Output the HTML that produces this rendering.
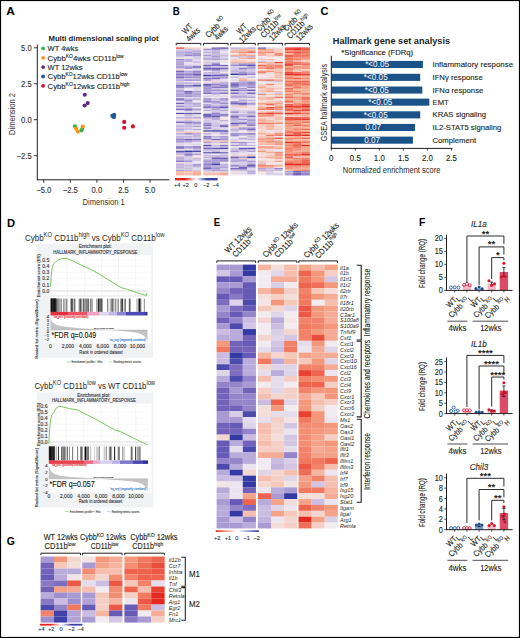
<!DOCTYPE html>
<html><head><meta charset="utf-8"><title>Figure</title>
<style>
html,body{margin:0;padding:0;background:#fff;}
body{width:520px;height:638px;overflow:hidden;}
svg{display:block;font-family:"Liberation Sans", sans-serif;}
</style></head>
<body>
<svg width="520" height="638" viewBox="0 0 520 638">
<rect x="0" y="0" width="520" height="638" fill="#fff"/>
<text transform="translate(6.30 15.00) scale(1.156 1)" x="0" y="0" font-size="10.3" font-weight="bold" fill="#000">A</text>
<text transform="translate(172.80 15.00) scale(0.941 1)" x="0" y="0" font-size="10.3" font-weight="bold" fill="#000">B</text>
<text transform="translate(320.60 15.20) scale(1.075 1)" x="0" y="0" font-size="10.3" font-weight="bold" fill="#000">C</text>
<text transform="translate(6.90 226.80) scale(1.089 1)" x="0" y="0" font-size="10.3" font-weight="bold" fill="#000">D</text>
<text transform="translate(213.75 226.30) scale(0.932 1)" x="0" y="0" font-size="10.3" font-weight="bold" fill="#000">E</text>
<text transform="translate(419.00 226.30) scale(1.001 1)" x="0" y="0" font-size="10.3" font-weight="bold" fill="#000">F</text>
<text transform="translate(6.80 544.60) scale(1.011 1)" x="0" y="0" font-size="10.3" font-weight="bold" fill="#000">G</text>
<text x="48.50" y="40.60" font-size="7.7" font-weight="bold" fill="#231f20" textLength="110.00" lengthAdjust="spacingAndGlyphs" >Multi dimensional scaling plot</text>
<line x1="37.30" y1="44.50" x2="37.30" y2="180.20" stroke="#231f20" stroke-width="1.0" />
<line x1="36.90" y1="179.80" x2="169.40" y2="179.80" stroke="#231f20" stroke-width="1.0" />
<line x1="33.90" y1="47.80" x2="37.30" y2="47.80" stroke="#231f20" stroke-width="0.9" />
<text x="31.70" y="50.90" font-size="8.8" text-anchor="end" fill="#333" stroke="#333" stroke-width="0.12" textLength="10.64" lengthAdjust="spacingAndGlyphs" >5.0</text>
<line x1="33.90" y1="83.75" x2="37.30" y2="83.75" stroke="#231f20" stroke-width="0.9" />
<text x="31.70" y="86.85" font-size="8.8" text-anchor="end" fill="#333" stroke="#333" stroke-width="0.12" textLength="10.64" lengthAdjust="spacingAndGlyphs" >2.5</text>
<line x1="33.90" y1="119.70" x2="37.30" y2="119.70" stroke="#231f20" stroke-width="0.9" />
<text x="31.70" y="122.80" font-size="8.8" text-anchor="end" fill="#333" stroke="#333" stroke-width="0.12" textLength="10.64" lengthAdjust="spacingAndGlyphs" >0.0</text>
<line x1="33.90" y1="155.65" x2="37.30" y2="155.65" stroke="#231f20" stroke-width="0.9" />
<text x="31.70" y="158.75" font-size="8.8" text-anchor="end" fill="#333" stroke="#333" stroke-width="0.12" textLength="15.11" lengthAdjust="spacingAndGlyphs" >−2.5</text>
<line x1="43.75" y1="179.80" x2="43.75" y2="182.80" stroke="#231f20" stroke-width="0.9" />
<text x="43.75" y="192.90" font-size="8.8" text-anchor="middle" fill="#333" stroke="#333" stroke-width="0.12" textLength="15.11" lengthAdjust="spacingAndGlyphs" >−5.0</text>
<line x1="70.33" y1="179.80" x2="70.33" y2="182.80" stroke="#231f20" stroke-width="0.9" />
<text x="70.33" y="192.90" font-size="8.8" text-anchor="middle" fill="#333" stroke="#333" stroke-width="0.12" textLength="15.11" lengthAdjust="spacingAndGlyphs" >−2.5</text>
<line x1="96.90" y1="179.80" x2="96.90" y2="182.80" stroke="#231f20" stroke-width="0.9" />
<text x="96.90" y="192.90" font-size="8.8" text-anchor="middle" fill="#333" stroke="#333" stroke-width="0.12" textLength="10.64" lengthAdjust="spacingAndGlyphs" >0.0</text>
<line x1="123.48" y1="179.80" x2="123.48" y2="182.80" stroke="#231f20" stroke-width="0.9" />
<text x="123.48" y="192.90" font-size="8.8" text-anchor="middle" fill="#333" stroke="#333" stroke-width="0.12" textLength="10.64" lengthAdjust="spacingAndGlyphs" >2.5</text>
<line x1="150.05" y1="179.80" x2="150.05" y2="182.80" stroke="#231f20" stroke-width="0.9" />
<text x="150.05" y="192.90" font-size="8.8" text-anchor="middle" fill="#333" stroke="#333" stroke-width="0.12" textLength="10.64" lengthAdjust="spacingAndGlyphs" >5.0</text>
<text x="103.70" y="204.80" font-size="9.6" text-anchor="middle" fill="#333" textLength="42.30" lengthAdjust="spacingAndGlyphs" >Dimension 1</text>
<text x="14.90" y="114.00" font-size="9.6" text-anchor="middle" fill="#333" textLength="41.90" lengthAdjust="spacingAndGlyphs" transform="rotate(-90 14.90 114.00)" >Dimension 2</text>
<circle cx="43.10" cy="48.30" r="1.9" fill="#35b34a" />
<text x="47.60" y="51.00" font-size="7.5" fill="#231f20" stroke="#231f20" stroke-width="0.12" >WT 4wks</text>
<circle cx="43.10" cy="57.80" r="1.9" fill="#f7941d" />
<text x="47.60" y="60.50" font-size="7.5" fill="#231f20" stroke="#231f20" stroke-width="0.12" textLength="76.10" lengthAdjust="spacingAndGlyphs" >Cybb<tspan baseline-shift="2.8" font-size="4.8">KO</tspan>4wks CD11b<tspan baseline-shift="2.8" font-size="4.8">low</tspan></text>
<circle cx="43.10" cy="67.10" r="1.9" fill="#5b2a86" />
<text x="47.60" y="69.80" font-size="7.5" fill="#231f20" stroke="#231f20" stroke-width="0.12" >WT 12wks</text>
<circle cx="43.10" cy="76.50" r="1.9" fill="#1b5a96" />
<text x="47.60" y="79.20" font-size="7.5" fill="#231f20" stroke="#231f20" stroke-width="0.12" textLength="79.60" lengthAdjust="spacingAndGlyphs" >Cybb<tspan baseline-shift="2.8" font-size="4.8">KO</tspan>12wks CD11b<tspan baseline-shift="2.8" font-size="4.8">low</tspan></text>
<circle cx="43.10" cy="85.80" r="1.9" fill="#d0112b" />
<text x="47.60" y="88.50" font-size="7.5" fill="#231f20" stroke="#231f20" stroke-width="0.12" textLength="81.90" lengthAdjust="spacingAndGlyphs" >Cybb<tspan baseline-shift="2.8" font-size="4.8">KO</tspan>12wks CD11b<tspan baseline-shift="2.8" font-size="4.8">high</tspan></text>
<circle cx="84.80" cy="94.80" r="2.05" fill="#5b2a86" />
<circle cx="84.60" cy="105.50" r="2.05" fill="#5b2a86" />
<circle cx="87.70" cy="103.10" r="2.05" fill="#5b2a86" />
<circle cx="74.90" cy="126.30" r="2.05" fill="#35b34a" />
<circle cx="81.40" cy="130.50" r="2.05" fill="#35b34a" />
<circle cx="82.30" cy="128.80" r="2.05" fill="#35b34a" />
<circle cx="76.10" cy="128.60" r="2.05" fill="#f7941d" />
<circle cx="77.90" cy="131.60" r="2.05" fill="#f7941d" />
<circle cx="82.80" cy="126.50" r="2.05" fill="#f7941d" />
<circle cx="112.30" cy="115.70" r="2.05" fill="#1b5a96" />
<circle cx="114.20" cy="114.70" r="2.05" fill="#1b5a96" />
<circle cx="114.00" cy="117.10" r="2.05" fill="#1b5a96" />
<circle cx="113.30" cy="116.60" r="2.05" fill="#1b5a96" />
<circle cx="124.20" cy="121.90" r="2.05" fill="#d0112b" />
<circle cx="124.20" cy="127.80" r="2.05" fill="#d0112b" />
<circle cx="132.90" cy="126.40" r="2.05" fill="#d0112b" />
<rect x="176.00" y="47.40" width="8.38" height="1.50" fill="#ea4d3c" />
<rect x="184.33" y="47.40" width="8.38" height="1.50" fill="#f6c8ba" />
<rect x="192.67" y="47.40" width="8.38" height="1.50" fill="#f5cfc5" />
<rect x="176.00" y="48.85" width="8.38" height="1.50" fill="#dfd5e9" />
<rect x="184.33" y="48.85" width="8.38" height="1.50" fill="#c6b9df" />
<rect x="192.67" y="48.85" width="8.38" height="1.50" fill="#dcd2e8" />
<rect x="176.00" y="50.31" width="8.38" height="1.50" fill="#bfb1dc" />
<rect x="184.33" y="50.31" width="8.38" height="1.50" fill="#c6b9df" />
<rect x="192.67" y="50.31" width="8.38" height="1.50" fill="#af9fd5" />
<rect x="176.00" y="51.76" width="8.38" height="1.50" fill="#bbacda" />
<rect x="184.33" y="51.76" width="8.38" height="1.50" fill="#aa9ad3" />
<rect x="192.67" y="51.76" width="8.38" height="1.50" fill="#c5b7de" />
<rect x="176.00" y="53.22" width="8.38" height="1.50" fill="#b1a2d6" />
<rect x="184.33" y="53.22" width="8.38" height="1.50" fill="#af9fd5" />
<rect x="192.67" y="53.22" width="8.38" height="1.50" fill="#9584c9" />
<rect x="176.00" y="54.67" width="8.38" height="1.50" fill="#c0b3dc" />
<rect x="184.33" y="54.67" width="8.38" height="1.50" fill="#9585ca" />
<rect x="192.67" y="54.67" width="8.38" height="1.50" fill="#a191cf" />
<rect x="176.00" y="56.13" width="8.38" height="1.50" fill="#cabee1" />
<rect x="184.33" y="56.13" width="8.38" height="1.50" fill="#d8cde6" />
<rect x="192.67" y="56.13" width="8.38" height="1.50" fill="#cabde1" />
<rect x="176.00" y="57.58" width="8.38" height="1.50" fill="#f3e4e3" />
<rect x="184.33" y="57.58" width="8.38" height="1.50" fill="#e9e1ec" />
<rect x="192.67" y="57.58" width="8.38" height="1.50" fill="#d5c9e5" />
<rect x="176.00" y="59.04" width="8.38" height="1.50" fill="#9282c8" />
<rect x="184.33" y="59.04" width="8.38" height="1.50" fill="#b4a5d7" />
<rect x="192.67" y="59.04" width="8.38" height="1.50" fill="#ded4e9" />
<rect x="176.00" y="60.49" width="8.38" height="1.50" fill="#bcaedb" />
<rect x="184.33" y="60.49" width="8.38" height="1.50" fill="#b4a5d7" />
<rect x="192.67" y="60.49" width="8.38" height="1.50" fill="#d6cae5" />
<rect x="176.00" y="61.95" width="8.38" height="1.50" fill="#b0a1d6" />
<rect x="184.33" y="61.95" width="8.38" height="1.50" fill="#eee7ef" />
<rect x="192.67" y="61.95" width="8.38" height="1.50" fill="#cec1e2" />
<rect x="176.00" y="63.40" width="8.38" height="1.50" fill="#a191cf" />
<rect x="184.33" y="63.40" width="8.38" height="1.50" fill="#e1d8ea" />
<rect x="192.67" y="63.40" width="8.38" height="1.50" fill="#e3daea" />
<rect x="176.00" y="64.85" width="8.38" height="1.50" fill="#c5b7de" />
<rect x="184.33" y="64.85" width="8.38" height="1.50" fill="#d4c9e5" />
<rect x="192.67" y="64.85" width="8.38" height="1.50" fill="#d4c9e5" />
<rect x="176.00" y="66.31" width="8.38" height="1.50" fill="#8b7bc5" />
<rect x="184.33" y="66.31" width="8.38" height="1.50" fill="#9686ca" />
<rect x="192.67" y="66.31" width="8.38" height="1.50" fill="#4e4aae" />
<rect x="176.00" y="67.76" width="8.38" height="1.50" fill="#cbbfe1" />
<rect x="184.33" y="67.76" width="8.38" height="1.50" fill="#a595d1" />
<rect x="192.67" y="67.76" width="8.38" height="1.50" fill="#cdc1e2" />
<rect x="176.00" y="69.22" width="8.38" height="1.50" fill="#f5d3cb" />
<rect x="184.33" y="69.22" width="8.38" height="1.50" fill="#efe9ef" />
<rect x="192.67" y="69.22" width="8.38" height="1.50" fill="#dcd2e8" />
<rect x="176.00" y="70.67" width="8.38" height="1.50" fill="#7a69bd" />
<rect x="184.33" y="70.67" width="8.38" height="1.50" fill="#b2a3d7" />
<rect x="192.67" y="70.67" width="8.38" height="1.50" fill="#9888cb" />
<rect x="176.00" y="72.13" width="8.38" height="1.50" fill="#aa9ad3" />
<rect x="184.33" y="72.13" width="8.38" height="1.50" fill="#b6a7d8" />
<rect x="192.67" y="72.13" width="8.38" height="1.50" fill="#9b8bcc" />
<rect x="176.00" y="73.58" width="8.38" height="1.50" fill="#8372c1" />
<rect x="184.33" y="73.58" width="8.38" height="1.50" fill="#8e7dc6" />
<rect x="192.67" y="73.58" width="8.38" height="1.50" fill="#7362ba" />
<rect x="176.00" y="75.04" width="8.38" height="1.50" fill="#a898d2" />
<rect x="184.33" y="75.04" width="8.38" height="1.50" fill="#b0a0d5" />
<rect x="192.67" y="75.04" width="8.38" height="1.50" fill="#9282c8" />
<rect x="176.00" y="76.49" width="8.38" height="1.50" fill="#7968bd" />
<rect x="184.33" y="76.49" width="8.38" height="1.50" fill="#9a8acc" />
<rect x="192.67" y="76.49" width="8.38" height="1.50" fill="#a696d1" />
<rect x="176.00" y="77.95" width="8.38" height="1.50" fill="#bcadda" />
<rect x="184.33" y="77.95" width="8.38" height="1.50" fill="#d6cae5" />
<rect x="192.67" y="77.95" width="8.38" height="1.50" fill="#c9bce0" />
<rect x="176.00" y="79.40" width="8.38" height="1.50" fill="#af9fd5" />
<rect x="184.33" y="79.40" width="8.38" height="1.50" fill="#8a7ac5" />
<rect x="192.67" y="79.40" width="8.38" height="1.50" fill="#9989cb" />
<rect x="176.00" y="80.85" width="8.38" height="1.50" fill="#dcd1e8" />
<rect x="184.33" y="80.85" width="8.38" height="1.50" fill="#efe8ef" />
<rect x="192.67" y="80.85" width="8.38" height="1.50" fill="#efe8ef" />
<rect x="176.00" y="82.31" width="8.38" height="1.50" fill="#b5a6d8" />
<rect x="184.33" y="82.31" width="8.38" height="1.50" fill="#b0a0d5" />
<rect x="192.67" y="82.31" width="8.38" height="1.50" fill="#c0b3dc" />
<rect x="176.00" y="83.76" width="8.38" height="1.50" fill="#c0b2dc" />
<rect x="184.33" y="83.76" width="8.38" height="1.50" fill="#d6cbe5" />
<rect x="192.67" y="83.76" width="8.38" height="1.50" fill="#b9aad9" />
<rect x="176.00" y="85.22" width="8.38" height="1.50" fill="#5e55b3" />
<rect x="184.33" y="85.22" width="8.38" height="1.50" fill="#6f60b9" />
<rect x="192.67" y="85.22" width="8.38" height="1.50" fill="#343aa5" />
<rect x="176.00" y="86.67" width="8.38" height="1.50" fill="#9888cb" />
<rect x="184.33" y="86.67" width="8.38" height="1.50" fill="#cbbfe1" />
<rect x="192.67" y="86.67" width="8.38" height="1.50" fill="#dacfe7" />
<rect x="176.00" y="88.13" width="8.38" height="1.50" fill="#cdc1e2" />
<rect x="184.33" y="88.13" width="8.38" height="1.50" fill="#ede6ee" />
<rect x="192.67" y="88.13" width="8.38" height="1.50" fill="#dcd1e8" />
<rect x="176.00" y="89.58" width="8.38" height="1.50" fill="#b8a9d9" />
<rect x="184.33" y="89.58" width="8.38" height="1.50" fill="#eae2ed" />
<rect x="192.67" y="89.58" width="8.38" height="1.50" fill="#dfd5e9" />
<rect x="176.00" y="91.04" width="8.38" height="1.50" fill="#ac9dd4" />
<rect x="184.33" y="91.04" width="8.38" height="1.50" fill="#665ab6" />
<rect x="192.67" y="91.04" width="8.38" height="1.50" fill="#a393d0" />
<rect x="176.00" y="92.49" width="8.38" height="1.50" fill="#bdafdb" />
<rect x="184.33" y="92.49" width="8.38" height="1.50" fill="#8675c3" />
<rect x="192.67" y="92.49" width="8.38" height="1.50" fill="#bbadda" />
<rect x="176.00" y="93.95" width="8.38" height="1.50" fill="#aa9ad3" />
<rect x="184.33" y="93.95" width="8.38" height="1.50" fill="#bbadda" />
<rect x="192.67" y="93.95" width="8.38" height="1.50" fill="#ad9dd4" />
<rect x="176.00" y="95.40" width="8.38" height="1.50" fill="#9b8bcc" />
<rect x="184.33" y="95.40" width="8.38" height="1.50" fill="#8d7cc6" />
<rect x="192.67" y="95.40" width="8.38" height="1.50" fill="#a696d1" />
<rect x="176.00" y="96.85" width="8.38" height="1.50" fill="#e5dceb" />
<rect x="184.33" y="96.85" width="8.38" height="1.50" fill="#e7deec" />
<rect x="192.67" y="96.85" width="8.38" height="1.50" fill="#e3daea" />
<rect x="176.00" y="98.31" width="8.38" height="1.50" fill="#6c5db8" />
<rect x="184.33" y="98.31" width="8.38" height="1.50" fill="#c1b4dd" />
<rect x="192.67" y="98.31" width="8.38" height="1.50" fill="#af9fd5" />
<rect x="176.00" y="99.76" width="8.38" height="1.50" fill="#ac9cd4" />
<rect x="184.33" y="99.76" width="8.38" height="1.50" fill="#9c8ccd" />
<rect x="192.67" y="99.76" width="8.38" height="1.50" fill="#e6deec" />
<rect x="176.00" y="101.22" width="8.38" height="1.50" fill="#e9e1ed" />
<rect x="184.33" y="101.22" width="8.38" height="1.50" fill="#b3a4d7" />
<rect x="192.67" y="101.22" width="8.38" height="1.50" fill="#ede6ee" />
<rect x="176.00" y="102.67" width="8.38" height="1.50" fill="#7362ba" />
<rect x="184.33" y="102.67" width="8.38" height="1.50" fill="#bbadda" />
<rect x="192.67" y="102.67" width="8.38" height="1.50" fill="#b3a4d7" />
<rect x="176.00" y="104.13" width="8.38" height="1.50" fill="#d8cde6" />
<rect x="184.33" y="104.13" width="8.38" height="1.50" fill="#c6b8df" />
<rect x="192.67" y="104.13" width="8.38" height="1.50" fill="#b7a8d8" />
<rect x="176.00" y="105.58" width="8.38" height="1.50" fill="#9f8fce" />
<rect x="184.33" y="105.58" width="8.38" height="1.50" fill="#c6b9df" />
<rect x="192.67" y="105.58" width="8.38" height="1.50" fill="#bdafdb" />
<rect x="176.00" y="107.04" width="8.38" height="1.50" fill="#dbd0e7" />
<rect x="184.33" y="107.04" width="8.38" height="1.50" fill="#cbbfe1" />
<rect x="192.67" y="107.04" width="8.38" height="1.50" fill="#ebe3ed" />
<rect x="176.00" y="108.49" width="8.38" height="1.50" fill="#7f6fc0" />
<rect x="184.33" y="108.49" width="8.38" height="1.50" fill="#7f6ebf" />
<rect x="192.67" y="108.49" width="8.38" height="1.50" fill="#ab9cd4" />
<rect x="176.00" y="109.95" width="8.38" height="1.50" fill="#dbd1e7" />
<rect x="184.33" y="109.95" width="8.38" height="1.50" fill="#a595d1" />
<rect x="192.67" y="109.95" width="8.38" height="1.50" fill="#cdc0e2" />
<rect x="176.00" y="111.40" width="8.38" height="1.50" fill="#f1ebf0" />
<rect x="184.33" y="111.40" width="8.38" height="1.50" fill="#ece4ee" />
<rect x="192.67" y="111.40" width="8.38" height="1.50" fill="#e8e0ec" />
<rect x="176.00" y="112.85" width="8.38" height="1.50" fill="#5650b0" />
<rect x="184.33" y="112.85" width="8.38" height="1.50" fill="#6b5db7" />
<rect x="192.67" y="112.85" width="8.38" height="1.50" fill="#665ab6" />
<rect x="176.00" y="114.31" width="8.38" height="1.50" fill="#f3e4e4" />
<rect x="184.33" y="114.31" width="8.38" height="1.50" fill="#beb0db" />
<rect x="192.67" y="114.31" width="8.38" height="1.50" fill="#e0d7e9" />
<rect x="176.00" y="115.76" width="8.38" height="1.50" fill="#e9e2ed" />
<rect x="184.33" y="115.76" width="8.38" height="1.50" fill="#d7cce6" />
<rect x="192.67" y="115.76" width="8.38" height="1.50" fill="#ded5e9" />
<rect x="176.00" y="117.22" width="8.38" height="1.50" fill="#b1a2d6" />
<rect x="184.33" y="117.22" width="8.38" height="1.50" fill="#b1a2d6" />
<rect x="192.67" y="117.22" width="8.38" height="1.50" fill="#a999d3" />
<rect x="176.00" y="118.67" width="8.38" height="1.50" fill="#f3e2e1" />
<rect x="184.33" y="118.67" width="8.38" height="1.50" fill="#f5d3cb" />
<rect x="192.67" y="118.67" width="8.38" height="1.50" fill="#f3e1e0" />
<rect x="176.00" y="120.13" width="8.38" height="1.50" fill="#dcd2e8" />
<rect x="184.33" y="120.13" width="8.38" height="1.50" fill="#cabde1" />
<rect x="192.67" y="120.13" width="8.38" height="1.50" fill="#dbd0e7" />
<rect x="176.00" y="121.58" width="8.38" height="1.50" fill="#7c6bbe" />
<rect x="184.33" y="121.58" width="8.38" height="1.50" fill="#8776c3" />
<rect x="192.67" y="121.58" width="8.38" height="1.50" fill="#a090ce" />
<rect x="176.00" y="123.04" width="8.38" height="1.50" fill="#e1d8ea" />
<rect x="184.33" y="123.04" width="8.38" height="1.50" fill="#b3a4d7" />
<rect x="192.67" y="123.04" width="8.38" height="1.50" fill="#a393d0" />
<rect x="176.00" y="124.49" width="8.38" height="1.50" fill="#cfc2e3" />
<rect x="184.33" y="124.49" width="8.38" height="1.50" fill="#c6b9df" />
<rect x="192.67" y="124.49" width="8.38" height="1.50" fill="#d5cae5" />
<rect x="176.00" y="125.95" width="8.38" height="1.50" fill="#c1b3dd" />
<rect x="184.33" y="125.95" width="8.38" height="1.50" fill="#c7badf" />
<rect x="192.67" y="125.95" width="8.38" height="1.50" fill="#ae9ed5" />
<rect x="176.00" y="127.40" width="8.38" height="1.50" fill="#ccc0e2" />
<rect x="184.33" y="127.40" width="8.38" height="1.50" fill="#cdc0e2" />
<rect x="192.67" y="127.40" width="8.38" height="1.50" fill="#eee7ee" />
<rect x="176.00" y="128.85" width="8.38" height="1.50" fill="#b7a8d9" />
<rect x="184.33" y="128.85" width="8.38" height="1.50" fill="#cfc2e3" />
<rect x="192.67" y="128.85" width="8.38" height="1.50" fill="#b4a5d7" />
<rect x="176.00" y="130.31" width="8.38" height="1.50" fill="#c0b2dc" />
<rect x="184.33" y="130.31" width="8.38" height="1.50" fill="#e3daea" />
<rect x="192.67" y="130.31" width="8.38" height="1.50" fill="#e7dfec" />
<rect x="176.00" y="131.76" width="8.38" height="1.50" fill="#f5d2c9" />
<rect x="184.33" y="131.76" width="8.38" height="1.50" fill="#f6bfaf" />
<rect x="192.67" y="131.76" width="8.38" height="1.50" fill="#f6ccc0" />
<rect x="176.00" y="133.22" width="8.38" height="1.50" fill="#ae9ed5" />
<rect x="184.33" y="133.22" width="8.38" height="1.50" fill="#8776c3" />
<rect x="192.67" y="133.22" width="8.38" height="1.50" fill="#aa9ad3" />
<rect x="176.00" y="134.67" width="8.38" height="1.50" fill="#e2d9ea" />
<rect x="184.33" y="134.67" width="8.38" height="1.50" fill="#e1d8ea" />
<rect x="192.67" y="134.67" width="8.38" height="1.50" fill="#c1b3dd" />
<rect x="176.00" y="136.13" width="8.38" height="1.50" fill="#b9abd9" />
<rect x="184.33" y="136.13" width="8.38" height="1.50" fill="#b7a8d8" />
<rect x="192.67" y="136.13" width="8.38" height="1.50" fill="#bdafdb" />
<rect x="176.00" y="137.58" width="8.38" height="1.50" fill="#bcaedb" />
<rect x="184.33" y="137.58" width="8.38" height="1.50" fill="#ccc0e2" />
<rect x="192.67" y="137.58" width="8.38" height="1.50" fill="#cdc0e2" />
<rect x="176.00" y="139.04" width="8.38" height="1.50" fill="#9282c8" />
<rect x="184.33" y="139.04" width="8.38" height="1.50" fill="#6c5eb8" />
<rect x="192.67" y="139.04" width="8.38" height="1.50" fill="#7c6bbe" />
<rect x="176.00" y="140.49" width="8.38" height="1.50" fill="#a796d1" />
<rect x="184.33" y="140.49" width="8.38" height="1.50" fill="#aa9ad3" />
<rect x="192.67" y="140.49" width="8.38" height="1.50" fill="#c0b2dc" />
<rect x="176.00" y="141.95" width="8.38" height="1.50" fill="#c2b4dd" />
<rect x="184.33" y="141.95" width="8.38" height="1.50" fill="#d3c8e4" />
<rect x="192.67" y="141.95" width="8.38" height="1.50" fill="#ece5ee" />
<rect x="176.00" y="143.40" width="8.38" height="1.50" fill="#dbd1e7" />
<rect x="184.33" y="143.40" width="8.38" height="1.50" fill="#e1d8ea" />
<rect x="192.67" y="143.40" width="8.38" height="1.50" fill="#ded4e8" />
<rect x="176.00" y="144.85" width="8.38" height="1.50" fill="#e3dbeb" />
<rect x="184.33" y="144.85" width="8.38" height="1.50" fill="#ebe3ed" />
<rect x="192.67" y="144.85" width="8.38" height="1.50" fill="#e5ddeb" />
<rect x="176.00" y="146.31" width="8.38" height="1.50" fill="#685bb6" />
<rect x="184.33" y="146.31" width="8.38" height="1.50" fill="#8d7dc6" />
<rect x="192.67" y="146.31" width="8.38" height="1.50" fill="#7463bb" />
<rect x="176.00" y="147.76" width="8.38" height="1.50" fill="#9484c9" />
<rect x="184.33" y="147.76" width="8.38" height="1.50" fill="#c9bde0" />
<rect x="192.67" y="147.76" width="8.38" height="1.50" fill="#b5a6d8" />
<rect x="176.00" y="149.22" width="8.38" height="1.50" fill="#f3e1e0" />
<rect x="184.33" y="149.22" width="8.38" height="1.50" fill="#dbd1e7" />
<rect x="192.67" y="149.22" width="8.38" height="1.50" fill="#c0b2dc" />
<rect x="176.00" y="150.67" width="8.38" height="1.50" fill="#5f55b3" />
<rect x="184.33" y="150.67" width="8.38" height="1.50" fill="#343aa5" />
<rect x="192.67" y="150.67" width="8.38" height="1.50" fill="#4f4bae" />
<rect x="176.00" y="152.13" width="8.38" height="1.50" fill="#9c8bcc" />
<rect x="184.33" y="152.13" width="8.38" height="1.50" fill="#a898d2" />
<rect x="192.67" y="152.13" width="8.38" height="1.50" fill="#d6cbe6" />
<rect x="176.00" y="153.58" width="8.38" height="1.50" fill="#cdc1e2" />
<rect x="184.33" y="153.58" width="8.38" height="1.50" fill="#8e7ec6" />
<rect x="192.67" y="153.58" width="8.38" height="1.50" fill="#afa0d5" />
<rect x="176.00" y="155.04" width="8.38" height="1.50" fill="#f5d4cc" />
<rect x="184.33" y="155.04" width="8.38" height="1.50" fill="#a392d0" />
<rect x="192.67" y="155.04" width="8.38" height="1.50" fill="#f4dbd7" />
<rect x="176.00" y="156.49" width="8.38" height="1.50" fill="#bdafdb" />
<rect x="184.33" y="156.49" width="8.38" height="1.50" fill="#d3c7e4" />
<rect x="192.67" y="156.49" width="8.38" height="1.50" fill="#f3e3e2" />
<rect x="176.00" y="157.95" width="8.38" height="1.50" fill="#b8aad9" />
<rect x="184.33" y="157.95" width="8.38" height="1.50" fill="#dbd1e7" />
<rect x="192.67" y="157.95" width="8.38" height="1.50" fill="#c4b6de" />
<rect x="176.00" y="159.40" width="8.38" height="1.50" fill="#ad9dd4" />
<rect x="184.33" y="159.40" width="8.38" height="1.50" fill="#bdafdb" />
<rect x="192.67" y="159.40" width="8.38" height="1.50" fill="#c9bce0" />
<rect x="176.00" y="160.85" width="8.38" height="1.50" fill="#8e7ec6" />
<rect x="184.33" y="160.85" width="8.38" height="1.50" fill="#a291cf" />
<rect x="192.67" y="160.85" width="8.38" height="1.50" fill="#e9e1ed" />
<rect x="176.00" y="162.31" width="8.38" height="1.50" fill="#f4dbd6" />
<rect x="184.33" y="162.31" width="8.38" height="1.50" fill="#e1d8ea" />
<rect x="192.67" y="162.31" width="8.38" height="1.50" fill="#efe9ef" />
<rect x="176.00" y="163.76" width="8.38" height="1.50" fill="#b9abda" />
<rect x="184.33" y="163.76" width="8.38" height="1.50" fill="#d5c9e5" />
<rect x="192.67" y="163.76" width="8.38" height="1.50" fill="#ac9cd4" />
<rect x="176.00" y="165.22" width="8.38" height="1.50" fill="#c0b2dc" />
<rect x="184.33" y="165.22" width="8.38" height="1.50" fill="#c2b4dd" />
<rect x="192.67" y="165.22" width="8.38" height="1.50" fill="#9989cb" />
<rect x="176.00" y="166.67" width="8.38" height="1.50" fill="#c2b5dd" />
<rect x="184.33" y="166.67" width="8.38" height="1.50" fill="#d5c9e5" />
<rect x="192.67" y="166.67" width="8.38" height="1.50" fill="#d5c9e5" />
<rect x="176.00" y="168.13" width="8.38" height="1.50" fill="#cfc3e3" />
<rect x="184.33" y="168.13" width="8.38" height="1.50" fill="#c3b6de" />
<rect x="192.67" y="168.13" width="8.38" height="1.50" fill="#e3dbeb" />
<rect x="176.00" y="169.58" width="8.38" height="1.50" fill="#b5a6d8" />
<rect x="184.33" y="169.58" width="8.38" height="1.50" fill="#c3b5dd" />
<rect x="192.67" y="169.58" width="8.38" height="1.50" fill="#d7cce6" />
<rect x="176.00" y="171.04" width="8.38" height="1.50" fill="#f5b5a1" />
<rect x="184.33" y="171.04" width="8.38" height="1.50" fill="#f6beae" />
<rect x="192.67" y="171.04" width="8.38" height="1.50" fill="#f5ab95" />
<rect x="176.00" y="172.49" width="8.38" height="1.50" fill="#f5b5a1" />
<rect x="184.33" y="172.49" width="8.38" height="1.50" fill="#f6beae" />
<rect x="192.67" y="172.49" width="8.38" height="1.50" fill="#f5ab95" />
<rect x="176.00" y="173.95" width="8.38" height="1.50" fill="#f5b5a1" />
<rect x="184.33" y="173.95" width="8.38" height="1.50" fill="#f6beae" />
<rect x="192.67" y="173.95" width="8.38" height="1.50" fill="#f5ab95" />
<rect x="203.30" y="47.40" width="8.38" height="1.50" fill="#f4deda" />
<rect x="211.63" y="47.40" width="8.38" height="1.50" fill="#7e6dbf" />
<rect x="219.97" y="47.40" width="8.38" height="1.50" fill="#665ab6" />
<rect x="203.30" y="48.85" width="8.38" height="1.50" fill="#9a89cc" />
<rect x="211.63" y="48.85" width="8.38" height="1.50" fill="#9b8bcc" />
<rect x="219.97" y="48.85" width="8.38" height="1.50" fill="#c9bce0" />
<rect x="203.30" y="50.31" width="8.38" height="1.50" fill="#ddd3e8" />
<rect x="211.63" y="50.31" width="8.38" height="1.50" fill="#c1b3dd" />
<rect x="219.97" y="50.31" width="8.38" height="1.50" fill="#d9cee7" />
<rect x="203.30" y="51.76" width="8.38" height="1.50" fill="#bcaedb" />
<rect x="211.63" y="51.76" width="8.38" height="1.50" fill="#bbadda" />
<rect x="219.97" y="51.76" width="8.38" height="1.50" fill="#f2ecf0" />
<rect x="203.30" y="53.22" width="8.38" height="1.50" fill="#ddd4e8" />
<rect x="211.63" y="53.22" width="8.38" height="1.50" fill="#bdafdb" />
<rect x="219.97" y="53.22" width="8.38" height="1.50" fill="#d5cae5" />
<rect x="203.30" y="54.67" width="8.38" height="1.50" fill="#a999d3" />
<rect x="211.63" y="54.67" width="8.38" height="1.50" fill="#bfb1dc" />
<rect x="219.97" y="54.67" width="8.38" height="1.50" fill="#c8bbe0" />
<rect x="203.30" y="56.13" width="8.38" height="1.50" fill="#d2c6e4" />
<rect x="211.63" y="56.13" width="8.38" height="1.50" fill="#9e8ecd" />
<rect x="219.97" y="56.13" width="8.38" height="1.50" fill="#d0c4e3" />
<rect x="203.30" y="57.58" width="8.38" height="1.50" fill="#b7a9d9" />
<rect x="211.63" y="57.58" width="8.38" height="1.50" fill="#bfb2dc" />
<rect x="219.97" y="57.58" width="8.38" height="1.50" fill="#d3c8e4" />
<rect x="203.30" y="59.04" width="8.38" height="1.50" fill="#bcaedb" />
<rect x="211.63" y="59.04" width="8.38" height="1.50" fill="#ac9cd4" />
<rect x="219.97" y="59.04" width="8.38" height="1.50" fill="#c2b5dd" />
<rect x="203.30" y="60.49" width="8.38" height="1.50" fill="#f4d8d3" />
<rect x="211.63" y="60.49" width="8.38" height="1.50" fill="#e8e1ec" />
<rect x="219.97" y="60.49" width="8.38" height="1.50" fill="#f2e8ea" />
<rect x="203.30" y="61.95" width="8.38" height="1.50" fill="#d0c4e3" />
<rect x="211.63" y="61.95" width="8.38" height="1.50" fill="#ccbfe1" />
<rect x="219.97" y="61.95" width="8.38" height="1.50" fill="#e8e0ec" />
<rect x="203.30" y="63.40" width="8.38" height="1.50" fill="#d3c7e4" />
<rect x="211.63" y="63.40" width="8.38" height="1.50" fill="#7b6bbe" />
<rect x="219.97" y="63.40" width="8.38" height="1.50" fill="#f1ebf0" />
<rect x="203.30" y="64.85" width="8.38" height="1.50" fill="#7968bd" />
<rect x="211.63" y="64.85" width="8.38" height="1.50" fill="#7e6ebf" />
<rect x="219.97" y="64.85" width="8.38" height="1.50" fill="#7564bb" />
<rect x="203.30" y="66.31" width="8.38" height="1.50" fill="#afa0d5" />
<rect x="211.63" y="66.31" width="8.38" height="1.50" fill="#d2c6e4" />
<rect x="219.97" y="66.31" width="8.38" height="1.50" fill="#ccbfe1" />
<rect x="203.30" y="67.76" width="8.38" height="1.50" fill="#6a5cb7" />
<rect x="211.63" y="67.76" width="8.38" height="1.50" fill="#675bb6" />
<rect x="219.97" y="67.76" width="8.38" height="1.50" fill="#7766bc" />
<rect x="203.30" y="69.22" width="8.38" height="1.50" fill="#8a79c4" />
<rect x="211.63" y="69.22" width="8.38" height="1.50" fill="#7766bc" />
<rect x="219.97" y="69.22" width="8.38" height="1.50" fill="#b7a8d8" />
<rect x="203.30" y="70.67" width="8.38" height="1.50" fill="#f0eaef" />
<rect x="211.63" y="70.67" width="8.38" height="1.50" fill="#d3c7e4" />
<rect x="219.97" y="70.67" width="8.38" height="1.50" fill="#dad0e7" />
<rect x="203.30" y="72.13" width="8.38" height="1.50" fill="#bfb1dc" />
<rect x="211.63" y="72.13" width="8.38" height="1.50" fill="#bdafdb" />
<rect x="219.97" y="72.13" width="8.38" height="1.50" fill="#f3e5e6" />
<rect x="203.30" y="73.58" width="8.38" height="1.50" fill="#baacda" />
<rect x="211.63" y="73.58" width="8.38" height="1.50" fill="#b4a5d7" />
<rect x="219.97" y="73.58" width="8.38" height="1.50" fill="#9d8ccd" />
<rect x="203.30" y="75.04" width="8.38" height="1.50" fill="#343aa5" />
<rect x="211.63" y="75.04" width="8.38" height="1.50" fill="#6257b4" />
<rect x="219.97" y="75.04" width="8.38" height="1.50" fill="#7362ba" />
<rect x="203.30" y="76.49" width="8.38" height="1.50" fill="#c6b9df" />
<rect x="211.63" y="76.49" width="8.38" height="1.50" fill="#b6a8d8" />
<rect x="219.97" y="76.49" width="8.38" height="1.50" fill="#ae9fd5" />
<rect x="203.30" y="77.95" width="8.38" height="1.50" fill="#806fc0" />
<rect x="211.63" y="77.95" width="8.38" height="1.50" fill="#7b6abe" />
<rect x="219.97" y="77.95" width="8.38" height="1.50" fill="#c0b2dc" />
<rect x="203.30" y="79.40" width="8.38" height="1.50" fill="#a191cf" />
<rect x="211.63" y="79.40" width="8.38" height="1.50" fill="#dad0e7" />
<rect x="219.97" y="79.40" width="8.38" height="1.50" fill="#ece5ee" />
<rect x="203.30" y="80.85" width="8.38" height="1.50" fill="#f4ddda" />
<rect x="211.63" y="80.85" width="8.38" height="1.50" fill="#f4d8d2" />
<rect x="219.97" y="80.85" width="8.38" height="1.50" fill="#dfd5e9" />
<rect x="203.30" y="82.31" width="8.38" height="1.50" fill="#e3daea" />
<rect x="211.63" y="82.31" width="8.38" height="1.50" fill="#c4b6de" />
<rect x="219.97" y="82.31" width="8.38" height="1.50" fill="#ae9ed5" />
<rect x="203.30" y="83.76" width="8.38" height="1.50" fill="#695cb7" />
<rect x="211.63" y="83.76" width="8.38" height="1.50" fill="#9483c9" />
<rect x="219.97" y="83.76" width="8.38" height="1.50" fill="#b0a0d5" />
<rect x="203.30" y="85.22" width="8.38" height="1.50" fill="#675bb6" />
<rect x="211.63" y="85.22" width="8.38" height="1.50" fill="#a898d2" />
<rect x="219.97" y="85.22" width="8.38" height="1.50" fill="#7968bd" />
<rect x="203.30" y="86.67" width="8.38" height="1.50" fill="#aa9ad3" />
<rect x="211.63" y="86.67" width="8.38" height="1.50" fill="#8675c3" />
<rect x="219.97" y="86.67" width="8.38" height="1.50" fill="#8c7bc5" />
<rect x="203.30" y="88.13" width="8.38" height="1.50" fill="#9585ca" />
<rect x="211.63" y="88.13" width="8.38" height="1.50" fill="#c7badf" />
<rect x="219.97" y="88.13" width="8.38" height="1.50" fill="#d6cbe6" />
<rect x="203.30" y="89.58" width="8.38" height="1.50" fill="#a292cf" />
<rect x="211.63" y="89.58" width="8.38" height="1.50" fill="#9d8dcd" />
<rect x="219.97" y="89.58" width="8.38" height="1.50" fill="#a797d1" />
<rect x="203.30" y="91.04" width="8.38" height="1.50" fill="#ae9ed5" />
<rect x="211.63" y="91.04" width="8.38" height="1.50" fill="#ccc0e2" />
<rect x="219.97" y="91.04" width="8.38" height="1.50" fill="#d2c6e4" />
<rect x="203.30" y="92.49" width="8.38" height="1.50" fill="#7867bc" />
<rect x="211.63" y="92.49" width="8.38" height="1.50" fill="#a292d0" />
<rect x="219.97" y="92.49" width="8.38" height="1.50" fill="#8171c1" />
<rect x="203.30" y="93.95" width="8.38" height="1.50" fill="#efe8ef" />
<rect x="211.63" y="93.95" width="8.38" height="1.50" fill="#d3c7e4" />
<rect x="219.97" y="93.95" width="8.38" height="1.50" fill="#f3e4e4" />
<rect x="203.30" y="95.40" width="8.38" height="1.50" fill="#cfc3e3" />
<rect x="211.63" y="95.40" width="8.38" height="1.50" fill="#dbd0e7" />
<rect x="219.97" y="95.40" width="8.38" height="1.50" fill="#dbd1e7" />
<rect x="203.30" y="96.85" width="8.38" height="1.50" fill="#ebe3ed" />
<rect x="211.63" y="96.85" width="8.38" height="1.50" fill="#efe9ef" />
<rect x="219.97" y="96.85" width="8.38" height="1.50" fill="#f3e3e3" />
<rect x="203.30" y="98.31" width="8.38" height="1.50" fill="#8e7dc6" />
<rect x="211.63" y="98.31" width="8.38" height="1.50" fill="#bdaedb" />
<rect x="219.97" y="98.31" width="8.38" height="1.50" fill="#907fc7" />
<rect x="203.30" y="99.76" width="8.38" height="1.50" fill="#b0a0d5" />
<rect x="211.63" y="99.76" width="8.38" height="1.50" fill="#d6cbe6" />
<rect x="219.97" y="99.76" width="8.38" height="1.50" fill="#baabda" />
<rect x="203.30" y="101.22" width="8.38" height="1.50" fill="#7c6bbe" />
<rect x="211.63" y="101.22" width="8.38" height="1.50" fill="#8878c4" />
<rect x="219.97" y="101.22" width="8.38" height="1.50" fill="#c2b4dd" />
<rect x="203.30" y="102.67" width="8.38" height="1.50" fill="#e3daea" />
<rect x="211.63" y="102.67" width="8.38" height="1.50" fill="#c2b5dd" />
<rect x="219.97" y="102.67" width="8.38" height="1.50" fill="#9c8ccd" />
<rect x="203.30" y="104.13" width="8.38" height="1.50" fill="#ac9cd4" />
<rect x="211.63" y="104.13" width="8.38" height="1.50" fill="#d5cae5" />
<rect x="219.97" y="104.13" width="8.38" height="1.50" fill="#c8bbe0" />
<rect x="203.30" y="105.58" width="8.38" height="1.50" fill="#9686ca" />
<rect x="211.63" y="105.58" width="8.38" height="1.50" fill="#b1a2d6" />
<rect x="219.97" y="105.58" width="8.38" height="1.50" fill="#9786ca" />
<rect x="203.30" y="107.04" width="8.38" height="1.50" fill="#8574c2" />
<rect x="211.63" y="107.04" width="8.38" height="1.50" fill="#8f7fc7" />
<rect x="219.97" y="107.04" width="8.38" height="1.50" fill="#6056b4" />
<rect x="203.30" y="108.49" width="8.38" height="1.50" fill="#ddd3e8" />
<rect x="211.63" y="108.49" width="8.38" height="1.50" fill="#afa0d5" />
<rect x="219.97" y="108.49" width="8.38" height="1.50" fill="#dbd1e7" />
<rect x="203.30" y="109.95" width="8.38" height="1.50" fill="#bbadda" />
<rect x="211.63" y="109.95" width="8.38" height="1.50" fill="#d4c8e5" />
<rect x="219.97" y="109.95" width="8.38" height="1.50" fill="#b0a1d6" />
<rect x="203.30" y="111.40" width="8.38" height="1.50" fill="#f2e9ec" />
<rect x="211.63" y="111.40" width="8.38" height="1.50" fill="#c4b6de" />
<rect x="219.97" y="111.40" width="8.38" height="1.50" fill="#ded5e9" />
<rect x="203.30" y="112.85" width="8.38" height="1.50" fill="#c5b8de" />
<rect x="211.63" y="112.85" width="8.38" height="1.50" fill="#9685ca" />
<rect x="219.97" y="112.85" width="8.38" height="1.50" fill="#d0c4e3" />
<rect x="203.30" y="114.31" width="8.38" height="1.50" fill="#353ba5" />
<rect x="211.63" y="114.31" width="8.38" height="1.50" fill="#8777c3" />
<rect x="219.97" y="114.31" width="8.38" height="1.50" fill="#665ab6" />
<rect x="203.30" y="115.76" width="8.38" height="1.50" fill="#7e6dbf" />
<rect x="211.63" y="115.76" width="8.38" height="1.50" fill="#6a5cb7" />
<rect x="219.97" y="115.76" width="8.38" height="1.50" fill="#c8bbe0" />
<rect x="203.30" y="117.22" width="8.38" height="1.50" fill="#9e8dcd" />
<rect x="211.63" y="117.22" width="8.38" height="1.50" fill="#9f8fce" />
<rect x="219.97" y="117.22" width="8.38" height="1.50" fill="#f3e2e1" />
<rect x="203.30" y="118.67" width="8.38" height="1.50" fill="#dfd6e9" />
<rect x="211.63" y="118.67" width="8.38" height="1.50" fill="#bcaedb" />
<rect x="219.97" y="118.67" width="8.38" height="1.50" fill="#f3e2e0" />
<rect x="203.30" y="120.13" width="8.38" height="1.50" fill="#cbbee1" />
<rect x="211.63" y="120.13" width="8.38" height="1.50" fill="#d6cbe6" />
<rect x="219.97" y="120.13" width="8.38" height="1.50" fill="#b6a7d8" />
<rect x="203.30" y="121.58" width="8.38" height="1.50" fill="#c8bbe0" />
<rect x="211.63" y="121.58" width="8.38" height="1.50" fill="#d7cce6" />
<rect x="219.97" y="121.58" width="8.38" height="1.50" fill="#e4dceb" />
<rect x="203.30" y="123.04" width="8.38" height="1.50" fill="#9d8dcd" />
<rect x="211.63" y="123.04" width="8.38" height="1.50" fill="#cfc3e3" />
<rect x="219.97" y="123.04" width="8.38" height="1.50" fill="#ece5ee" />
<rect x="203.30" y="124.49" width="8.38" height="1.50" fill="#8372c1" />
<rect x="211.63" y="124.49" width="8.38" height="1.50" fill="#c9bce0" />
<rect x="219.97" y="124.49" width="8.38" height="1.50" fill="#8c7bc5" />
<rect x="203.30" y="125.95" width="8.38" height="1.50" fill="#c8bbe0" />
<rect x="211.63" y="125.95" width="8.38" height="1.50" fill="#cec1e2" />
<rect x="219.97" y="125.95" width="8.38" height="1.50" fill="#7867bc" />
<rect x="203.30" y="127.40" width="8.38" height="1.50" fill="#8171c1" />
<rect x="211.63" y="127.40" width="8.38" height="1.50" fill="#d7cce6" />
<rect x="219.97" y="127.40" width="8.38" height="1.50" fill="#dcd2e8" />
<rect x="203.30" y="128.85" width="8.38" height="1.50" fill="#dcd2e8" />
<rect x="211.63" y="128.85" width="8.38" height="1.50" fill="#c9bce0" />
<rect x="219.97" y="128.85" width="8.38" height="1.50" fill="#dbd0e7" />
<rect x="203.30" y="130.31" width="8.38" height="1.50" fill="#4142a9" />
<rect x="211.63" y="130.31" width="8.38" height="1.50" fill="#393da7" />
<rect x="219.97" y="130.31" width="8.38" height="1.50" fill="#4c49ad" />
<rect x="203.30" y="131.76" width="8.38" height="1.50" fill="#f4ddd9" />
<rect x="211.63" y="131.76" width="8.38" height="1.50" fill="#d9cee6" />
<rect x="219.97" y="131.76" width="8.38" height="1.50" fill="#c0b2dc" />
<rect x="203.30" y="133.22" width="8.38" height="1.50" fill="#b6a8d8" />
<rect x="211.63" y="133.22" width="8.38" height="1.50" fill="#ded4e8" />
<rect x="219.97" y="133.22" width="8.38" height="1.50" fill="#ac9cd4" />
<rect x="203.30" y="134.67" width="8.38" height="1.50" fill="#e2d9ea" />
<rect x="211.63" y="134.67" width="8.38" height="1.50" fill="#f1ebf0" />
<rect x="219.97" y="134.67" width="8.38" height="1.50" fill="#f3e6e8" />
<rect x="203.30" y="136.13" width="8.38" height="1.50" fill="#7d6cbf" />
<rect x="211.63" y="136.13" width="8.38" height="1.50" fill="#b7a8d8" />
<rect x="219.97" y="136.13" width="8.38" height="1.50" fill="#9a8acc" />
<rect x="203.30" y="137.58" width="8.38" height="1.50" fill="#9685ca" />
<rect x="211.63" y="137.58" width="8.38" height="1.50" fill="#d2c6e4" />
<rect x="219.97" y="137.58" width="8.38" height="1.50" fill="#b3a3d7" />
<rect x="203.30" y="139.04" width="8.38" height="1.50" fill="#c1b4dd" />
<rect x="211.63" y="139.04" width="8.38" height="1.50" fill="#7766bc" />
<rect x="219.97" y="139.04" width="8.38" height="1.50" fill="#9d8dcd" />
<rect x="203.30" y="140.49" width="8.38" height="1.50" fill="#f5bbaa" />
<rect x="211.63" y="140.49" width="8.38" height="1.50" fill="#f5d5cd" />
<rect x="219.97" y="140.49" width="8.38" height="1.50" fill="#f6c2b2" />
<rect x="203.30" y="141.95" width="8.38" height="1.50" fill="#afa0d5" />
<rect x="211.63" y="141.95" width="8.38" height="1.50" fill="#cfc3e3" />
<rect x="219.97" y="141.95" width="8.38" height="1.50" fill="#b1a2d6" />
<rect x="203.30" y="143.40" width="8.38" height="1.50" fill="#dbd1e7" />
<rect x="211.63" y="143.40" width="8.38" height="1.50" fill="#f3e1e0" />
<rect x="219.97" y="143.40" width="8.38" height="1.50" fill="#f3e3e3" />
<rect x="203.30" y="144.85" width="8.38" height="1.50" fill="#6056b4" />
<rect x="211.63" y="144.85" width="8.38" height="1.50" fill="#c9bce0" />
<rect x="219.97" y="144.85" width="8.38" height="1.50" fill="#8978c4" />
<rect x="203.30" y="146.31" width="8.38" height="1.50" fill="#bbadda" />
<rect x="211.63" y="146.31" width="8.38" height="1.50" fill="#d1c5e4" />
<rect x="219.97" y="146.31" width="8.38" height="1.50" fill="#bcaedb" />
<rect x="203.30" y="147.76" width="8.38" height="1.50" fill="#7a6abd" />
<rect x="211.63" y="147.76" width="8.38" height="1.50" fill="#6f60b9" />
<rect x="219.97" y="147.76" width="8.38" height="1.50" fill="#504cae" />
<rect x="203.30" y="149.22" width="8.38" height="1.50" fill="#b1a2d6" />
<rect x="211.63" y="149.22" width="8.38" height="1.50" fill="#beb0db" />
<rect x="219.97" y="149.22" width="8.38" height="1.50" fill="#d3c7e4" />
<rect x="203.30" y="150.67" width="8.38" height="1.50" fill="#dcd2e8" />
<rect x="211.63" y="150.67" width="8.38" height="1.50" fill="#c5b8df" />
<rect x="219.97" y="150.67" width="8.38" height="1.50" fill="#ded4e8" />
<rect x="203.30" y="152.13" width="8.38" height="1.50" fill="#6257b4" />
<rect x="211.63" y="152.13" width="8.38" height="1.50" fill="#4b48ad" />
<rect x="219.97" y="152.13" width="8.38" height="1.50" fill="#7262ba" />
<rect x="203.30" y="153.58" width="8.38" height="1.50" fill="#dfd6e9" />
<rect x="211.63" y="153.58" width="8.38" height="1.50" fill="#eee7ee" />
<rect x="219.97" y="153.58" width="8.38" height="1.50" fill="#d9cee7" />
<rect x="203.30" y="155.04" width="8.38" height="1.50" fill="#cbbee1" />
<rect x="211.63" y="155.04" width="8.38" height="1.50" fill="#cabde1" />
<rect x="219.97" y="155.04" width="8.38" height="1.50" fill="#c6b8df" />
<rect x="203.30" y="156.49" width="8.38" height="1.50" fill="#c1b4dd" />
<rect x="211.63" y="156.49" width="8.38" height="1.50" fill="#a494d0" />
<rect x="219.97" y="156.49" width="8.38" height="1.50" fill="#b1a2d6" />
<rect x="203.30" y="157.95" width="8.38" height="1.50" fill="#e0d7e9" />
<rect x="211.63" y="157.95" width="8.38" height="1.50" fill="#7060b9" />
<rect x="219.97" y="157.95" width="8.38" height="1.50" fill="#7463bb" />
<rect x="203.30" y="159.40" width="8.38" height="1.50" fill="#ad9dd4" />
<rect x="211.63" y="159.40" width="8.38" height="1.50" fill="#a695d1" />
<rect x="219.97" y="159.40" width="8.38" height="1.50" fill="#8c7bc5" />
<rect x="203.30" y="160.85" width="8.38" height="1.50" fill="#a999d3" />
<rect x="211.63" y="160.85" width="8.38" height="1.50" fill="#ae9ed5" />
<rect x="219.97" y="160.85" width="8.38" height="1.50" fill="#b4a5d7" />
<rect x="203.30" y="162.31" width="8.38" height="1.50" fill="#ad9dd4" />
<rect x="211.63" y="162.31" width="8.38" height="1.50" fill="#8f7ec7" />
<rect x="219.97" y="162.31" width="8.38" height="1.50" fill="#eee8ef" />
<rect x="203.30" y="163.76" width="8.38" height="1.50" fill="#8b7bc5" />
<rect x="211.63" y="163.76" width="8.38" height="1.50" fill="#4645ab" />
<rect x="219.97" y="163.76" width="8.38" height="1.50" fill="#bfb1dc" />
<rect x="203.30" y="165.22" width="8.38" height="1.50" fill="#9e8ece" />
<rect x="211.63" y="165.22" width="8.38" height="1.50" fill="#ad9dd4" />
<rect x="219.97" y="165.22" width="8.38" height="1.50" fill="#b3a4d7" />
<rect x="203.30" y="166.67" width="8.38" height="1.50" fill="#9787ca" />
<rect x="211.63" y="166.67" width="8.38" height="1.50" fill="#b7a8d9" />
<rect x="219.97" y="166.67" width="8.38" height="1.50" fill="#b2a3d6" />
<rect x="203.30" y="168.13" width="8.38" height="1.50" fill="#6358b5" />
<rect x="211.63" y="168.13" width="8.38" height="1.50" fill="#9c8ccd" />
<rect x="219.97" y="168.13" width="8.38" height="1.50" fill="#cfc2e3" />
<rect x="203.30" y="169.58" width="8.38" height="1.50" fill="#d0c4e3" />
<rect x="211.63" y="169.58" width="8.38" height="1.50" fill="#ae9ed5" />
<rect x="219.97" y="169.58" width="8.38" height="1.50" fill="#b8aad9" />
<rect x="203.30" y="171.04" width="8.38" height="1.50" fill="#d9cfe7" />
<rect x="211.63" y="171.04" width="8.38" height="1.50" fill="#dbd1e7" />
<rect x="219.97" y="171.04" width="8.38" height="1.50" fill="#d3c8e5" />
<rect x="203.30" y="172.49" width="8.38" height="1.50" fill="#f6beae" />
<rect x="211.63" y="172.49" width="8.38" height="1.50" fill="#f6beae" />
<rect x="219.97" y="172.49" width="8.38" height="1.50" fill="#f5ab95" />
<rect x="203.30" y="173.95" width="8.38" height="1.50" fill="#f6beae" />
<rect x="211.63" y="173.95" width="8.38" height="1.50" fill="#f6beae" />
<rect x="219.97" y="173.95" width="8.38" height="1.50" fill="#f5ab95" />
<rect x="230.50" y="47.40" width="8.38" height="1.50" fill="#baacda" />
<rect x="238.83" y="47.40" width="8.38" height="1.50" fill="#cabde1" />
<rect x="247.17" y="47.40" width="8.38" height="1.50" fill="#b2a3d6" />
<rect x="230.50" y="48.85" width="8.38" height="1.50" fill="#d9cee7" />
<rect x="238.83" y="48.85" width="8.38" height="1.50" fill="#f5ae98" />
<rect x="247.17" y="48.85" width="8.38" height="1.50" fill="#f5d1c7" />
<rect x="230.50" y="50.31" width="8.38" height="1.50" fill="#f5a68e" />
<rect x="238.83" y="50.31" width="8.38" height="1.50" fill="#f5ac95" />
<rect x="247.17" y="50.31" width="8.38" height="1.50" fill="#f38e73" />
<rect x="230.50" y="51.76" width="8.38" height="1.50" fill="#f5b4a0" />
<rect x="238.83" y="51.76" width="8.38" height="1.50" fill="#f4987d" />
<rect x="247.17" y="51.76" width="8.38" height="1.50" fill="#ef6f58" />
<rect x="230.50" y="53.22" width="8.38" height="1.50" fill="#f3e1e0" />
<rect x="238.83" y="53.22" width="8.38" height="1.50" fill="#f5b19d" />
<rect x="247.17" y="53.22" width="8.38" height="1.50" fill="#e4dceb" />
<rect x="230.50" y="54.67" width="8.38" height="1.50" fill="#f5ad98" />
<rect x="238.83" y="54.67" width="8.38" height="1.50" fill="#f4a38a" />
<rect x="247.17" y="54.67" width="8.38" height="1.50" fill="#f5a78f" />
<rect x="230.50" y="56.13" width="8.38" height="1.50" fill="#c3b6de" />
<rect x="238.83" y="56.13" width="8.38" height="1.50" fill="#c9bce0" />
<rect x="247.17" y="56.13" width="8.38" height="1.50" fill="#b8aad9" />
<rect x="230.50" y="57.58" width="8.38" height="1.50" fill="#ece5ee" />
<rect x="238.83" y="57.58" width="8.38" height="1.50" fill="#f5b4a0" />
<rect x="247.17" y="57.58" width="8.38" height="1.50" fill="#f49e83" />
<rect x="230.50" y="59.04" width="8.38" height="1.50" fill="#f6c6b8" />
<rect x="238.83" y="59.04" width="8.38" height="1.50" fill="#f3dfdd" />
<rect x="247.17" y="59.04" width="8.38" height="1.50" fill="#f4dedb" />
<rect x="230.50" y="60.49" width="8.38" height="1.50" fill="#f6c9bc" />
<rect x="238.83" y="60.49" width="8.38" height="1.50" fill="#f6c2b2" />
<rect x="247.17" y="60.49" width="8.38" height="1.50" fill="#f4ddd9" />
<rect x="230.50" y="61.95" width="8.38" height="1.50" fill="#f5b09b" />
<rect x="238.83" y="61.95" width="8.38" height="1.50" fill="#f6c1b0" />
<rect x="247.17" y="61.95" width="8.38" height="1.50" fill="#f5b09b" />
<rect x="230.50" y="63.40" width="8.38" height="1.50" fill="#beb0dc" />
<rect x="238.83" y="63.40" width="8.38" height="1.50" fill="#9685ca" />
<rect x="247.17" y="63.40" width="8.38" height="1.50" fill="#9e8ece" />
<rect x="230.50" y="64.85" width="8.38" height="1.50" fill="#9e8ece" />
<rect x="238.83" y="64.85" width="8.38" height="1.50" fill="#8575c2" />
<rect x="247.17" y="64.85" width="8.38" height="1.50" fill="#6156b4" />
<rect x="230.50" y="66.31" width="8.38" height="1.50" fill="#d3c7e4" />
<rect x="238.83" y="66.31" width="8.38" height="1.50" fill="#e5ddeb" />
<rect x="247.17" y="66.31" width="8.38" height="1.50" fill="#a494d0" />
<rect x="230.50" y="67.76" width="8.38" height="1.50" fill="#d1c5e4" />
<rect x="238.83" y="67.76" width="8.38" height="1.50" fill="#8b7ac5" />
<rect x="247.17" y="67.76" width="8.38" height="1.50" fill="#ae9ed4" />
<rect x="230.50" y="69.22" width="8.38" height="1.50" fill="#c7badf" />
<rect x="238.83" y="69.22" width="8.38" height="1.50" fill="#b5a6d8" />
<rect x="247.17" y="69.22" width="8.38" height="1.50" fill="#c9bce0" />
<rect x="230.50" y="70.67" width="8.38" height="1.50" fill="#beb0db" />
<rect x="238.83" y="70.67" width="8.38" height="1.50" fill="#c5b8df" />
<rect x="247.17" y="70.67" width="8.38" height="1.50" fill="#cfc3e3" />
<rect x="230.50" y="72.13" width="8.38" height="1.50" fill="#c7b9df" />
<rect x="238.83" y="72.13" width="8.38" height="1.50" fill="#9888cb" />
<rect x="247.17" y="72.13" width="8.38" height="1.50" fill="#b7a8d9" />
<rect x="230.50" y="73.58" width="8.38" height="1.50" fill="#343aa5" />
<rect x="238.83" y="73.58" width="8.38" height="1.50" fill="#7261ba" />
<rect x="247.17" y="73.58" width="8.38" height="1.50" fill="#9383c9" />
<rect x="230.50" y="75.04" width="8.38" height="1.50" fill="#e4dbeb" />
<rect x="238.83" y="75.04" width="8.38" height="1.50" fill="#cfc3e3" />
<rect x="247.17" y="75.04" width="8.38" height="1.50" fill="#e8e0ec" />
<rect x="230.50" y="76.49" width="8.38" height="1.50" fill="#c7badf" />
<rect x="238.83" y="76.49" width="8.38" height="1.50" fill="#e8e0ec" />
<rect x="247.17" y="76.49" width="8.38" height="1.50" fill="#cbbfe1" />
<rect x="230.50" y="77.95" width="8.38" height="1.50" fill="#eae2ed" />
<rect x="238.83" y="77.95" width="8.38" height="1.50" fill="#f6bead" />
<rect x="247.17" y="77.95" width="8.38" height="1.50" fill="#f2ecf0" />
<rect x="230.50" y="79.40" width="8.38" height="1.50" fill="#ddd3e8" />
<rect x="238.83" y="79.40" width="8.38" height="1.50" fill="#f5a68f" />
<rect x="247.17" y="79.40" width="8.38" height="1.50" fill="#f6c7b8" />
<rect x="230.50" y="80.85" width="8.38" height="1.50" fill="#eee7ee" />
<rect x="238.83" y="80.85" width="8.38" height="1.50" fill="#c1b3dd" />
<rect x="247.17" y="80.85" width="8.38" height="1.50" fill="#bdafdb" />
<rect x="230.50" y="82.31" width="8.38" height="1.50" fill="#8575c2" />
<rect x="238.83" y="82.31" width="8.38" height="1.50" fill="#9e8dcd" />
<rect x="247.17" y="82.31" width="8.38" height="1.50" fill="#7867bc" />
<rect x="230.50" y="83.76" width="8.38" height="1.50" fill="#7b6abd" />
<rect x="238.83" y="83.76" width="8.38" height="1.50" fill="#ad9dd4" />
<rect x="247.17" y="83.76" width="8.38" height="1.50" fill="#a393d0" />
<rect x="230.50" y="85.22" width="8.38" height="1.50" fill="#5650b0" />
<rect x="238.83" y="85.22" width="8.38" height="1.50" fill="#9f8fce" />
<rect x="247.17" y="85.22" width="8.38" height="1.50" fill="#9f8ece" />
<rect x="230.50" y="86.67" width="8.38" height="1.50" fill="#ae9ed5" />
<rect x="238.83" y="86.67" width="8.38" height="1.50" fill="#ded5e9" />
<rect x="247.17" y="86.67" width="8.38" height="1.50" fill="#9887cb" />
<rect x="230.50" y="88.13" width="8.38" height="1.50" fill="#c6b9df" />
<rect x="238.83" y="88.13" width="8.38" height="1.50" fill="#a191cf" />
<rect x="247.17" y="88.13" width="8.38" height="1.50" fill="#e1d8ea" />
<rect x="230.50" y="89.58" width="8.38" height="1.50" fill="#5a52b2" />
<rect x="238.83" y="89.58" width="8.38" height="1.50" fill="#a191cf" />
<rect x="247.17" y="89.58" width="8.38" height="1.50" fill="#685bb6" />
<rect x="230.50" y="91.04" width="8.38" height="1.50" fill="#d3c7e4" />
<rect x="238.83" y="91.04" width="8.38" height="1.50" fill="#d0c3e3" />
<rect x="247.17" y="91.04" width="8.38" height="1.50" fill="#dcd1e8" />
<rect x="230.50" y="92.49" width="8.38" height="1.50" fill="#7564bb" />
<rect x="238.83" y="92.49" width="8.38" height="1.50" fill="#bdafdb" />
<rect x="247.17" y="92.49" width="8.38" height="1.50" fill="#6e5fb8" />
<rect x="230.50" y="93.95" width="8.38" height="1.50" fill="#dcd2e8" />
<rect x="238.83" y="93.95" width="8.38" height="1.50" fill="#d4c9e5" />
<rect x="247.17" y="93.95" width="8.38" height="1.50" fill="#d8cde6" />
<rect x="230.50" y="95.40" width="8.38" height="1.50" fill="#ae9fd5" />
<rect x="238.83" y="95.40" width="8.38" height="1.50" fill="#b0a0d5" />
<rect x="247.17" y="95.40" width="8.38" height="1.50" fill="#cdc1e2" />
<rect x="230.50" y="96.85" width="8.38" height="1.50" fill="#bbadda" />
<rect x="238.83" y="96.85" width="8.38" height="1.50" fill="#c4b6de" />
<rect x="247.17" y="96.85" width="8.38" height="1.50" fill="#b0a1d6" />
<rect x="230.50" y="98.31" width="8.38" height="1.50" fill="#dcd2e8" />
<rect x="238.83" y="98.31" width="8.38" height="1.50" fill="#d7cce6" />
<rect x="247.17" y="98.31" width="8.38" height="1.50" fill="#f2eaed" />
<rect x="230.50" y="99.76" width="8.38" height="1.50" fill="#f2eaec" />
<rect x="238.83" y="99.76" width="8.38" height="1.50" fill="#b6a7d8" />
<rect x="247.17" y="99.76" width="8.38" height="1.50" fill="#bfb1dc" />
<rect x="230.50" y="101.22" width="8.38" height="1.50" fill="#8f7ec7" />
<rect x="238.83" y="101.22" width="8.38" height="1.50" fill="#c0b2dc" />
<rect x="247.17" y="101.22" width="8.38" height="1.50" fill="#e1d7e9" />
<rect x="230.50" y="102.67" width="8.38" height="1.50" fill="#7564bb" />
<rect x="238.83" y="102.67" width="8.38" height="1.50" fill="#7262ba" />
<rect x="247.17" y="102.67" width="8.38" height="1.50" fill="#ab9bd3" />
<rect x="230.50" y="104.13" width="8.38" height="1.50" fill="#ae9ed5" />
<rect x="238.83" y="104.13" width="8.38" height="1.50" fill="#7d6cbf" />
<rect x="247.17" y="104.13" width="8.38" height="1.50" fill="#b3a3d7" />
<rect x="230.50" y="105.58" width="8.38" height="1.50" fill="#f5d2c9" />
<rect x="238.83" y="105.58" width="8.38" height="1.50" fill="#f5cfc4" />
<rect x="247.17" y="105.58" width="8.38" height="1.50" fill="#efe9ef" />
<rect x="230.50" y="107.04" width="8.38" height="1.50" fill="#e1d8ea" />
<rect x="238.83" y="107.04" width="8.38" height="1.50" fill="#f5d0c6" />
<rect x="247.17" y="107.04" width="8.38" height="1.50" fill="#f4d7d0" />
<rect x="230.50" y="108.49" width="8.38" height="1.50" fill="#dfd6e9" />
<rect x="238.83" y="108.49" width="8.38" height="1.50" fill="#eee7ee" />
<rect x="247.17" y="108.49" width="8.38" height="1.50" fill="#ece4ee" />
<rect x="230.50" y="109.95" width="8.38" height="1.50" fill="#dacfe7" />
<rect x="238.83" y="109.95" width="8.38" height="1.50" fill="#dcd2e8" />
<rect x="247.17" y="109.95" width="8.38" height="1.50" fill="#dcd1e8" />
<rect x="230.50" y="111.40" width="8.38" height="1.50" fill="#8d7dc6" />
<rect x="238.83" y="111.40" width="8.38" height="1.50" fill="#cdc1e2" />
<rect x="247.17" y="111.40" width="8.38" height="1.50" fill="#a898d2" />
<rect x="230.50" y="112.85" width="8.38" height="1.50" fill="#d8cde6" />
<rect x="238.83" y="112.85" width="8.38" height="1.50" fill="#e3daea" />
<rect x="247.17" y="112.85" width="8.38" height="1.50" fill="#c2b4dd" />
<rect x="230.50" y="114.31" width="8.38" height="1.50" fill="#b7a8d8" />
<rect x="238.83" y="114.31" width="8.38" height="1.50" fill="#b0a1d6" />
<rect x="247.17" y="114.31" width="8.38" height="1.50" fill="#beb0db" />
<rect x="230.50" y="115.76" width="8.38" height="1.50" fill="#7d6cbe" />
<rect x="238.83" y="115.76" width="8.38" height="1.50" fill="#bfb1dc" />
<rect x="247.17" y="115.76" width="8.38" height="1.50" fill="#7867bc" />
<rect x="230.50" y="117.22" width="8.38" height="1.50" fill="#8c7bc5" />
<rect x="238.83" y="117.22" width="8.38" height="1.50" fill="#dcd1e8" />
<rect x="247.17" y="117.22" width="8.38" height="1.50" fill="#c7badf" />
<rect x="230.50" y="118.67" width="8.38" height="1.50" fill="#bdafdb" />
<rect x="238.83" y="118.67" width="8.38" height="1.50" fill="#9f8fce" />
<rect x="247.17" y="118.67" width="8.38" height="1.50" fill="#b5a6d8" />
<rect x="230.50" y="120.13" width="8.38" height="1.50" fill="#bcaedb" />
<rect x="238.83" y="120.13" width="8.38" height="1.50" fill="#d8cde6" />
<rect x="247.17" y="120.13" width="8.38" height="1.50" fill="#a292cf" />
<rect x="230.50" y="121.58" width="8.38" height="1.50" fill="#beb0dc" />
<rect x="238.83" y="121.58" width="8.38" height="1.50" fill="#b1a2d6" />
<rect x="247.17" y="121.58" width="8.38" height="1.50" fill="#bdafdb" />
<rect x="230.50" y="123.04" width="8.38" height="1.50" fill="#5952b1" />
<rect x="238.83" y="123.04" width="8.38" height="1.50" fill="#7665bc" />
<rect x="247.17" y="123.04" width="8.38" height="1.50" fill="#ab9bd3" />
<rect x="230.50" y="124.49" width="8.38" height="1.50" fill="#ad9dd4" />
<rect x="238.83" y="124.49" width="8.38" height="1.50" fill="#dbd1e7" />
<rect x="247.17" y="124.49" width="8.38" height="1.50" fill="#8978c4" />
<rect x="230.50" y="125.95" width="8.38" height="1.50" fill="#f6c4b5" />
<rect x="238.83" y="125.95" width="8.38" height="1.50" fill="#f4dcd7" />
<rect x="247.17" y="125.95" width="8.38" height="1.50" fill="#dcd1e8" />
<rect x="230.50" y="127.40" width="8.38" height="1.50" fill="#d3c7e4" />
<rect x="238.83" y="127.40" width="8.38" height="1.50" fill="#9b8bcc" />
<rect x="247.17" y="127.40" width="8.38" height="1.50" fill="#a494d0" />
<rect x="230.50" y="128.85" width="8.38" height="1.50" fill="#bcaedb" />
<rect x="238.83" y="128.85" width="8.38" height="1.50" fill="#b4a5d7" />
<rect x="247.17" y="128.85" width="8.38" height="1.50" fill="#7766bc" />
<rect x="230.50" y="130.31" width="8.38" height="1.50" fill="#beb0dc" />
<rect x="238.83" y="130.31" width="8.38" height="1.50" fill="#ebe4ed" />
<rect x="247.17" y="130.31" width="8.38" height="1.50" fill="#bcaedb" />
<rect x="230.50" y="131.76" width="8.38" height="1.50" fill="#e9e1ed" />
<rect x="238.83" y="131.76" width="8.38" height="1.50" fill="#f2e8eb" />
<rect x="247.17" y="131.76" width="8.38" height="1.50" fill="#f4dedb" />
<rect x="230.50" y="133.22" width="8.38" height="1.50" fill="#8979c4" />
<rect x="238.83" y="133.22" width="8.38" height="1.50" fill="#8f7fc7" />
<rect x="247.17" y="133.22" width="8.38" height="1.50" fill="#7766bc" />
<rect x="230.50" y="134.67" width="8.38" height="1.50" fill="#9a8acc" />
<rect x="238.83" y="134.67" width="8.38" height="1.50" fill="#cbbee1" />
<rect x="247.17" y="134.67" width="8.38" height="1.50" fill="#d2c6e4" />
<rect x="230.50" y="136.13" width="8.38" height="1.50" fill="#cdc0e2" />
<rect x="238.83" y="136.13" width="8.38" height="1.50" fill="#f0eaef" />
<rect x="247.17" y="136.13" width="8.38" height="1.50" fill="#bdafdb" />
<rect x="230.50" y="137.58" width="8.38" height="1.50" fill="#f0e9ef" />
<rect x="238.83" y="137.58" width="8.38" height="1.50" fill="#bdaedb" />
<rect x="247.17" y="137.58" width="8.38" height="1.50" fill="#d6cbe6" />
<rect x="230.50" y="139.04" width="8.38" height="1.50" fill="#d0c4e3" />
<rect x="238.83" y="139.04" width="8.38" height="1.50" fill="#d3c8e5" />
<rect x="247.17" y="139.04" width="8.38" height="1.50" fill="#c1b3dd" />
<rect x="230.50" y="140.49" width="8.38" height="1.50" fill="#f5d1c7" />
<rect x="238.83" y="140.49" width="8.38" height="1.50" fill="#efe9ef" />
<rect x="247.17" y="140.49" width="8.38" height="1.50" fill="#efe8ef" />
<rect x="230.50" y="141.95" width="8.38" height="1.50" fill="#a090cf" />
<rect x="238.83" y="141.95" width="8.38" height="1.50" fill="#9e8ece" />
<rect x="247.17" y="141.95" width="8.38" height="1.50" fill="#c0b2dc" />
<rect x="230.50" y="143.40" width="8.38" height="1.50" fill="#e0d6e9" />
<rect x="238.83" y="143.40" width="8.38" height="1.50" fill="#bbadda" />
<rect x="247.17" y="143.40" width="8.38" height="1.50" fill="#f2ecf0" />
<rect x="230.50" y="144.85" width="8.38" height="1.50" fill="#a292d0" />
<rect x="238.83" y="144.85" width="8.38" height="1.50" fill="#b7a9d9" />
<rect x="247.17" y="144.85" width="8.38" height="1.50" fill="#bbacda" />
<rect x="230.50" y="146.31" width="8.38" height="1.50" fill="#ebe4ed" />
<rect x="238.83" y="146.31" width="8.38" height="1.50" fill="#efe9ef" />
<rect x="247.17" y="146.31" width="8.38" height="1.50" fill="#f1ebf0" />
<rect x="230.50" y="147.76" width="8.38" height="1.50" fill="#cdc1e2" />
<rect x="238.83" y="147.76" width="8.38" height="1.50" fill="#6358b5" />
<rect x="247.17" y="147.76" width="8.38" height="1.50" fill="#514caf" />
<rect x="230.50" y="149.22" width="8.38" height="1.50" fill="#c6b9df" />
<rect x="238.83" y="149.22" width="8.38" height="1.50" fill="#a392d0" />
<rect x="247.17" y="149.22" width="8.38" height="1.50" fill="#c1b3dd" />
<rect x="230.50" y="150.67" width="8.38" height="1.50" fill="#a696d1" />
<rect x="238.83" y="150.67" width="8.38" height="1.50" fill="#d4c8e5" />
<rect x="247.17" y="150.67" width="8.38" height="1.50" fill="#ae9fd5" />
<rect x="230.50" y="152.13" width="8.38" height="1.50" fill="#d7cde6" />
<rect x="238.83" y="152.13" width="8.38" height="1.50" fill="#ded4e9" />
<rect x="247.17" y="152.13" width="8.38" height="1.50" fill="#ece5ee" />
<rect x="230.50" y="153.58" width="8.38" height="1.50" fill="#dfd6e9" />
<rect x="238.83" y="153.58" width="8.38" height="1.50" fill="#ece5ee" />
<rect x="247.17" y="153.58" width="8.38" height="1.50" fill="#d7cce6" />
<rect x="230.50" y="155.04" width="8.38" height="1.50" fill="#f5d4cc" />
<rect x="238.83" y="155.04" width="8.38" height="1.50" fill="#f5d4cc" />
<rect x="247.17" y="155.04" width="8.38" height="1.50" fill="#f6c6b8" />
<rect x="230.50" y="156.49" width="8.38" height="1.50" fill="#7868bc" />
<rect x="238.83" y="156.49" width="8.38" height="1.50" fill="#a292cf" />
<rect x="247.17" y="156.49" width="8.38" height="1.50" fill="#373ca6" />
<rect x="230.50" y="157.95" width="8.38" height="1.50" fill="#ad9ed4" />
<rect x="238.83" y="157.95" width="8.38" height="1.50" fill="#f6ccc0" />
<rect x="247.17" y="157.95" width="8.38" height="1.50" fill="#d5cae5" />
<rect x="230.50" y="159.40" width="8.38" height="1.50" fill="#b5a6d8" />
<rect x="238.83" y="159.40" width="8.38" height="1.50" fill="#a494d0" />
<rect x="247.17" y="159.40" width="8.38" height="1.50" fill="#d5c9e5" />
<rect x="230.50" y="160.85" width="8.38" height="1.50" fill="#b1a2d6" />
<rect x="238.83" y="160.85" width="8.38" height="1.50" fill="#c7badf" />
<rect x="247.17" y="160.85" width="8.38" height="1.50" fill="#a696d1" />
<rect x="230.50" y="162.31" width="8.38" height="1.50" fill="#d9cee6" />
<rect x="238.83" y="162.31" width="8.38" height="1.50" fill="#cec2e2" />
<rect x="247.17" y="162.31" width="8.38" height="1.50" fill="#c1b3dd" />
<rect x="230.50" y="163.76" width="8.38" height="1.50" fill="#cdc1e2" />
<rect x="238.83" y="163.76" width="8.38" height="1.50" fill="#dad0e7" />
<rect x="247.17" y="163.76" width="8.38" height="1.50" fill="#9e8ecd" />
<rect x="230.50" y="165.22" width="8.38" height="1.50" fill="#8171c1" />
<rect x="238.83" y="165.22" width="8.38" height="1.50" fill="#b3a4d7" />
<rect x="247.17" y="165.22" width="8.38" height="1.50" fill="#393da7" />
<rect x="230.50" y="166.67" width="8.38" height="1.50" fill="#d1c5e4" />
<rect x="238.83" y="166.67" width="8.38" height="1.50" fill="#7564bb" />
<rect x="247.17" y="166.67" width="8.38" height="1.50" fill="#bdafdb" />
<rect x="230.50" y="168.13" width="8.38" height="1.50" fill="#6257b4" />
<rect x="238.83" y="168.13" width="8.38" height="1.50" fill="#685bb6" />
<rect x="247.17" y="168.13" width="8.38" height="1.50" fill="#d9cee7" />
<rect x="230.50" y="169.58" width="8.38" height="1.50" fill="#cabde0" />
<rect x="238.83" y="169.58" width="8.38" height="1.50" fill="#c4b6de" />
<rect x="247.17" y="169.58" width="8.38" height="1.50" fill="#d1c5e4" />
<rect x="230.50" y="171.04" width="8.38" height="1.50" fill="#f4dbd7" />
<rect x="238.83" y="171.04" width="8.38" height="1.50" fill="#e4dbeb" />
<rect x="247.17" y="171.04" width="8.38" height="1.50" fill="#b3a4d7" />
<rect x="230.50" y="172.49" width="8.38" height="1.50" fill="#e2d9ea" />
<rect x="238.83" y="172.49" width="8.38" height="1.50" fill="#e1d8ea" />
<rect x="247.17" y="172.49" width="8.38" height="1.50" fill="#b8a9d9" />
<rect x="230.50" y="173.95" width="8.38" height="1.50" fill="#f3e7e8" />
<rect x="238.83" y="173.95" width="8.38" height="1.50" fill="#efe9ef" />
<rect x="247.17" y="173.95" width="8.38" height="1.50" fill="#e8e0ec" />
<rect x="257.80" y="47.40" width="8.38" height="1.50" fill="#7e6dbf" />
<rect x="266.13" y="47.40" width="8.38" height="1.50" fill="#dfd5e9" />
<rect x="274.47" y="47.40" width="8.38" height="1.50" fill="#f4deda" />
<rect x="257.80" y="48.85" width="8.38" height="1.50" fill="#f38e73" />
<rect x="266.13" y="48.85" width="8.38" height="1.50" fill="#f5b39f" />
<rect x="274.47" y="48.85" width="8.38" height="1.50" fill="#f6ccc0" />
<rect x="257.80" y="50.31" width="8.38" height="1.50" fill="#f5ab95" />
<rect x="266.13" y="50.31" width="8.38" height="1.50" fill="#f5aa93" />
<rect x="274.47" y="50.31" width="8.38" height="1.50" fill="#f6c9bc" />
<rect x="257.80" y="51.76" width="8.38" height="1.50" fill="#f4987c" />
<rect x="266.13" y="51.76" width="8.38" height="1.50" fill="#f2886d" />
<rect x="274.47" y="51.76" width="8.38" height="1.50" fill="#f6c5b6" />
<rect x="257.80" y="53.22" width="8.38" height="1.50" fill="#f39277" />
<rect x="266.13" y="53.22" width="8.38" height="1.50" fill="#f6c8bb" />
<rect x="274.47" y="53.22" width="8.38" height="1.50" fill="#ef7059" />
<rect x="257.80" y="54.67" width="8.38" height="1.50" fill="#f5b4a1" />
<rect x="266.13" y="54.67" width="8.38" height="1.50" fill="#f6c9bc" />
<rect x="274.47" y="54.67" width="8.38" height="1.50" fill="#f39276" />
<rect x="257.80" y="56.13" width="8.38" height="1.50" fill="#f3e7e8" />
<rect x="266.13" y="56.13" width="8.38" height="1.50" fill="#f5d3ca" />
<rect x="274.47" y="56.13" width="8.38" height="1.50" fill="#f4d9d3" />
<rect x="257.80" y="57.58" width="8.38" height="1.50" fill="#e5dceb" />
<rect x="266.13" y="57.58" width="8.38" height="1.50" fill="#f2ebf0" />
<rect x="274.47" y="57.58" width="8.38" height="1.50" fill="#f2e9ec" />
<rect x="257.80" y="59.04" width="8.38" height="1.50" fill="#f5cec3" />
<rect x="266.13" y="59.04" width="8.38" height="1.50" fill="#f5b7a4" />
<rect x="274.47" y="59.04" width="8.38" height="1.50" fill="#ede6ee" />
<rect x="257.80" y="60.49" width="8.38" height="1.50" fill="#d7cce6" />
<rect x="266.13" y="60.49" width="8.38" height="1.50" fill="#e3daea" />
<rect x="274.47" y="60.49" width="8.38" height="1.50" fill="#f3e2e1" />
<rect x="257.80" y="61.95" width="8.38" height="1.50" fill="#f4a289" />
<rect x="266.13" y="61.95" width="8.38" height="1.50" fill="#f5bba9" />
<rect x="274.47" y="61.95" width="8.38" height="1.50" fill="#ea4a39" />
<rect x="257.80" y="63.40" width="8.38" height="1.50" fill="#f6cbbf" />
<rect x="266.13" y="63.40" width="8.38" height="1.50" fill="#f5a58d" />
<rect x="274.47" y="63.40" width="8.38" height="1.50" fill="#f5baa8" />
<rect x="257.80" y="64.85" width="8.38" height="1.50" fill="#ee624c" />
<rect x="266.13" y="64.85" width="8.38" height="1.50" fill="#f4967a" />
<rect x="274.47" y="64.85" width="8.38" height="1.50" fill="#f2836a" />
<rect x="257.80" y="66.31" width="8.38" height="1.50" fill="#f39378" />
<rect x="266.13" y="66.31" width="8.38" height="1.50" fill="#f0725a" />
<rect x="274.47" y="66.31" width="8.38" height="1.50" fill="#ee6751" />
<rect x="257.80" y="67.76" width="8.38" height="1.50" fill="#f4967a" />
<rect x="266.13" y="67.76" width="8.38" height="1.50" fill="#f0755d" />
<rect x="274.47" y="67.76" width="8.38" height="1.50" fill="#f5af99" />
<rect x="257.80" y="69.22" width="8.38" height="1.50" fill="#f4dedb" />
<rect x="266.13" y="69.22" width="8.38" height="1.50" fill="#f6c2b2" />
<rect x="274.47" y="69.22" width="8.38" height="1.50" fill="#f5baa8" />
<rect x="257.80" y="70.67" width="8.38" height="1.50" fill="#f38f74" />
<rect x="266.13" y="70.67" width="8.38" height="1.50" fill="#f39277" />
<rect x="274.47" y="70.67" width="8.38" height="1.50" fill="#f6c0b0" />
<rect x="257.80" y="72.13" width="8.38" height="1.50" fill="#f0725a" />
<rect x="266.13" y="72.13" width="8.38" height="1.50" fill="#f5d5ce" />
<rect x="274.47" y="72.13" width="8.38" height="1.50" fill="#f4997d" />
<rect x="257.80" y="73.58" width="8.38" height="1.50" fill="#f4dbd6" />
<rect x="266.13" y="73.58" width="8.38" height="1.50" fill="#f3dfdc" />
<rect x="274.47" y="73.58" width="8.38" height="1.50" fill="#f6cabd" />
<rect x="257.80" y="75.04" width="8.38" height="1.50" fill="#f3e7e8" />
<rect x="266.13" y="75.04" width="8.38" height="1.50" fill="#f3dfdd" />
<rect x="274.47" y="75.04" width="8.38" height="1.50" fill="#f6c0b0" />
<rect x="257.80" y="76.49" width="8.38" height="1.50" fill="#f3e3e3" />
<rect x="266.13" y="76.49" width="8.38" height="1.50" fill="#f5d5ce" />
<rect x="274.47" y="76.49" width="8.38" height="1.50" fill="#f5b19d" />
<rect x="257.80" y="77.95" width="8.38" height="1.50" fill="#e6deeb" />
<rect x="266.13" y="77.95" width="8.38" height="1.50" fill="#f3e1e0" />
<rect x="274.47" y="77.95" width="8.38" height="1.50" fill="#f4ddda" />
<rect x="257.80" y="79.40" width="8.38" height="1.50" fill="#f0765e" />
<rect x="266.13" y="79.40" width="8.38" height="1.50" fill="#ee614c" />
<rect x="274.47" y="79.40" width="8.38" height="1.50" fill="#f49e84" />
<rect x="257.80" y="80.85" width="8.38" height="1.50" fill="#e7deec" />
<rect x="266.13" y="80.85" width="8.38" height="1.50" fill="#dcd2e8" />
<rect x="274.47" y="80.85" width="8.38" height="1.50" fill="#ccbfe1" />
<rect x="257.80" y="82.31" width="8.38" height="1.50" fill="#efe9ef" />
<rect x="266.13" y="82.31" width="8.38" height="1.50" fill="#ede6ee" />
<rect x="274.47" y="82.31" width="8.38" height="1.50" fill="#f4d8d2" />
<rect x="257.80" y="83.76" width="8.38" height="1.50" fill="#f6ccc0" />
<rect x="266.13" y="83.76" width="8.38" height="1.50" fill="#f2876d" />
<rect x="274.47" y="83.76" width="8.38" height="1.50" fill="#f5d3cb" />
<rect x="257.80" y="85.22" width="8.38" height="1.50" fill="#f6c0b0" />
<rect x="266.13" y="85.22" width="8.38" height="1.50" fill="#f5cdc1" />
<rect x="274.47" y="85.22" width="8.38" height="1.50" fill="#f3dfdd" />
<rect x="257.80" y="86.67" width="8.38" height="1.50" fill="#f5a68d" />
<rect x="266.13" y="86.67" width="8.38" height="1.50" fill="#f5d4cb" />
<rect x="274.47" y="86.67" width="8.38" height="1.50" fill="#f5d4cd" />
<rect x="257.80" y="88.13" width="8.38" height="1.50" fill="#f6c2b2" />
<rect x="266.13" y="88.13" width="8.38" height="1.50" fill="#f5aa93" />
<rect x="274.47" y="88.13" width="8.38" height="1.50" fill="#f6bfae" />
<rect x="257.80" y="89.58" width="8.38" height="1.50" fill="#f6c8ba" />
<rect x="266.13" y="89.58" width="8.38" height="1.50" fill="#f5b5a1" />
<rect x="274.47" y="89.58" width="8.38" height="1.50" fill="#f2ebee" />
<rect x="257.80" y="91.04" width="8.38" height="1.50" fill="#f6c8ba" />
<rect x="266.13" y="91.04" width="8.38" height="1.50" fill="#f5a890" />
<rect x="274.47" y="91.04" width="8.38" height="1.50" fill="#f5baa8" />
<rect x="257.80" y="92.49" width="8.38" height="1.50" fill="#d6cae5" />
<rect x="266.13" y="92.49" width="8.38" height="1.50" fill="#f3e2e1" />
<rect x="274.47" y="92.49" width="8.38" height="1.50" fill="#cbbee1" />
<rect x="257.80" y="93.95" width="8.38" height="1.50" fill="#f28a70" />
<rect x="266.13" y="93.95" width="8.38" height="1.50" fill="#f6c8ba" />
<rect x="274.47" y="93.95" width="8.38" height="1.50" fill="#f5b4a1" />
<rect x="257.80" y="95.40" width="8.38" height="1.50" fill="#e2d9ea" />
<rect x="266.13" y="95.40" width="8.38" height="1.50" fill="#f3e3e3" />
<rect x="274.47" y="95.40" width="8.38" height="1.50" fill="#f6c6b7" />
<rect x="257.80" y="96.85" width="8.38" height="1.50" fill="#f6bfae" />
<rect x="266.13" y="96.85" width="8.38" height="1.50" fill="#f5b09b" />
<rect x="274.47" y="96.85" width="8.38" height="1.50" fill="#f07961" />
<rect x="257.80" y="98.31" width="8.38" height="1.50" fill="#f5ac96" />
<rect x="266.13" y="98.31" width="8.38" height="1.50" fill="#f49c81" />
<rect x="274.47" y="98.31" width="8.38" height="1.50" fill="#f4d8d2" />
<rect x="257.80" y="99.76" width="8.38" height="1.50" fill="#f4dcd8" />
<rect x="266.13" y="99.76" width="8.38" height="1.50" fill="#f3e2e1" />
<rect x="274.47" y="99.76" width="8.38" height="1.50" fill="#f3e3e2" />
<rect x="257.80" y="101.22" width="8.38" height="1.50" fill="#f3dfdc" />
<rect x="266.13" y="101.22" width="8.38" height="1.50" fill="#f6c6b7" />
<rect x="274.47" y="101.22" width="8.38" height="1.50" fill="#f5b5a1" />
<rect x="257.80" y="102.67" width="8.38" height="1.50" fill="#f4a187" />
<rect x="266.13" y="102.67" width="8.38" height="1.50" fill="#f4a288" />
<rect x="274.47" y="102.67" width="8.38" height="1.50" fill="#f5a58d" />
<rect x="257.80" y="104.13" width="8.38" height="1.50" fill="#f5ae98" />
<rect x="266.13" y="104.13" width="8.38" height="1.50" fill="#ec5643" />
<rect x="274.47" y="104.13" width="8.38" height="1.50" fill="#f5b7a4" />
<rect x="257.80" y="105.58" width="8.38" height="1.50" fill="#f5d0c6" />
<rect x="266.13" y="105.58" width="8.38" height="1.50" fill="#f4deda" />
<rect x="274.47" y="105.58" width="8.38" height="1.50" fill="#f49f85" />
<rect x="257.80" y="107.04" width="8.38" height="1.50" fill="#f5ab95" />
<rect x="266.13" y="107.04" width="8.38" height="1.50" fill="#e84434" />
<rect x="274.47" y="107.04" width="8.38" height="1.50" fill="#f17d64" />
<rect x="257.80" y="108.49" width="8.38" height="1.50" fill="#ef6d56" />
<rect x="266.13" y="108.49" width="8.38" height="1.50" fill="#ef6a53" />
<rect x="274.47" y="108.49" width="8.38" height="1.50" fill="#f38c72" />
<rect x="257.80" y="109.95" width="8.38" height="1.50" fill="#eae3ed" />
<rect x="266.13" y="109.95" width="8.38" height="1.50" fill="#f3e5e5" />
<rect x="274.47" y="109.95" width="8.38" height="1.50" fill="#e2d8ea" />
<rect x="257.80" y="111.40" width="8.38" height="1.50" fill="#f6bfaf" />
<rect x="266.13" y="111.40" width="8.38" height="1.50" fill="#f49b7f" />
<rect x="274.47" y="111.40" width="8.38" height="1.50" fill="#f5a68e" />
<rect x="257.80" y="112.85" width="8.38" height="1.50" fill="#ec5945" />
<rect x="266.13" y="112.85" width="8.38" height="1.50" fill="#e84233" />
<rect x="274.47" y="112.85" width="8.38" height="1.50" fill="#ec5643" />
<rect x="257.80" y="114.31" width="8.38" height="1.50" fill="#f38c71" />
<rect x="266.13" y="114.31" width="8.38" height="1.50" fill="#f07860" />
<rect x="274.47" y="114.31" width="8.38" height="1.50" fill="#f6c7b8" />
<rect x="257.80" y="115.76" width="8.38" height="1.50" fill="#f4987c" />
<rect x="266.13" y="115.76" width="8.38" height="1.50" fill="#f5a992" />
<rect x="274.47" y="115.76" width="8.38" height="1.50" fill="#f5cdc1" />
<rect x="257.80" y="117.22" width="8.38" height="1.50" fill="#f5cdc2" />
<rect x="266.13" y="117.22" width="8.38" height="1.50" fill="#f5cfc5" />
<rect x="274.47" y="117.22" width="8.38" height="1.50" fill="#f5b19d" />
<rect x="257.80" y="118.67" width="8.38" height="1.50" fill="#f5b19d" />
<rect x="266.13" y="118.67" width="8.38" height="1.50" fill="#f4d6d0" />
<rect x="274.47" y="118.67" width="8.38" height="1.50" fill="#f5bba9" />
<rect x="257.80" y="120.13" width="8.38" height="1.50" fill="#f49f85" />
<rect x="266.13" y="120.13" width="8.38" height="1.50" fill="#f5b29e" />
<rect x="274.47" y="120.13" width="8.38" height="1.50" fill="#f5d0c7" />
<rect x="257.80" y="121.58" width="8.38" height="1.50" fill="#f5ab95" />
<rect x="266.13" y="121.58" width="8.38" height="1.50" fill="#f5bbaa" />
<rect x="274.47" y="121.58" width="8.38" height="1.50" fill="#f5baa8" />
<rect x="257.80" y="123.04" width="8.38" height="1.50" fill="#f0765e" />
<rect x="266.13" y="123.04" width="8.38" height="1.50" fill="#f0765e" />
<rect x="274.47" y="123.04" width="8.38" height="1.50" fill="#f38f74" />
<rect x="257.80" y="124.49" width="8.38" height="1.50" fill="#f6cabe" />
<rect x="266.13" y="124.49" width="8.38" height="1.50" fill="#f5bba9" />
<rect x="274.47" y="124.49" width="8.38" height="1.50" fill="#f0eaef" />
<rect x="257.80" y="125.95" width="8.38" height="1.50" fill="#f6ccc0" />
<rect x="266.13" y="125.95" width="8.38" height="1.50" fill="#f5aa93" />
<rect x="274.47" y="125.95" width="8.38" height="1.50" fill="#f5cfc5" />
<rect x="257.80" y="127.40" width="8.38" height="1.50" fill="#f6cabd" />
<rect x="266.13" y="127.40" width="8.38" height="1.50" fill="#f5b6a3" />
<rect x="274.47" y="127.40" width="8.38" height="1.50" fill="#f5d3ca" />
<rect x="257.80" y="128.85" width="8.38" height="1.50" fill="#f4dcd8" />
<rect x="266.13" y="128.85" width="8.38" height="1.50" fill="#f5b7a3" />
<rect x="274.47" y="128.85" width="8.38" height="1.50" fill="#f6cbbe" />
<rect x="257.80" y="130.31" width="8.38" height="1.50" fill="#f5cfc5" />
<rect x="266.13" y="130.31" width="8.38" height="1.50" fill="#ebe4ed" />
<rect x="274.47" y="130.31" width="8.38" height="1.50" fill="#dfd5e9" />
<rect x="257.80" y="131.76" width="8.38" height="1.50" fill="#f5cdc2" />
<rect x="266.13" y="131.76" width="8.38" height="1.50" fill="#f4dbd7" />
<rect x="274.47" y="131.76" width="8.38" height="1.50" fill="#f6c8ba" />
<rect x="257.80" y="133.22" width="8.38" height="1.50" fill="#f4a188" />
<rect x="266.13" y="133.22" width="8.38" height="1.50" fill="#f6c0b0" />
<rect x="274.47" y="133.22" width="8.38" height="1.50" fill="#f17f66" />
<rect x="257.80" y="134.67" width="8.38" height="1.50" fill="#f4dad4" />
<rect x="266.13" y="134.67" width="8.38" height="1.50" fill="#f17d64" />
<rect x="274.47" y="134.67" width="8.38" height="1.50" fill="#f17e65" />
<rect x="257.80" y="136.13" width="8.38" height="1.50" fill="#f6c2b3" />
<rect x="266.13" y="136.13" width="8.38" height="1.50" fill="#f6c1b1" />
<rect x="274.47" y="136.13" width="8.38" height="1.50" fill="#f3e0de" />
<rect x="257.80" y="137.58" width="8.38" height="1.50" fill="#f5ae99" />
<rect x="266.13" y="137.58" width="8.38" height="1.50" fill="#f2896f" />
<rect x="274.47" y="137.58" width="8.38" height="1.50" fill="#ed5d49" />
<rect x="257.80" y="139.04" width="8.38" height="1.50" fill="#f49e84" />
<rect x="266.13" y="139.04" width="8.38" height="1.50" fill="#f5a78f" />
<rect x="274.47" y="139.04" width="8.38" height="1.50" fill="#f5d4cc" />
<rect x="257.80" y="140.49" width="8.38" height="1.50" fill="#f4a188" />
<rect x="266.13" y="140.49" width="8.38" height="1.50" fill="#f38c71" />
<rect x="274.47" y="140.49" width="8.38" height="1.50" fill="#f4a289" />
<rect x="257.80" y="141.95" width="8.38" height="1.50" fill="#f6c6b8" />
<rect x="266.13" y="141.95" width="8.38" height="1.50" fill="#f5a78f" />
<rect x="274.47" y="141.95" width="8.38" height="1.50" fill="#f4a087" />
<rect x="257.80" y="143.40" width="8.38" height="1.50" fill="#f5a68d" />
<rect x="266.13" y="143.40" width="8.38" height="1.50" fill="#f4a38a" />
<rect x="274.47" y="143.40" width="8.38" height="1.50" fill="#f18269" />
<rect x="257.80" y="144.85" width="8.38" height="1.50" fill="#f2eaee" />
<rect x="266.13" y="144.85" width="8.38" height="1.50" fill="#f4ddd9" />
<rect x="274.47" y="144.85" width="8.38" height="1.50" fill="#f5d5ce" />
<rect x="257.80" y="146.31" width="8.38" height="1.50" fill="#f17f66" />
<rect x="266.13" y="146.31" width="8.38" height="1.50" fill="#f2896f" />
<rect x="274.47" y="146.31" width="8.38" height="1.50" fill="#f5ae98" />
<rect x="257.80" y="147.76" width="8.38" height="1.50" fill="#f6c0af" />
<rect x="266.13" y="147.76" width="8.38" height="1.50" fill="#f5b39f" />
<rect x="274.47" y="147.76" width="8.38" height="1.50" fill="#f5a68f" />
<rect x="257.80" y="149.22" width="8.38" height="1.50" fill="#f6c1b1" />
<rect x="266.13" y="149.22" width="8.38" height="1.50" fill="#f4dcd7" />
<rect x="274.47" y="149.22" width="8.38" height="1.50" fill="#f3e0dd" />
<rect x="257.80" y="150.67" width="8.38" height="1.50" fill="#f4987c" />
<rect x="266.13" y="150.67" width="8.38" height="1.50" fill="#f6cabd" />
<rect x="274.47" y="150.67" width="8.38" height="1.50" fill="#e0d7e9" />
<rect x="257.80" y="152.13" width="8.38" height="1.50" fill="#f5cfc4" />
<rect x="266.13" y="152.13" width="8.38" height="1.50" fill="#f4a289" />
<rect x="274.47" y="152.13" width="8.38" height="1.50" fill="#f17d64" />
<rect x="257.80" y="153.58" width="8.38" height="1.50" fill="#f4dad4" />
<rect x="266.13" y="153.58" width="8.38" height="1.50" fill="#f4dedb" />
<rect x="274.47" y="153.58" width="8.38" height="1.50" fill="#f4a086" />
<rect x="257.80" y="155.04" width="8.38" height="1.50" fill="#f3e2e1" />
<rect x="266.13" y="155.04" width="8.38" height="1.50" fill="#f6cabd" />
<rect x="274.47" y="155.04" width="8.38" height="1.50" fill="#f49d83" />
<rect x="257.80" y="156.49" width="8.38" height="1.50" fill="#f6bdac" />
<rect x="266.13" y="156.49" width="8.38" height="1.50" fill="#f5ad98" />
<rect x="274.47" y="156.49" width="8.38" height="1.50" fill="#f5ad98" />
<rect x="257.80" y="157.95" width="8.38" height="1.50" fill="#f2ebee" />
<rect x="266.13" y="157.95" width="8.38" height="1.50" fill="#f5cdc1" />
<rect x="274.47" y="157.95" width="8.38" height="1.50" fill="#f5aa93" />
<rect x="257.80" y="159.40" width="8.38" height="1.50" fill="#f4dad5" />
<rect x="266.13" y="159.40" width="8.38" height="1.50" fill="#f3e4e4" />
<rect x="274.47" y="159.40" width="8.38" height="1.50" fill="#f5d4cc" />
<rect x="257.80" y="160.85" width="8.38" height="1.50" fill="#f6cbbe" />
<rect x="266.13" y="160.85" width="8.38" height="1.50" fill="#f5d1c7" />
<rect x="274.47" y="160.85" width="8.38" height="1.50" fill="#f5a58d" />
<rect x="257.80" y="162.31" width="8.38" height="1.50" fill="#d1c5e4" />
<rect x="266.13" y="162.31" width="8.38" height="1.50" fill="#f3dfdd" />
<rect x="274.47" y="162.31" width="8.38" height="1.50" fill="#eee7ef" />
<rect x="257.80" y="163.76" width="8.38" height="1.50" fill="#f5a891" />
<rect x="266.13" y="163.76" width="8.38" height="1.50" fill="#f3e1df" />
<rect x="274.47" y="163.76" width="8.38" height="1.50" fill="#f4d8d2" />
<rect x="257.80" y="165.22" width="8.38" height="1.50" fill="#ef6f57" />
<rect x="266.13" y="165.22" width="8.38" height="1.50" fill="#f0735c" />
<rect x="274.47" y="165.22" width="8.38" height="1.50" fill="#f49b80" />
<rect x="257.80" y="166.67" width="8.38" height="1.50" fill="#f5ae99" />
<rect x="266.13" y="166.67" width="8.38" height="1.50" fill="#f5b5a2" />
<rect x="274.47" y="166.67" width="8.38" height="1.50" fill="#f4dcd9" />
<rect x="257.80" y="168.13" width="8.38" height="1.50" fill="#a898d2" />
<rect x="266.13" y="168.13" width="8.38" height="1.50" fill="#c7bae0" />
<rect x="274.47" y="168.13" width="8.38" height="1.50" fill="#8675c3" />
<rect x="257.80" y="169.58" width="8.38" height="1.50" fill="#c1b3dd" />
<rect x="266.13" y="169.58" width="8.38" height="1.50" fill="#cdc1e2" />
<rect x="274.47" y="169.58" width="8.38" height="1.50" fill="#cbbee1" />
<rect x="257.80" y="171.04" width="8.38" height="1.50" fill="#f5d2c9" />
<rect x="266.13" y="171.04" width="8.38" height="1.50" fill="#d2c6e4" />
<rect x="274.47" y="171.04" width="8.38" height="1.50" fill="#f0eaef" />
<rect x="257.80" y="172.49" width="8.38" height="1.50" fill="#efe8ef" />
<rect x="266.13" y="172.49" width="8.38" height="1.50" fill="#d4c9e5" />
<rect x="274.47" y="172.49" width="8.38" height="1.50" fill="#e0d6e9" />
<rect x="257.80" y="173.95" width="8.38" height="1.50" fill="#f2ecef" />
<rect x="266.13" y="173.95" width="8.38" height="1.50" fill="#e0d7e9" />
<rect x="274.47" y="173.95" width="8.38" height="1.50" fill="#dacfe7" />
<rect x="284.80" y="47.40" width="8.38" height="1.50" fill="#ea4a3a" />
<rect x="293.13" y="47.40" width="8.38" height="1.50" fill="#e53327" />
<rect x="301.47" y="47.40" width="8.38" height="1.50" fill="#ec5643" />
<rect x="284.80" y="48.85" width="8.38" height="1.50" fill="#e73e30" />
<rect x="293.13" y="48.85" width="8.38" height="1.50" fill="#e53024" />
<rect x="301.47" y="48.85" width="8.38" height="1.50" fill="#ec5643" />
<rect x="284.80" y="50.31" width="8.38" height="1.50" fill="#f28a6f" />
<rect x="293.13" y="50.31" width="8.38" height="1.50" fill="#ef6e57" />
<rect x="301.47" y="50.31" width="8.38" height="1.50" fill="#ed604b" />
<rect x="284.80" y="51.76" width="8.38" height="1.50" fill="#ed5d48" />
<rect x="293.13" y="51.76" width="8.38" height="1.50" fill="#ec5643" />
<rect x="301.47" y="51.76" width="8.38" height="1.50" fill="#f0745c" />
<rect x="284.80" y="53.22" width="8.38" height="1.50" fill="#f5b4a0" />
<rect x="293.13" y="53.22" width="8.38" height="1.50" fill="#ed5d48" />
<rect x="301.47" y="53.22" width="8.38" height="1.50" fill="#ef6f57" />
<rect x="284.80" y="54.67" width="8.38" height="1.50" fill="#ed5d48" />
<rect x="293.13" y="54.67" width="8.38" height="1.50" fill="#f0775f" />
<rect x="301.47" y="54.67" width="8.38" height="1.50" fill="#f0735b" />
<rect x="284.80" y="56.13" width="8.38" height="1.50" fill="#eb5340" />
<rect x="293.13" y="56.13" width="8.38" height="1.50" fill="#ef6b54" />
<rect x="301.47" y="56.13" width="8.38" height="1.50" fill="#ef6d56" />
<rect x="284.80" y="57.58" width="8.38" height="1.50" fill="#f0765e" />
<rect x="293.13" y="57.58" width="8.38" height="1.50" fill="#f39176" />
<rect x="301.47" y="57.58" width="8.38" height="1.50" fill="#f39075" />
<rect x="284.80" y="59.04" width="8.38" height="1.50" fill="#f0725a" />
<rect x="293.13" y="59.04" width="8.38" height="1.50" fill="#f17c63" />
<rect x="301.47" y="59.04" width="8.38" height="1.50" fill="#f5ab95" />
<rect x="284.80" y="60.49" width="8.38" height="1.50" fill="#f18067" />
<rect x="293.13" y="60.49" width="8.38" height="1.50" fill="#f5bba9" />
<rect x="301.47" y="60.49" width="8.38" height="1.50" fill="#f5cec3" />
<rect x="284.80" y="61.95" width="8.38" height="1.50" fill="#f18167" />
<rect x="293.13" y="61.95" width="8.38" height="1.50" fill="#f07860" />
<rect x="301.47" y="61.95" width="8.38" height="1.50" fill="#f49c81" />
<rect x="284.80" y="63.40" width="8.38" height="1.50" fill="#e63327" />
<rect x="293.13" y="63.40" width="8.38" height="1.50" fill="#ea4d3c" />
<rect x="301.47" y="63.40" width="8.38" height="1.50" fill="#eb5441" />
<rect x="284.80" y="64.85" width="8.38" height="1.50" fill="#ea4d3c" />
<rect x="293.13" y="64.85" width="8.38" height="1.50" fill="#f6c6b8" />
<rect x="301.47" y="64.85" width="8.38" height="1.50" fill="#f49d83" />
<rect x="284.80" y="66.31" width="8.38" height="1.50" fill="#f4977b" />
<rect x="293.13" y="66.31" width="8.38" height="1.50" fill="#f17c63" />
<rect x="301.47" y="66.31" width="8.38" height="1.50" fill="#f2846b" />
<rect x="284.80" y="67.76" width="8.38" height="1.50" fill="#f17b63" />
<rect x="293.13" y="67.76" width="8.38" height="1.50" fill="#f4a187" />
<rect x="301.47" y="67.76" width="8.38" height="1.50" fill="#f4977b" />
<rect x="284.80" y="69.22" width="8.38" height="1.50" fill="#f0765e" />
<rect x="293.13" y="69.22" width="8.38" height="1.50" fill="#f5ac96" />
<rect x="301.47" y="69.22" width="8.38" height="1.50" fill="#f5d1c8" />
<rect x="284.80" y="70.67" width="8.38" height="1.50" fill="#f4997e" />
<rect x="293.13" y="70.67" width="8.38" height="1.50" fill="#f6cbbf" />
<rect x="301.47" y="70.67" width="8.38" height="1.50" fill="#f4987c" />
<rect x="284.80" y="72.13" width="8.38" height="1.50" fill="#e6382b" />
<rect x="293.13" y="72.13" width="8.38" height="1.50" fill="#ec5945" />
<rect x="301.47" y="72.13" width="8.38" height="1.50" fill="#f0765d" />
<rect x="284.80" y="73.58" width="8.38" height="1.50" fill="#e42a20" />
<rect x="293.13" y="73.58" width="8.38" height="1.50" fill="#e53025" />
<rect x="301.47" y="73.58" width="8.38" height="1.50" fill="#e84233" />
<rect x="284.80" y="75.04" width="8.38" height="1.50" fill="#f18067" />
<rect x="293.13" y="75.04" width="8.38" height="1.50" fill="#ef6c55" />
<rect x="301.47" y="75.04" width="8.38" height="1.50" fill="#f07a61" />
<rect x="284.80" y="76.49" width="8.38" height="1.50" fill="#f2896f" />
<rect x="293.13" y="76.49" width="8.38" height="1.50" fill="#f5b19c" />
<rect x="301.47" y="76.49" width="8.38" height="1.50" fill="#f5b09b" />
<rect x="284.80" y="77.95" width="8.38" height="1.50" fill="#f17f66" />
<rect x="293.13" y="77.95" width="8.38" height="1.50" fill="#ec5643" />
<rect x="301.47" y="77.95" width="8.38" height="1.50" fill="#f38c71" />
<rect x="284.80" y="79.40" width="8.38" height="1.50" fill="#f49a7f" />
<rect x="293.13" y="79.40" width="8.38" height="1.50" fill="#f5a890" />
<rect x="301.47" y="79.40" width="8.38" height="1.50" fill="#f4a289" />
<rect x="284.80" y="80.85" width="8.38" height="1.50" fill="#f0755d" />
<rect x="293.13" y="80.85" width="8.38" height="1.50" fill="#ef6b54" />
<rect x="301.47" y="80.85" width="8.38" height="1.50" fill="#ee654f" />
<rect x="284.80" y="82.31" width="8.38" height="1.50" fill="#f07960" />
<rect x="293.13" y="82.31" width="8.38" height="1.50" fill="#eb503e" />
<rect x="301.47" y="82.31" width="8.38" height="1.50" fill="#ee664f" />
<rect x="284.80" y="83.76" width="8.38" height="1.50" fill="#f0715a" />
<rect x="293.13" y="83.76" width="8.38" height="1.50" fill="#f2886e" />
<rect x="301.47" y="83.76" width="8.38" height="1.50" fill="#ee6750" />
<rect x="284.80" y="85.22" width="8.38" height="1.50" fill="#ed5e4a" />
<rect x="293.13" y="85.22" width="8.38" height="1.50" fill="#f07960" />
<rect x="301.47" y="85.22" width="8.38" height="1.50" fill="#f2856b" />
<rect x="284.80" y="86.67" width="8.38" height="1.50" fill="#f5b4a0" />
<rect x="293.13" y="86.67" width="8.38" height="1.50" fill="#f0735c" />
<rect x="301.47" y="86.67" width="8.38" height="1.50" fill="#f4a48b" />
<rect x="284.80" y="88.13" width="8.38" height="1.50" fill="#eb5442" />
<rect x="293.13" y="88.13" width="8.38" height="1.50" fill="#f49579" />
<rect x="301.47" y="88.13" width="8.38" height="1.50" fill="#f4a289" />
<rect x="284.80" y="89.58" width="8.38" height="1.50" fill="#f49579" />
<rect x="293.13" y="89.58" width="8.38" height="1.50" fill="#f5b9a6" />
<rect x="301.47" y="89.58" width="8.38" height="1.50" fill="#f5a78f" />
<rect x="284.80" y="91.04" width="8.38" height="1.50" fill="#f07860" />
<rect x="293.13" y="91.04" width="8.38" height="1.50" fill="#f2866c" />
<rect x="301.47" y="91.04" width="8.38" height="1.50" fill="#f6bead" />
<rect x="284.80" y="92.49" width="8.38" height="1.50" fill="#f5b29d" />
<rect x="293.13" y="92.49" width="8.38" height="1.50" fill="#f38e73" />
<rect x="301.47" y="92.49" width="8.38" height="1.50" fill="#f28a70" />
<rect x="284.80" y="93.95" width="8.38" height="1.50" fill="#f2856b" />
<rect x="293.13" y="93.95" width="8.38" height="1.50" fill="#f5bba9" />
<rect x="301.47" y="93.95" width="8.38" height="1.50" fill="#f38f74" />
<rect x="284.80" y="95.40" width="8.38" height="1.50" fill="#f38d73" />
<rect x="293.13" y="95.40" width="8.38" height="1.50" fill="#f5b09b" />
<rect x="301.47" y="95.40" width="8.38" height="1.50" fill="#f5ae99" />
<rect x="284.80" y="96.85" width="8.38" height="1.50" fill="#ef7059" />
<rect x="293.13" y="96.85" width="8.38" height="1.50" fill="#f4967a" />
<rect x="301.47" y="96.85" width="8.38" height="1.50" fill="#f0725a" />
<rect x="284.80" y="98.31" width="8.38" height="1.50" fill="#f49c81" />
<rect x="293.13" y="98.31" width="8.38" height="1.50" fill="#f38d72" />
<rect x="301.47" y="98.31" width="8.38" height="1.50" fill="#eb5341" />
<rect x="284.80" y="99.76" width="8.38" height="1.50" fill="#f4977b" />
<rect x="293.13" y="99.76" width="8.38" height="1.50" fill="#f6bead" />
<rect x="301.47" y="99.76" width="8.38" height="1.50" fill="#f4a187" />
<rect x="284.80" y="101.22" width="8.38" height="1.50" fill="#e94737" />
<rect x="293.13" y="101.22" width="8.38" height="1.50" fill="#f5ac96" />
<rect x="301.47" y="101.22" width="8.38" height="1.50" fill="#f17c63" />
<rect x="284.80" y="102.67" width="8.38" height="1.50" fill="#f6c8bb" />
<rect x="293.13" y="102.67" width="8.38" height="1.50" fill="#f39378" />
<rect x="301.47" y="102.67" width="8.38" height="1.50" fill="#f4987c" />
<rect x="284.80" y="104.13" width="8.38" height="1.50" fill="#e94939" />
<rect x="293.13" y="104.13" width="8.38" height="1.50" fill="#f17e65" />
<rect x="301.47" y="104.13" width="8.38" height="1.50" fill="#e84334" />
<rect x="284.80" y="105.58" width="8.38" height="1.50" fill="#e73b2d" />
<rect x="293.13" y="105.58" width="8.38" height="1.50" fill="#e84233" />
<rect x="301.47" y="105.58" width="8.38" height="1.50" fill="#e42a20" />
<rect x="284.80" y="107.04" width="8.38" height="1.50" fill="#ee6650" />
<rect x="293.13" y="107.04" width="8.38" height="1.50" fill="#ec5744" />
<rect x="301.47" y="107.04" width="8.38" height="1.50" fill="#ee6650" />
<rect x="284.80" y="108.49" width="8.38" height="1.50" fill="#ee644e" />
<rect x="293.13" y="108.49" width="8.38" height="1.50" fill="#f49c81" />
<rect x="301.47" y="108.49" width="8.38" height="1.50" fill="#ee634e" />
<rect x="284.80" y="109.95" width="8.38" height="1.50" fill="#ef7058" />
<rect x="293.13" y="109.95" width="8.38" height="1.50" fill="#ea4a39" />
<rect x="301.47" y="109.95" width="8.38" height="1.50" fill="#e94939" />
<rect x="284.80" y="111.40" width="8.38" height="1.50" fill="#f5a890" />
<rect x="293.13" y="111.40" width="8.38" height="1.50" fill="#f18268" />
<rect x="301.47" y="111.40" width="8.38" height="1.50" fill="#f5aa93" />
<rect x="284.80" y="112.85" width="8.38" height="1.50" fill="#e42a20" />
<rect x="293.13" y="112.85" width="8.38" height="1.50" fill="#e84334" />
<rect x="301.47" y="112.85" width="8.38" height="1.50" fill="#ee6751" />
<rect x="284.80" y="114.31" width="8.38" height="1.50" fill="#f4987c" />
<rect x="293.13" y="114.31" width="8.38" height="1.50" fill="#f4a38a" />
<rect x="301.47" y="114.31" width="8.38" height="1.50" fill="#f49a7e" />
<rect x="284.80" y="115.76" width="8.38" height="1.50" fill="#f4d6cf" />
<rect x="293.13" y="115.76" width="8.38" height="1.50" fill="#f5cfc5" />
<rect x="301.47" y="115.76" width="8.38" height="1.50" fill="#f6bdac" />
<rect x="284.80" y="117.22" width="8.38" height="1.50" fill="#e42a20" />
<rect x="293.13" y="117.22" width="8.38" height="1.50" fill="#e84031" />
<rect x="301.47" y="117.22" width="8.38" height="1.50" fill="#ea4b3a" />
<rect x="284.80" y="118.67" width="8.38" height="1.50" fill="#ec5744" />
<rect x="293.13" y="118.67" width="8.38" height="1.50" fill="#e84233" />
<rect x="301.47" y="118.67" width="8.38" height="1.50" fill="#e6372b" />
<rect x="284.80" y="120.13" width="8.38" height="1.50" fill="#f0755d" />
<rect x="293.13" y="120.13" width="8.38" height="1.50" fill="#f2876d" />
<rect x="301.47" y="120.13" width="8.38" height="1.50" fill="#f49579" />
<rect x="284.80" y="121.58" width="8.38" height="1.50" fill="#f39176" />
<rect x="293.13" y="121.58" width="8.38" height="1.50" fill="#f38f74" />
<rect x="301.47" y="121.58" width="8.38" height="1.50" fill="#f0725a" />
<rect x="284.80" y="123.04" width="8.38" height="1.50" fill="#ef6d56" />
<rect x="293.13" y="123.04" width="8.38" height="1.50" fill="#f28a70" />
<rect x="301.47" y="123.04" width="8.38" height="1.50" fill="#f5bba9" />
<rect x="284.80" y="124.49" width="8.38" height="1.50" fill="#f49c81" />
<rect x="293.13" y="124.49" width="8.38" height="1.50" fill="#ed5c48" />
<rect x="301.47" y="124.49" width="8.38" height="1.50" fill="#f17d65" />
<rect x="284.80" y="125.95" width="8.38" height="1.50" fill="#f49a7f" />
<rect x="293.13" y="125.95" width="8.38" height="1.50" fill="#f5b7a4" />
<rect x="301.47" y="125.95" width="8.38" height="1.50" fill="#f49b80" />
<rect x="284.80" y="127.40" width="8.38" height="1.50" fill="#f4967a" />
<rect x="293.13" y="127.40" width="8.38" height="1.50" fill="#f38e73" />
<rect x="301.47" y="127.40" width="8.38" height="1.50" fill="#f5a68e" />
<rect x="284.80" y="128.85" width="8.38" height="1.50" fill="#f5b29e" />
<rect x="293.13" y="128.85" width="8.38" height="1.50" fill="#f28b70" />
<rect x="301.47" y="128.85" width="8.38" height="1.50" fill="#ef6d56" />
<rect x="284.80" y="130.31" width="8.38" height="1.50" fill="#f0775f" />
<rect x="293.13" y="130.31" width="8.38" height="1.50" fill="#f38d72" />
<rect x="301.47" y="130.31" width="8.38" height="1.50" fill="#f5b39e" />
<rect x="284.80" y="131.76" width="8.38" height="1.50" fill="#f0755d" />
<rect x="293.13" y="131.76" width="8.38" height="1.50" fill="#ee6650" />
<rect x="301.47" y="131.76" width="8.38" height="1.50" fill="#e84434" />
<rect x="284.80" y="133.22" width="8.38" height="1.50" fill="#f2876d" />
<rect x="293.13" y="133.22" width="8.38" height="1.50" fill="#e83f31" />
<rect x="301.47" y="133.22" width="8.38" height="1.50" fill="#f38d72" />
<rect x="284.80" y="134.67" width="8.38" height="1.50" fill="#e42a20" />
<rect x="293.13" y="134.67" width="8.38" height="1.50" fill="#e73b2e" />
<rect x="301.47" y="134.67" width="8.38" height="1.50" fill="#e42a20" />
<rect x="284.80" y="136.13" width="8.38" height="1.50" fill="#f5b09b" />
<rect x="293.13" y="136.13" width="8.38" height="1.50" fill="#f4a188" />
<rect x="301.47" y="136.13" width="8.38" height="1.50" fill="#f6c1b1" />
<rect x="284.80" y="137.58" width="8.38" height="1.50" fill="#f39277" />
<rect x="293.13" y="137.58" width="8.38" height="1.50" fill="#f2856b" />
<rect x="301.47" y="137.58" width="8.38" height="1.50" fill="#ee644e" />
<rect x="284.80" y="139.04" width="8.38" height="1.50" fill="#f39378" />
<rect x="293.13" y="139.04" width="8.38" height="1.50" fill="#f5bba9" />
<rect x="301.47" y="139.04" width="8.38" height="1.50" fill="#f6bdac" />
<rect x="284.80" y="140.49" width="8.38" height="1.50" fill="#f4a188" />
<rect x="293.13" y="140.49" width="8.38" height="1.50" fill="#f49479" />
<rect x="301.47" y="140.49" width="8.38" height="1.50" fill="#f39075" />
<rect x="284.80" y="141.95" width="8.38" height="1.50" fill="#e42a20" />
<rect x="293.13" y="141.95" width="8.38" height="1.50" fill="#ea4d3c" />
<rect x="301.47" y="141.95" width="8.38" height="1.50" fill="#ef6d56" />
<rect x="284.80" y="143.40" width="8.38" height="1.50" fill="#f39377" />
<rect x="293.13" y="143.40" width="8.38" height="1.50" fill="#ee6650" />
<rect x="301.47" y="143.40" width="8.38" height="1.50" fill="#f5aa93" />
<rect x="284.80" y="144.85" width="8.38" height="1.50" fill="#f2856b" />
<rect x="293.13" y="144.85" width="8.38" height="1.50" fill="#ee6851" />
<rect x="301.47" y="144.85" width="8.38" height="1.50" fill="#e52e23" />
<rect x="284.80" y="146.31" width="8.38" height="1.50" fill="#f18268" />
<rect x="293.13" y="146.31" width="8.38" height="1.50" fill="#ec5945" />
<rect x="301.47" y="146.31" width="8.38" height="1.50" fill="#f4967a" />
<rect x="284.80" y="147.76" width="8.38" height="1.50" fill="#f17e65" />
<rect x="293.13" y="147.76" width="8.38" height="1.50" fill="#f4977b" />
<rect x="301.47" y="147.76" width="8.38" height="1.50" fill="#f5af9a" />
<rect x="284.80" y="149.22" width="8.38" height="1.50" fill="#ef7058" />
<rect x="293.13" y="149.22" width="8.38" height="1.50" fill="#f07961" />
<rect x="301.47" y="149.22" width="8.38" height="1.50" fill="#f39075" />
<rect x="284.80" y="150.67" width="8.38" height="1.50" fill="#f38e73" />
<rect x="293.13" y="150.67" width="8.38" height="1.50" fill="#f5b19d" />
<rect x="301.47" y="150.67" width="8.38" height="1.50" fill="#f5a790" />
<rect x="284.80" y="152.13" width="8.38" height="1.50" fill="#f38c71" />
<rect x="293.13" y="152.13" width="8.38" height="1.50" fill="#f39175" />
<rect x="301.47" y="152.13" width="8.38" height="1.50" fill="#ef6e57" />
<rect x="284.80" y="153.58" width="8.38" height="1.50" fill="#ef6953" />
<rect x="293.13" y="153.58" width="8.38" height="1.50" fill="#ee6852" />
<rect x="301.47" y="153.58" width="8.38" height="1.50" fill="#e63529" />
<rect x="284.80" y="155.04" width="8.38" height="1.50" fill="#f07961" />
<rect x="293.13" y="155.04" width="8.38" height="1.50" fill="#ef7059" />
<rect x="301.47" y="155.04" width="8.38" height="1.50" fill="#f17c63" />
<rect x="284.80" y="156.49" width="8.38" height="1.50" fill="#ed5c47" />
<rect x="293.13" y="156.49" width="8.38" height="1.50" fill="#f6c4b5" />
<rect x="301.47" y="156.49" width="8.38" height="1.50" fill="#f5baa8" />
<rect x="284.80" y="157.95" width="8.38" height="1.50" fill="#f49a7f" />
<rect x="293.13" y="157.95" width="8.38" height="1.50" fill="#f2836a" />
<rect x="301.47" y="157.95" width="8.38" height="1.50" fill="#f17c63" />
<rect x="284.80" y="159.40" width="8.38" height="1.50" fill="#f39378" />
<rect x="293.13" y="159.40" width="8.38" height="1.50" fill="#f17f66" />
<rect x="301.47" y="159.40" width="8.38" height="1.50" fill="#ec5744" />
<rect x="284.80" y="160.85" width="8.38" height="1.50" fill="#f38e73" />
<rect x="293.13" y="160.85" width="8.38" height="1.50" fill="#f38d72" />
<rect x="301.47" y="160.85" width="8.38" height="1.50" fill="#ef6c55" />
<rect x="284.80" y="162.31" width="8.38" height="1.50" fill="#e94837" />
<rect x="293.13" y="162.31" width="8.38" height="1.50" fill="#ee654e" />
<rect x="301.47" y="162.31" width="8.38" height="1.50" fill="#e73c2e" />
<rect x="284.80" y="163.76" width="8.38" height="1.50" fill="#e42a20" />
<rect x="293.13" y="163.76" width="8.38" height="1.50" fill="#e42b21" />
<rect x="301.47" y="163.76" width="8.38" height="1.50" fill="#e73e30" />
<rect x="284.80" y="165.22" width="8.38" height="1.50" fill="#ee6751" />
<rect x="293.13" y="165.22" width="8.38" height="1.50" fill="#ec5844" />
<rect x="301.47" y="165.22" width="8.38" height="1.50" fill="#ee6852" />
<rect x="284.80" y="166.67" width="8.38" height="1.50" fill="#f39176" />
<rect x="293.13" y="166.67" width="8.38" height="1.50" fill="#f4a086" />
<rect x="301.47" y="166.67" width="8.38" height="1.50" fill="#f4a289" />
<rect x="284.80" y="168.13" width="8.38" height="1.50" fill="#f28369" />
<rect x="293.13" y="168.13" width="8.38" height="1.50" fill="#f49b80" />
<rect x="301.47" y="168.13" width="8.38" height="1.50" fill="#f5a78f" />
<rect x="284.80" y="169.58" width="8.38" height="1.50" fill="#f6c2b2" />
<rect x="293.13" y="169.58" width="8.38" height="1.50" fill="#f39176" />
<rect x="301.47" y="169.58" width="8.38" height="1.50" fill="#f17f66" />
<rect x="284.80" y="171.04" width="8.38" height="1.50" fill="#b2a3d6" />
<rect x="293.13" y="171.04" width="8.38" height="1.50" fill="#7362ba" />
<rect x="301.47" y="171.04" width="8.38" height="1.50" fill="#9484c9" />
<rect x="284.80" y="172.49" width="8.38" height="1.50" fill="#b2a3d6" />
<rect x="293.13" y="172.49" width="8.38" height="1.50" fill="#7362ba" />
<rect x="301.47" y="172.49" width="8.38" height="1.50" fill="#9484c9" />
<rect x="284.80" y="173.95" width="8.38" height="1.50" fill="#b2a3d6" />
<rect x="293.13" y="173.95" width="8.38" height="1.50" fill="#7362ba" />
<rect x="301.47" y="173.95" width="8.38" height="1.50" fill="#9484c9" />
<path d="M176.20 45.40V43.40H200.80V45.40" fill="none" stroke="#231f20" stroke-width="1.0"/>
<path d="M203.50 45.40V43.40H228.10V45.40" fill="none" stroke="#231f20" stroke-width="1.0"/>
<path d="M230.70 45.40V43.40H255.30V45.40" fill="none" stroke="#231f20" stroke-width="1.0"/>
<path d="M258.00 45.40V43.40H282.60V45.40" fill="none" stroke="#231f20" stroke-width="1.0"/>
<path d="M285.00 45.40V43.40H309.60V45.40" fill="none" stroke="#231f20" stroke-width="1.0"/>
<g transform="translate(190.10 31.60) rotate(-45)">
<text x="0.00" y="-4.00" font-size="8.7" text-anchor="middle" dominant-baseline="central" fill="#231f20" stroke="#231f20" stroke-width="0.12" textLength="10.82" lengthAdjust="spacingAndGlyphs">WT</text>
<text x="0.00" y="4.00" font-size="8.7" text-anchor="middle" dominant-baseline="central" fill="#231f20" stroke="#231f20" stroke-width="0.12" textLength="15.86" lengthAdjust="spacingAndGlyphs">4wks</text>
</g>
<g transform="translate(218.20 30.20) rotate(-45)">
<text x="0.00" y="-4.00" font-size="8.7" text-anchor="middle" dominant-baseline="central" fill="#231f20" stroke="#231f20" stroke-width="0.12" textLength="24.89" lengthAdjust="spacingAndGlyphs">Cybb <tspan baseline-shift="3.3" font-size="5.8">KO</tspan></text>
<text x="0.00" y="4.00" font-size="8.7" text-anchor="middle" dominant-baseline="central" fill="#231f20" stroke="#231f20" stroke-width="0.12" textLength="15.86" lengthAdjust="spacingAndGlyphs">4wks</text>
</g>
<g transform="translate(244.60 31.60) rotate(-45)">
<text x="0.00" y="-4.00" font-size="8.7" text-anchor="middle" dominant-baseline="central" fill="#231f20" stroke="#231f20" stroke-width="0.12" textLength="10.82" lengthAdjust="spacingAndGlyphs">WT</text>
<text x="0.00" y="4.00" font-size="8.7" text-anchor="middle" dominant-baseline="central" fill="#231f20" stroke="#231f20" stroke-width="0.12" textLength="19.73" lengthAdjust="spacingAndGlyphs">12wks</text>
</g>
<g transform="translate(271.80 26.50) rotate(-45)">
<text x="0.00" y="-8.00" font-size="8.7" text-anchor="middle" dominant-baseline="central" fill="#231f20" stroke="#231f20" stroke-width="0.12" textLength="24.89" lengthAdjust="spacingAndGlyphs">Cybb <tspan baseline-shift="3.3" font-size="5.8">KO</tspan></text>
<text x="0.00" y="0.00" font-size="8.7" text-anchor="middle" dominant-baseline="central" fill="#231f20" stroke="#231f20" stroke-width="0.12" textLength="28.11" lengthAdjust="spacingAndGlyphs">CD11b<tspan baseline-shift="3.3" font-size="5.8">low</tspan></text>
<text x="0.00" y="8.00" font-size="8.7" text-anchor="middle" dominant-baseline="central" fill="#231f20" stroke="#231f20" stroke-width="0.12" textLength="19.73" lengthAdjust="spacingAndGlyphs">12wks</text>
</g>
<g transform="translate(298.80 26.50) rotate(-45)">
<text x="0.00" y="-8.00" font-size="8.7" text-anchor="middle" dominant-baseline="central" fill="#231f20" stroke="#231f20" stroke-width="0.12" textLength="24.89" lengthAdjust="spacingAndGlyphs">Cybb <tspan baseline-shift="3.3" font-size="5.8">KO</tspan></text>
<text x="0.00" y="0.00" font-size="8.7" text-anchor="middle" dominant-baseline="central" fill="#231f20" stroke="#231f20" stroke-width="0.12" textLength="29.92" lengthAdjust="spacingAndGlyphs">CD11b<tspan baseline-shift="3.3" font-size="5.8">high</tspan></text>
<text x="0.00" y="8.00" font-size="8.7" text-anchor="middle" dominant-baseline="central" fill="#231f20" stroke="#231f20" stroke-width="0.12" textLength="19.73" lengthAdjust="spacingAndGlyphs">12wks</text>
</g>
<defs><linearGradient id="cbB" x1="0" x2="1" y1="0" y2="0"><stop offset="0" stop-color="#e4231e"/><stop offset="0.25" stop-color="#e4231e"/><stop offset="0.5" stop-color="#ffffff"/><stop offset="0.75" stop-color="#3a3fa8"/><stop offset="1" stop-color="#3a3fa8"/></linearGradient><linearGradient id="cbE" x1="0" x2="1" y1="0" y2="0"><stop offset="0" stop-color="#e4321e"/><stop offset="0.5" stop-color="#ffffff"/><stop offset="1" stop-color="#3a3fa8"/></linearGradient></defs>
<rect x="175.00" y="178.00" width="42.60" height="2.40" fill="url(#cbB)" />
<text x="177.30" y="187.00" font-size="5.6" text-anchor="middle" fill="#333" stroke="#333" stroke-width="0.12" >+4</text>
<text x="185.80" y="187.00" font-size="5.6" text-anchor="middle" fill="#333" stroke="#333" stroke-width="0.12" >+2</text>
<text x="195.80" y="187.00" font-size="5.6" text-anchor="middle" fill="#333" stroke="#333" stroke-width="0.12" >0</text>
<text x="206.20" y="187.00" font-size="5.6" text-anchor="middle" fill="#333" stroke="#333" stroke-width="0.12" >−2</text>
<text x="215.80" y="187.00" font-size="5.6" text-anchor="middle" fill="#333" stroke="#333" stroke-width="0.12" >−4</text>
<text x="332.80" y="43.80" font-size="9.2" font-weight="bold" fill="#231f20" textLength="117.30" lengthAdjust="spacingAndGlyphs" >Hallmark gene set analysis</text>
<text x="341.30" y="55.40" font-size="7.3" fill="#231f20" stroke="#231f20" stroke-width="0.12" textLength="71.90" lengthAdjust="spacingAndGlyphs" >*Significance (FDRq)</text>
<rect x="331.30" y="60.90" width="91.60" height="7.10" fill="#1b5288" />
<text x="377.10" y="67.10" font-size="8.2" text-anchor="middle" fill="#ffffff" >*&lt;0.05</text>
<text x="432.50" y="67.00" font-size="8.0" fill="#231f20" stroke="#231f20" stroke-width="0.12" textLength="80.60" lengthAdjust="spacingAndGlyphs" >Inflammatory response</text>
<rect x="331.30" y="73.80" width="88.90" height="7.10" fill="#1b5288" />
<text x="375.75" y="80.00" font-size="8.2" text-anchor="middle" fill="#ffffff" >*&lt;0.05</text>
<text x="432.50" y="79.90" font-size="8.0" fill="#231f20" stroke="#231f20" stroke-width="0.12" textLength="50.20" lengthAdjust="spacingAndGlyphs" >IFNγ response</text>
<rect x="331.30" y="86.50" width="91.00" height="7.10" fill="#1b5288" />
<text x="376.80" y="92.70" font-size="8.2" text-anchor="middle" fill="#ffffff" >*&lt;0.05</text>
<text x="432.50" y="92.60" font-size="8.0" fill="#231f20" stroke="#231f20" stroke-width="0.12" textLength="50.80" lengthAdjust="spacingAndGlyphs" >IFNα response</text>
<rect x="331.30" y="98.60" width="98.00" height="7.10" fill="#1b5288" />
<text x="380.30" y="104.80" font-size="8.2" text-anchor="middle" fill="#ffffff" >*&lt;0.05</text>
<text x="432.50" y="104.70" font-size="8.0" fill="#231f20" stroke="#231f20" stroke-width="0.12" textLength="16.30" lengthAdjust="spacingAndGlyphs" >EMT</text>
<rect x="331.30" y="111.30" width="88.90" height="7.10" fill="#1b5288" />
<text x="375.75" y="117.50" font-size="8.2" text-anchor="middle" fill="#ffffff" >*&lt;0.05</text>
<text x="432.50" y="117.40" font-size="8.0" fill="#231f20" stroke="#231f20" stroke-width="0.12" textLength="53.64" lengthAdjust="spacingAndGlyphs" >KRAS signaling</text>
<rect x="331.30" y="123.90" width="83.70" height="7.10" fill="#1b5288" />
<text x="373.15" y="130.10" font-size="8.2" text-anchor="middle" fill="#ffffff" >0.07</text>
<text x="432.50" y="130.00" font-size="8.0" fill="#231f20" stroke="#231f20" stroke-width="0.12" textLength="68.80" lengthAdjust="spacingAndGlyphs" >IL2-STAT5 signaling</text>
<rect x="331.30" y="136.60" width="81.60" height="7.10" fill="#1b5288" />
<text x="372.10" y="142.80" font-size="8.2" text-anchor="middle" fill="#ffffff" >0.07</text>
<text x="432.50" y="142.70" font-size="8.0" fill="#231f20" stroke="#231f20" stroke-width="0.12" textLength="43.77" lengthAdjust="spacingAndGlyphs" >Complement</text>
<line x1="331.30" y1="55.80" x2="331.30" y2="148.90" stroke="#231f20" stroke-width="1.0" />
<line x1="330.80" y1="148.40" x2="452.50" y2="148.40" stroke="#231f20" stroke-width="1.0" />
<line x1="331.30" y1="148.40" x2="331.30" y2="150.60" stroke="#231f20" stroke-width="0.8" />
<text x="331.30" y="160.90" font-size="8.8" text-anchor="middle" fill="#231f20" stroke="#231f20" stroke-width="0.12" textLength="4.40" lengthAdjust="spacingAndGlyphs" >0</text>
<line x1="355.33" y1="148.40" x2="355.33" y2="150.60" stroke="#231f20" stroke-width="0.8" />
<text x="355.33" y="160.90" font-size="8.8" text-anchor="middle" fill="#231f20" stroke="#231f20" stroke-width="0.12" textLength="11.01" lengthAdjust="spacingAndGlyphs" >0.5</text>
<line x1="379.36" y1="148.40" x2="379.36" y2="150.60" stroke="#231f20" stroke-width="0.8" />
<text x="379.36" y="160.90" font-size="8.8" text-anchor="middle" fill="#231f20" stroke="#231f20" stroke-width="0.12" textLength="11.01" lengthAdjust="spacingAndGlyphs" >1.0</text>
<line x1="403.39" y1="148.40" x2="403.39" y2="150.60" stroke="#231f20" stroke-width="0.8" />
<text x="403.39" y="160.90" font-size="8.8" text-anchor="middle" fill="#231f20" stroke="#231f20" stroke-width="0.12" textLength="11.01" lengthAdjust="spacingAndGlyphs" >1.5</text>
<line x1="427.42" y1="148.40" x2="427.42" y2="150.60" stroke="#231f20" stroke-width="0.8" />
<text x="427.42" y="160.90" font-size="8.8" text-anchor="middle" fill="#231f20" stroke="#231f20" stroke-width="0.12" textLength="11.01" lengthAdjust="spacingAndGlyphs" >2.0</text>
<line x1="451.45" y1="148.40" x2="451.45" y2="150.60" stroke="#231f20" stroke-width="0.8" />
<text x="451.45" y="160.90" font-size="8.8" text-anchor="middle" fill="#231f20" stroke="#231f20" stroke-width="0.12" textLength="11.01" lengthAdjust="spacingAndGlyphs" >2.5</text>
<text x="391.60" y="172.90" font-size="9.2" text-anchor="middle" fill="#231f20" textLength="97.50" lengthAdjust="spacingAndGlyphs" >Normalized enrichment score</text>
<text x="326.80" y="102.60" font-size="9.2" text-anchor="middle" fill="#231f20" textLength="77.50" lengthAdjust="spacingAndGlyphs" transform="rotate(-90 326.80 102.60)" >GSEA hallmark analysis</text>
<text x="24.90" y="241.10" font-size="9.4" fill="#231f20" textLength="139.50" lengthAdjust="spacingAndGlyphs" >Cybb<tspan baseline-shift="3.9" font-size="6.8">KO</tspan> CD11b<tspan baseline-shift="3.9" font-size="6.8">high</tspan> vs Cybb<tspan baseline-shift="3.9" font-size="6.8">KO</tspan> CD11b<tspan baseline-shift="3.9" font-size="6.8">low</tspan></text>
<text x="34.40" y="389.40" font-size="9.4" fill="#231f20" textLength="120.60" lengthAdjust="spacingAndGlyphs" >Cybb<tspan baseline-shift="3.9" font-size="6.8">KO</tspan> CD11b<tspan baseline-shift="3.9" font-size="6.8">low</tspan> vs WT CD11b<tspan baseline-shift="3.9" font-size="6.8">low</tspan></text>
<rect x="36.80" y="243.50" width="116.20" height="114.30" fill="#f1f2f4" />
<rect x="50.50" y="255.40" width="100.70" height="87.80" fill="#ffffff" />
<text x="95.30" y="248.30" font-size="4.6" text-anchor="middle" fill="#333" stroke="#333" stroke-width="0.12" >Enrichment plot:</text>
<text x="95.30" y="253.50" font-size="4.6" text-anchor="middle" fill="#333" stroke="#333" stroke-width="0.12" textLength="84.00" lengthAdjust="spacingAndGlyphs" >HALLMARK_INFLAMMATORY_RESPONSE</text>
<line x1="67.52" y1="255.40" x2="67.52" y2="296.00" stroke="#e2e2e2" stroke-width="0.3" />
<line x1="84.54" y1="255.40" x2="84.54" y2="296.00" stroke="#e2e2e2" stroke-width="0.3" />
<line x1="101.55" y1="255.40" x2="101.55" y2="296.00" stroke="#e2e2e2" stroke-width="0.3" />
<line x1="118.57" y1="255.40" x2="118.57" y2="296.00" stroke="#e2e2e2" stroke-width="0.3" />
<line x1="135.59" y1="255.40" x2="135.59" y2="296.00" stroke="#e2e2e2" stroke-width="0.3" />
<line x1="50.50" y1="291.00" x2="147.50" y2="291.00" stroke="#e6e6e6" stroke-width="0.3" />
<line x1="50.50" y1="284.80" x2="147.50" y2="284.80" stroke="#e6e6e6" stroke-width="0.3" />
<line x1="50.50" y1="278.60" x2="147.50" y2="278.60" stroke="#e6e6e6" stroke-width="0.3" />
<line x1="50.50" y1="272.40" x2="147.50" y2="272.40" stroke="#e6e6e6" stroke-width="0.3" />
<line x1="50.50" y1="266.20" x2="147.50" y2="266.20" stroke="#e6e6e6" stroke-width="0.3" />
<line x1="50.50" y1="260.00" x2="147.50" y2="260.00" stroke="#e6e6e6" stroke-width="0.3" />
<line x1="50.50" y1="296.00" x2="147.50" y2="296.00" stroke="#bbbbbb" stroke-width="0.4" />
<line x1="50.50" y1="291.00" x2="147.50" y2="291.00" stroke="#999999" stroke-width="0.3" />
<polyline points="50.60,287.00 51.20,276.60 52.30,267.40 53.50,264.00 55.80,261.60 58.10,260.00 61.60,258.90 65.00,258.20 67.30,258.60 72.00,260.50 81.20,265.10 90.40,269.20 99.70,274.30 108.90,280.10 118.10,285.90 122.80,288.20 127.40,289.30 132.00,291.00 138.90,293.30 144.70,295.10 146.30,295.60 147.10,292.80" fill="none" stroke="#6cc24a" stroke-width="0.9" stroke-linejoin="round"/>
<text x="49.20" y="292.70" font-size="5.0" text-anchor="end" fill="#333" stroke="#333" stroke-width="0.12" >0.0</text>
<text x="49.20" y="286.50" font-size="5.0" text-anchor="end" fill="#333" stroke="#333" stroke-width="0.12" >0.1</text>
<text x="49.20" y="280.30" font-size="5.0" text-anchor="end" fill="#333" stroke="#333" stroke-width="0.12" >0.2</text>
<text x="49.20" y="274.10" font-size="5.0" text-anchor="end" fill="#333" stroke="#333" stroke-width="0.12" >0.3</text>
<text x="49.20" y="267.90" font-size="5.0" text-anchor="end" fill="#333" stroke="#333" stroke-width="0.12" >0.4</text>
<text x="49.20" y="261.70" font-size="5.0" text-anchor="end" fill="#333" stroke="#333" stroke-width="0.12" >0.5</text>
<line x1="50.83" y1="298.60" x2="50.83" y2="311.90" stroke="rgb(42,42,42)" stroke-width="0.5694662169368196" />
<line x1="51.18" y1="298.60" x2="51.18" y2="311.90" stroke="rgb(15,15,15)" stroke-width="0.5919774685200236" />
<line x1="51.48" y1="298.60" x2="51.48" y2="311.90" stroke="rgb(48,48,48)" stroke-width="0.9675532970582892" />
<line x1="51.65" y1="298.60" x2="51.65" y2="311.90" stroke="rgb(17,17,17)" stroke-width="0.689800826975782" />
<line x1="51.95" y1="298.60" x2="51.95" y2="311.90" stroke="rgb(15,15,15)" stroke-width="0.8605799045179758" />
<line x1="52.39" y1="298.60" x2="52.39" y2="311.90" stroke="rgb(2,2,2)" stroke-width="0.48709141320061433" />
<line x1="52.49" y1="298.60" x2="52.49" y2="311.90" stroke="rgb(20,20,20)" stroke-width="0.5848017281127352" />
<line x1="52.79" y1="298.60" x2="52.79" y2="311.90" stroke="rgb(42,42,42)" stroke-width="0.8579939030614097" />
<line x1="53.23" y1="298.60" x2="53.23" y2="311.90" stroke="rgb(27,27,27)" stroke-width="0.8138115328724254" />
<line x1="53.44" y1="298.60" x2="53.44" y2="311.90" stroke="rgb(34,34,34)" stroke-width="0.8795801528690882" />
<line x1="53.67" y1="298.60" x2="53.67" y2="311.90" stroke="rgb(46,46,46)" stroke-width="0.5323543455832531" />
<line x1="53.98" y1="298.60" x2="53.98" y2="311.90" stroke="rgb(31,31,31)" stroke-width="0.5289917937123454" />
<line x1="54.29" y1="298.60" x2="54.29" y2="311.90" stroke="rgb(22,22,22)" stroke-width="0.8824566337430526" />
<line x1="54.50" y1="298.60" x2="54.50" y2="311.90" stroke="rgb(44,44,44)" stroke-width="0.8675754847684913" />
<line x1="54.75" y1="298.60" x2="54.75" y2="311.90" stroke="rgb(1,1,1)" stroke-width="0.6476766420385772" />
<line x1="55.16" y1="298.60" x2="55.16" y2="311.90" stroke="rgb(8,8,8)" stroke-width="0.9993413681978209" />
<line x1="55.41" y1="298.60" x2="55.41" y2="311.90" stroke="rgb(7,7,7)" stroke-width="0.5843729435655657" />
<line x1="55.66" y1="298.60" x2="55.66" y2="311.90" stroke="rgb(160,160,160)" stroke-width="0.48348768660005337" />
<line x1="56.00" y1="298.60" x2="56.00" y2="311.90" stroke="rgb(20,20,20)" stroke-width="0.9287117043738335" />
<line x1="56.23" y1="298.60" x2="56.23" y2="311.90" stroke="rgb(20,20,20)" stroke-width="0.5378615319771309" />
<line x1="55.50" y1="298.60" x2="55.50" y2="311.90" stroke="rgb(24,24,24)" stroke-width="0.49326836724922674" />
<line x1="57.05" y1="298.60" x2="57.05" y2="311.90" stroke="rgb(80,80,80)" stroke-width="0.7860388830479427" />
<line x1="57.97" y1="298.60" x2="57.97" y2="311.90" stroke="rgb(20,20,20)" stroke-width="0.4712514130756172" />
<line x1="58.93" y1="298.60" x2="58.93" y2="311.90" stroke="rgb(0,0,0)" stroke-width="0.5133806270316464" />
<line x1="59.97" y1="298.60" x2="59.97" y2="311.90" stroke="rgb(120,120,120)" stroke-width="0.8003393360270002" />
<line x1="61.25" y1="298.60" x2="61.25" y2="311.90" stroke="rgb(40,40,40)" stroke-width="0.6286403559238084" />
<line x1="63.81" y1="298.60" x2="63.81" y2="311.90" stroke="rgb(40,40,40)" stroke-width="0.643636354949737" />
<line x1="65.10" y1="298.60" x2="65.10" y2="311.90" stroke="rgb(80,80,80)" stroke-width="0.521862453734628" />
<line x1="66.85" y1="298.60" x2="66.85" y2="311.90" stroke="rgb(0,0,0)" stroke-width="0.6673975244396008" />
<line x1="71.18" y1="298.60" x2="71.18" y2="311.90" stroke="rgb(20,20,20)" stroke-width="0.9519513590867021" />
<line x1="71.72" y1="298.60" x2="71.72" y2="311.90" stroke="rgb(40,40,40)" stroke-width="0.49739013981198943" />
<line x1="72.74" y1="298.60" x2="72.74" y2="311.90" stroke="rgb(0,0,0)" stroke-width="0.7588261148894421" />
<line x1="74.40" y1="298.60" x2="74.40" y2="311.90" stroke="rgb(80,80,80)" stroke-width="0.9489903194412361" />
<line x1="75.26" y1="298.60" x2="75.26" y2="311.90" stroke="rgb(160,160,160)" stroke-width="0.8351342317815162" />
<line x1="79.16" y1="298.60" x2="79.16" y2="311.90" stroke="rgb(120,120,120)" stroke-width="0.8935207833544891" />
<line x1="80.23" y1="298.60" x2="80.23" y2="311.90" stroke="rgb(0,0,0)" stroke-width="0.8258561055601867" />
<line x1="81.15" y1="298.60" x2="81.15" y2="311.90" stroke="rgb(40,40,40)" stroke-width="0.7057190493150542" />
<line x1="83.14" y1="298.60" x2="83.14" y2="311.90" stroke="rgb(0,0,0)" stroke-width="0.47712746045874377" />
<line x1="83.93" y1="298.60" x2="83.93" y2="311.90" stroke="rgb(20,20,20)" stroke-width="0.8452488194535557" />
<line x1="85.18" y1="298.60" x2="85.18" y2="311.90" stroke="rgb(120,120,120)" stroke-width="0.8925454549549291" />
<line x1="85.87" y1="298.60" x2="85.87" y2="311.90" stroke="rgb(120,120,120)" stroke-width="0.5969916673294836" />
<line x1="86.45" y1="298.60" x2="86.45" y2="311.90" stroke="rgb(120,120,120)" stroke-width="0.8843572829714312" />
<line x1="87.38" y1="298.60" x2="87.38" y2="311.90" stroke="rgb(20,20,20)" stroke-width="0.5258425128650162" />
<line x1="88.38" y1="298.60" x2="88.38" y2="311.90" stroke="rgb(0,0,0)" stroke-width="0.6647145184850314" />
<line x1="90.39" y1="298.60" x2="90.39" y2="311.90" stroke="rgb(20,20,20)" stroke-width="0.6072021812003339" />
<line x1="92.02" y1="298.60" x2="92.02" y2="311.90" stroke="rgb(40,40,40)" stroke-width="0.7831805975046546" />
<line x1="96.70" y1="298.60" x2="96.70" y2="311.90" stroke="rgb(80,80,80)" stroke-width="0.581899712017874" />
<line x1="98.01" y1="298.60" x2="98.01" y2="311.90" stroke="rgb(80,80,80)" stroke-width="0.7924121183079569" />
<line x1="98.51" y1="298.60" x2="98.51" y2="311.90" stroke="rgb(20,20,20)" stroke-width="0.8540792792595626" />
<line x1="99.48" y1="298.60" x2="99.48" y2="311.90" stroke="rgb(20,20,20)" stroke-width="0.6097298733904081" />
<line x1="100.38" y1="298.60" x2="100.38" y2="311.90" stroke="rgb(0,0,0)" stroke-width="0.6783107644869752" />
<line x1="100.98" y1="298.60" x2="100.98" y2="311.90" stroke="rgb(120,120,120)" stroke-width="0.754282128934505" />
<line x1="101.49" y1="298.60" x2="101.49" y2="311.90" stroke="rgb(40,40,40)" stroke-width="0.7351075565257954" />
<line x1="102.37" y1="298.60" x2="102.37" y2="311.90" stroke="rgb(80,80,80)" stroke-width="0.5916899909909213" />
<line x1="107.49" y1="298.60" x2="107.49" y2="311.90" stroke="rgb(20,20,20)" stroke-width="0.5028304737880394" />
<line x1="108.91" y1="298.60" x2="108.91" y2="311.90" stroke="rgb(160,160,160)" stroke-width="0.6287080218641043" />
<line x1="110.93" y1="298.60" x2="110.93" y2="311.90" stroke="rgb(0,0,0)" stroke-width="0.46578525974463353" />
<line x1="111.82" y1="298.60" x2="111.82" y2="311.90" stroke="rgb(40,40,40)" stroke-width="0.5352021973506141" />
<line x1="112.62" y1="298.60" x2="112.62" y2="311.90" stroke="rgb(80,80,80)" stroke-width="0.8810979100972861" />
<line x1="113.22" y1="298.60" x2="113.22" y2="311.90" stroke="rgb(120,120,120)" stroke-width="0.8003315184177087" />
<line x1="115.22" y1="298.60" x2="115.22" y2="311.90" stroke="rgb(80,80,80)" stroke-width="0.8655378718353807" />
<line x1="116.80" y1="298.60" x2="116.80" y2="311.90" stroke="rgb(160,160,160)" stroke-width="0.6143314568219067" />
<line x1="118.20" y1="298.60" x2="118.20" y2="311.90" stroke="rgb(20,20,20)" stroke-width="0.637045300397563" />
<line x1="120.94" y1="298.60" x2="120.94" y2="311.90" stroke="rgb(80,80,80)" stroke-width="0.8624144381082971" />
<line x1="121.61" y1="298.60" x2="121.61" y2="311.90" stroke="rgb(0,0,0)" stroke-width="0.5342838473169513" />
<line x1="122.67" y1="298.60" x2="122.67" y2="311.90" stroke="rgb(20,20,20)" stroke-width="0.9320511345241408" />
<line x1="125.10" y1="298.60" x2="125.10" y2="311.90" stroke="rgb(0,0,0)" stroke-width="0.8595733065348719" />
<line x1="129.30" y1="298.60" x2="129.30" y2="311.90" stroke="rgb(80,80,80)" stroke-width="0.7577788529769213" />
<line x1="129.99" y1="298.60" x2="129.99" y2="311.90" stroke="rgb(0,0,0)" stroke-width="0.6963303680082834" />
<line x1="137.01" y1="298.60" x2="137.01" y2="311.90" stroke="rgb(120,120,120)" stroke-width="0.7611861723647838" />
<line x1="138.85" y1="298.60" x2="138.85" y2="311.90" stroke="rgb(20,20,20)" stroke-width="0.7552877927761357" />
<line x1="139.38" y1="298.60" x2="139.38" y2="311.90" stroke="rgb(0,0,0)" stroke-width="0.8980319799547933" />
<line x1="140.04" y1="298.60" x2="140.04" y2="311.90" stroke="rgb(0,0,0)" stroke-width="0.8917337074310626" />
<line x1="140.83" y1="298.60" x2="140.83" y2="311.90" stroke="rgb(80,80,80)" stroke-width="0.7228545158108906" />
<line x1="144.32" y1="298.60" x2="144.32" y2="311.90" stroke="rgb(20,20,20)" stroke-width="0.5095662859940187" />
<defs><linearGradient id="gs11" x1="0" x2="1"><stop offset="0" stop-color="#e4303c"/><stop offset="0.18" stop-color="#e4303c"/><stop offset="0.18" stop-color="#ec5262"/><stop offset="0.38" stop-color="#ec5262"/><stop offset="0.38" stop-color="#f0a2c2"/><stop offset="0.5" stop-color="#f0a2c2"/><stop offset="0.5" stop-color="#dcd4f0"/><stop offset="0.6" stop-color="#dcd4f0"/><stop offset="0.6" stop-color="#c2bae6"/><stop offset="0.69" stop-color="#c2bae6"/><stop offset="0.69" stop-color="#8c88d0"/><stop offset="0.78" stop-color="#8c88d0"/><stop offset="0.78" stop-color="#4a4ab2"/><stop offset="0.97" stop-color="#4a4ab2"/><stop offset="0.97" stop-color="#34349e"/><stop offset="1.0" stop-color="#34349e"/></linearGradient></defs>
<rect x="50.50" y="311.90" width="97.00" height="3.60" fill="url(#gs11)" />
<polygon points="50.50,330.00 50.60,316.50 51.00,319.00 52.00,321.50 54.00,323.50 57.00,325.00 62.00,326.30 70.00,327.30 80.00,328.20 90.00,328.90 100.00,329.50 110.00,330.10 120.00,330.80 130.00,331.80 138.00,333.00 143.00,335.00 146.00,338.00 147.40,342.00 147.50,330.00" fill="#c4c4c4"/>
<line x1="50.50" y1="330.00" x2="147.50" y2="330.00" stroke="#888" stroke-width="0.3" />
<text x="103.85" y="328.80" font-size="2.4" text-anchor="middle" fill="#555" stroke="#555" stroke-width="0.12" >Zero cross at 5858</text>
<text x="53.50" y="317.80" font-size="2.6" fill="#e03030" stroke="#e03030" stroke-width="0.12" >'na_pos' (positively correlated)</text>
<text x="145.50" y="341.00" font-size="2.6" text-anchor="end" fill="#3a7fd0" stroke="#3a7fd0" stroke-width="0.12" >'na_neg' (negatively correlated)</text>
<text x="49.20" y="318.40" font-size="4.2" text-anchor="end" fill="#333" stroke="#333" stroke-width="0.12" >4</text>
<text x="49.20" y="322.10" font-size="4.2" text-anchor="end" fill="#333" stroke="#333" stroke-width="0.12" >3</text>
<text x="49.20" y="325.90" font-size="4.2" text-anchor="end" fill="#333" stroke="#333" stroke-width="0.12" >2</text>
<text x="49.20" y="329.60" font-size="4.2" text-anchor="end" fill="#333" stroke="#333" stroke-width="0.12" >1</text>
<text x="49.20" y="333.40" font-size="4.2" text-anchor="end" fill="#333" stroke="#333" stroke-width="0.12" >0</text>
<text x="49.20" y="337.10" font-size="4.2" text-anchor="end" fill="#333" stroke="#333" stroke-width="0.12" >−1</text>
<text x="49.20" y="340.90" font-size="4.2" text-anchor="end" fill="#333" stroke="#333" stroke-width="0.12" >−2</text>
<text x="51.60" y="337.90" font-size="8.2" fill="#111" stroke="#111" stroke-width="0.12" textLength="44.60" lengthAdjust="spacingAndGlyphs" >*FDR q=0.049</text>
<text x="50.50" y="348.40" font-size="5.0" text-anchor="middle" fill="#333" stroke="#333" stroke-width="0.12" >0</text>
<text x="67.90" y="348.40" font-size="5.0" text-anchor="middle" fill="#333" stroke="#333" stroke-width="0.12" >2,000</text>
<text x="85.30" y="348.40" font-size="5.0" text-anchor="middle" fill="#333" stroke="#333" stroke-width="0.12" >4,000</text>
<text x="102.70" y="348.40" font-size="5.0" text-anchor="middle" fill="#333" stroke="#333" stroke-width="0.12" >6,000</text>
<text x="120.10" y="348.40" font-size="5.0" text-anchor="middle" fill="#333" stroke="#333" stroke-width="0.12" >8,000</text>
<text x="137.50" y="348.40" font-size="5.0" text-anchor="middle" fill="#333" stroke="#333" stroke-width="0.12" >10,000</text>
<text x="101.00" y="354.00" font-size="6.0" text-anchor="middle" fill="#333" stroke="#333" stroke-width="0.12" textLength="43.50" lengthAdjust="spacingAndGlyphs" >Rank in ordered dataset</text>
<text x="40.40" y="275.70" font-size="4.3" text-anchor="middle" fill="#333" stroke="#333" stroke-width="0.12" transform="rotate(-90 40.40 275.70)" >Enrichment score (ES)</text>
<text x="38.10" y="328.90" font-size="4.0" text-anchor="middle" fill="#333" stroke="#333" stroke-width="0.12" transform="rotate(-90 38.10 328.90)" >Ranked list metric (Signal2Noise)</text>
<line x1="66.50" y1="361.90" x2="70.50" y2="361.90" stroke="#6cc24a" stroke-width="0.6" />
<text x="71.50" y="363.10" font-size="2.8" fill="#555" stroke="#555" stroke-width="0.12" >Enrichment profile</text>
<line x1="92.50" y1="361.90" x2="96.50" y2="361.90" stroke="#888" stroke-width="0.6" />
<text x="97.50" y="363.10" font-size="2.8" fill="#555" stroke="#555" stroke-width="0.12" >Hits</text>
<line x1="108.50" y1="361.90" x2="112.50" y2="361.90" stroke="#bbb" stroke-width="0.6" />
<text x="113.50" y="363.10" font-size="2.8" fill="#555" stroke="#555" stroke-width="0.12" >Ranking metric scores</text>
<rect x="36.80" y="392.40" width="116.70" height="115.10" fill="#f1f2f4" />
<rect x="48.80" y="403.80" width="102.70" height="88.70" fill="#ffffff" />
<text x="93.90" y="397.20" font-size="4.6" text-anchor="middle" fill="#333" stroke="#333" stroke-width="0.12" >Enrichment plot:</text>
<text x="93.90" y="402.40" font-size="4.6" text-anchor="middle" fill="#333" stroke="#333" stroke-width="0.12" textLength="84.00" lengthAdjust="spacingAndGlyphs" >HALLMARK_INFLAMMATORY_RESPONSE</text>
<line x1="66.20" y1="403.80" x2="66.20" y2="445.00" stroke="#e2e2e2" stroke-width="0.3" />
<line x1="83.61" y1="403.80" x2="83.61" y2="445.00" stroke="#e2e2e2" stroke-width="0.3" />
<line x1="101.01" y1="403.80" x2="101.01" y2="445.00" stroke="#e2e2e2" stroke-width="0.3" />
<line x1="118.41" y1="403.80" x2="118.41" y2="445.00" stroke="#e2e2e2" stroke-width="0.3" />
<line x1="135.82" y1="403.80" x2="135.82" y2="445.00" stroke="#e2e2e2" stroke-width="0.3" />
<line x1="48.80" y1="442.00" x2="148.00" y2="442.00" stroke="#e6e6e6" stroke-width="0.3" />
<line x1="48.80" y1="436.04" x2="148.00" y2="436.04" stroke="#e6e6e6" stroke-width="0.3" />
<line x1="48.80" y1="430.08" x2="148.00" y2="430.08" stroke="#e6e6e6" stroke-width="0.3" />
<line x1="48.80" y1="424.12" x2="148.00" y2="424.12" stroke="#e6e6e6" stroke-width="0.3" />
<line x1="48.80" y1="418.16" x2="148.00" y2="418.16" stroke="#e6e6e6" stroke-width="0.3" />
<line x1="48.80" y1="412.20" x2="148.00" y2="412.20" stroke="#e6e6e6" stroke-width="0.3" />
<line x1="48.80" y1="406.24" x2="148.00" y2="406.24" stroke="#e6e6e6" stroke-width="0.3" />
<line x1="48.80" y1="445.00" x2="148.00" y2="445.00" stroke="#bbbbbb" stroke-width="0.4" />
<line x1="48.80" y1="442.00" x2="148.00" y2="442.00" stroke="#999999" stroke-width="0.3" />
<polyline points="48.90,443.75 49.50,430.00 50.50,420.00 52.00,414.50 53.75,413.00 55.00,410.00 56.25,408.00 58.75,406.50 61.25,406.50 65.00,407.50 70.00,408.75 75.00,409.50 77.50,410.00 85.00,413.75 95.00,418.75 105.00,424.50 115.00,430.00 120.00,431.50 125.00,433.75 135.00,438.75 142.50,442.50 146.25,444.25 147.60,444.00" fill="none" stroke="#6cc24a" stroke-width="0.9" stroke-linejoin="round"/>
<text x="47.50" y="443.70" font-size="5.0" text-anchor="end" fill="#333" stroke="#333" stroke-width="0.12" >0.0</text>
<text x="47.50" y="437.74" font-size="5.0" text-anchor="end" fill="#333" stroke="#333" stroke-width="0.12" >0.1</text>
<text x="47.50" y="431.78" font-size="5.0" text-anchor="end" fill="#333" stroke="#333" stroke-width="0.12" >0.2</text>
<text x="47.50" y="425.82" font-size="5.0" text-anchor="end" fill="#333" stroke="#333" stroke-width="0.12" >0.3</text>
<text x="47.50" y="419.86" font-size="5.0" text-anchor="end" fill="#333" stroke="#333" stroke-width="0.12" >0.4</text>
<text x="47.50" y="413.90" font-size="5.0" text-anchor="end" fill="#333" stroke="#333" stroke-width="0.12" >0.5</text>
<text x="47.50" y="407.94" font-size="5.0" text-anchor="end" fill="#333" stroke="#333" stroke-width="0.12" >0.6</text>
<line x1="49.24" y1="446.60" x2="49.24" y2="460.40" stroke="rgb(28,28,28)" stroke-width="0.7349964282560655" />
<line x1="49.51" y1="446.60" x2="49.51" y2="460.40" stroke="rgb(40,40,40)" stroke-width="0.7270378902305923" />
<line x1="49.69" y1="446.60" x2="49.69" y2="460.40" stroke="rgb(5,5,5)" stroke-width="0.5221268206169875" />
<line x1="49.96" y1="446.60" x2="49.96" y2="460.40" stroke="rgb(35,35,35)" stroke-width="0.7067340997918576" />
<line x1="50.35" y1="446.60" x2="50.35" y2="460.40" stroke="rgb(10,10,10)" stroke-width="0.9817879723677401" />
<line x1="50.67" y1="446.60" x2="50.67" y2="460.40" stroke="rgb(13,13,13)" stroke-width="0.8805255565562093" />
<line x1="50.82" y1="446.60" x2="50.82" y2="460.40" stroke="rgb(15,15,15)" stroke-width="0.8603880763182901" />
<line x1="51.10" y1="446.60" x2="51.10" y2="460.40" stroke="rgb(26,26,26)" stroke-width="0.4700688936844171" />
<line x1="51.48" y1="446.60" x2="51.48" y2="460.40" stroke="rgb(35,35,35)" stroke-width="0.6106155570289604" />
<line x1="51.71" y1="446.60" x2="51.71" y2="460.40" stroke="rgb(21,21,21)" stroke-width="0.8425695638041366" />
<line x1="51.98" y1="446.60" x2="51.98" y2="460.40" stroke="rgb(49,49,49)" stroke-width="0.6958500465633987" />
<line x1="52.25" y1="446.60" x2="52.25" y2="460.40" stroke="rgb(33,33,33)" stroke-width="0.7171010265778779" />
<line x1="52.47" y1="446.60" x2="52.47" y2="460.40" stroke="rgb(33,33,33)" stroke-width="0.5374257106553113" />
<line x1="52.83" y1="446.60" x2="52.83" y2="460.40" stroke="rgb(49,49,49)" stroke-width="0.5291487092533987" />
<line x1="53.08" y1="446.60" x2="53.08" y2="460.40" stroke="rgb(33,33,33)" stroke-width="0.48625066264986605" />
<line x1="53.38" y1="446.60" x2="53.38" y2="460.40" stroke="rgb(4,4,4)" stroke-width="0.9305333329101235" />
<line x1="53.69" y1="446.60" x2="53.69" y2="460.40" stroke="rgb(37,37,37)" stroke-width="0.5029994355720311" />
<line x1="54.00" y1="446.60" x2="54.00" y2="460.40" stroke="rgb(0,0,0)" stroke-width="0.48859349030132926" />
<line x1="54.26" y1="446.60" x2="54.26" y2="460.40" stroke="rgb(0,0,0)" stroke-width="0.9645471030932575" />
<line x1="54.57" y1="446.60" x2="54.57" y2="460.40" stroke="rgb(40,40,40)" stroke-width="0.8772239200019128" />
<line x1="53.80" y1="446.60" x2="53.80" y2="460.40" stroke="rgb(34,34,34)" stroke-width="0.8198316266975192" />
<line x1="54.31" y1="446.60" x2="54.31" y2="460.40" stroke="rgb(120,120,120)" stroke-width="0.46804787916787727" />
<line x1="56.29" y1="446.60" x2="56.29" y2="460.40" stroke="rgb(120,120,120)" stroke-width="0.6154961357957733" />
<line x1="58.48" y1="446.60" x2="58.48" y2="460.40" stroke="rgb(0,0,0)" stroke-width="0.7673388606669391" />
<line x1="61.61" y1="446.60" x2="61.61" y2="460.40" stroke="rgb(20,20,20)" stroke-width="0.6934877742182731" />
<line x1="62.70" y1="446.60" x2="62.70" y2="460.40" stroke="rgb(120,120,120)" stroke-width="0.5870524354999829" />
<line x1="63.21" y1="446.60" x2="63.21" y2="460.40" stroke="rgb(80,80,80)" stroke-width="0.9735327856647531" />
<line x1="64.39" y1="446.60" x2="64.39" y2="460.40" stroke="rgb(80,80,80)" stroke-width="0.7170022922628971" />
<line x1="65.18" y1="446.60" x2="65.18" y2="460.40" stroke="rgb(20,20,20)" stroke-width="0.6094441509778767" />
<line x1="67.25" y1="446.60" x2="67.25" y2="460.40" stroke="rgb(40,40,40)" stroke-width="0.8644103016214246" />
<line x1="69.43" y1="446.60" x2="69.43" y2="460.40" stroke="rgb(120,120,120)" stroke-width="0.8182595551639807" />
<line x1="72.67" y1="446.60" x2="72.67" y2="460.40" stroke="rgb(0,0,0)" stroke-width="0.5702108968454662" />
<line x1="77.59" y1="446.60" x2="77.59" y2="460.40" stroke="rgb(80,80,80)" stroke-width="0.7260976574840716" />
<line x1="80.79" y1="446.60" x2="80.79" y2="460.40" stroke="rgb(80,80,80)" stroke-width="0.9037024028091364" />
<line x1="81.90" y1="446.60" x2="81.90" y2="460.40" stroke="rgb(20,20,20)" stroke-width="0.9489273564012399" />
<line x1="84.78" y1="446.60" x2="84.78" y2="460.40" stroke="rgb(40,40,40)" stroke-width="0.6979791250705849" />
<line x1="85.53" y1="446.60" x2="85.53" y2="460.40" stroke="rgb(0,0,0)" stroke-width="0.9863873087270454" />
<line x1="86.94" y1="446.60" x2="86.94" y2="460.40" stroke="rgb(0,0,0)" stroke-width="0.8727672897119985" />
<line x1="88.21" y1="446.60" x2="88.21" y2="460.40" stroke="rgb(40,40,40)" stroke-width="0.9053259799536771" />
<line x1="90.71" y1="446.60" x2="90.71" y2="460.40" stroke="rgb(120,120,120)" stroke-width="0.5194468251697504" />
<line x1="94.50" y1="446.60" x2="94.50" y2="460.40" stroke="rgb(160,160,160)" stroke-width="0.4962587154792855" />
<line x1="96.77" y1="446.60" x2="96.77" y2="460.40" stroke="rgb(160,160,160)" stroke-width="0.6199329763694207" />
<line x1="97.86" y1="446.60" x2="97.86" y2="460.40" stroke="rgb(160,160,160)" stroke-width="0.715604303632875" />
<line x1="99.28" y1="446.60" x2="99.28" y2="460.40" stroke="rgb(0,0,0)" stroke-width="0.5543137219815906" />
<line x1="104.18" y1="446.60" x2="104.18" y2="460.40" stroke="rgb(160,160,160)" stroke-width="0.768591373373692" />
<line x1="106.19" y1="446.60" x2="106.19" y2="460.40" stroke="rgb(0,0,0)" stroke-width="0.5387777316773794" />
<line x1="109.32" y1="446.60" x2="109.32" y2="460.40" stroke="rgb(120,120,120)" stroke-width="0.8316409958290385" />
<line x1="110.20" y1="446.60" x2="110.20" y2="460.40" stroke="rgb(40,40,40)" stroke-width="0.4586045098379243" />
<line x1="110.89" y1="446.60" x2="110.89" y2="460.40" stroke="rgb(20,20,20)" stroke-width="0.8649567441847816" />
<line x1="111.62" y1="446.60" x2="111.62" y2="460.40" stroke="rgb(160,160,160)" stroke-width="0.8635191119506853" />
<line x1="114.64" y1="446.60" x2="114.64" y2="460.40" stroke="rgb(0,0,0)" stroke-width="0.9786416657690122" />
<line x1="117.96" y1="446.60" x2="117.96" y2="460.40" stroke="rgb(120,120,120)" stroke-width="0.5293050072274321" />
<line x1="119.00" y1="446.60" x2="119.00" y2="460.40" stroke="rgb(0,0,0)" stroke-width="0.8568433683042278" />
<line x1="122.72" y1="446.60" x2="122.72" y2="460.40" stroke="rgb(0,0,0)" stroke-width="0.46000040653468777" />
<line x1="124.18" y1="446.60" x2="124.18" y2="460.40" stroke="rgb(160,160,160)" stroke-width="0.7930119538356123" />
<line x1="131.29" y1="446.60" x2="131.29" y2="460.40" stroke="rgb(80,80,80)" stroke-width="0.9582903229388726" />
<line x1="132.11" y1="446.60" x2="132.11" y2="460.40" stroke="rgb(40,40,40)" stroke-width="0.6436579166228484" />
<line x1="135.70" y1="446.60" x2="135.70" y2="460.40" stroke="rgb(0,0,0)" stroke-width="0.8678176234508164" />
<line x1="137.95" y1="446.60" x2="137.95" y2="460.40" stroke="rgb(0,0,0)" stroke-width="0.6102807046022507" />
<line x1="139.24" y1="446.60" x2="139.24" y2="460.40" stroke="rgb(20,20,20)" stroke-width="0.5486852487609247" />
<line x1="140.16" y1="446.60" x2="140.16" y2="460.40" stroke="rgb(80,80,80)" stroke-width="0.7409575805199737" />
<defs><linearGradient id="gs23" x1="0" x2="1"><stop offset="0" stop-color="#e6404c"/><stop offset="0.35" stop-color="#e6404c"/><stop offset="0.35" stop-color="#ec6a80"/><stop offset="0.45" stop-color="#ec6a80"/><stop offset="0.45" stop-color="#f0a8c8"/><stop offset="0.52" stop-color="#f0a8c8"/><stop offset="0.52" stop-color="#dad2ee"/><stop offset="0.64" stop-color="#dad2ee"/><stop offset="0.64" stop-color="#bab2e2"/><stop offset="0.72" stop-color="#bab2e2"/><stop offset="0.72" stop-color="#7c78c8"/><stop offset="0.85" stop-color="#7c78c8"/><stop offset="0.85" stop-color="#4a4ab0"/><stop offset="0.95" stop-color="#4a4ab0"/><stop offset="0.95" stop-color="#3030a0"/><stop offset="1.0" stop-color="#3030a0"/></linearGradient></defs>
<rect x="48.80" y="460.40" width="99.20" height="3.50" fill="url(#gs23)" />
<polygon points="48.80,478.80 48.90,464.50 49.30,467.00 50.30,470.00 52.30,472.50 55.00,474.30 60.00,475.80 68.00,476.80 80.00,477.60 90.00,478.20 100.00,478.80 110.00,479.40 120.00,480.20 130.00,481.20 138.00,482.50 143.00,484.50 146.00,487.50 147.60,491.50 148.00,478.80" fill="#c4c4c4"/>
<line x1="48.80" y1="478.80" x2="148.00" y2="478.80" stroke="#888" stroke-width="0.3" />
<text x="103.36" y="477.60" font-size="2.4" text-anchor="middle" fill="#555" stroke="#555" stroke-width="0.12" >Zero cross at 5858</text>
<text x="51.80" y="466.20" font-size="2.6" fill="#e03030" stroke="#e03030" stroke-width="0.12" >'na_pos' (positively correlated)</text>
<text x="146.00" y="490.30" font-size="2.6" text-anchor="end" fill="#3a7fd0" stroke="#3a7fd0" stroke-width="0.12" >'na_neg' (negatively correlated)</text>
<text x="47.50" y="466.90" font-size="4.2" text-anchor="end" fill="#333" stroke="#333" stroke-width="0.12" >4</text>
<text x="47.50" y="473.70" font-size="4.2" text-anchor="end" fill="#333" stroke="#333" stroke-width="0.12" >2</text>
<text x="47.50" y="480.50" font-size="4.2" text-anchor="end" fill="#333" stroke="#333" stroke-width="0.12" >0</text>
<text x="47.50" y="487.10" font-size="4.2" text-anchor="end" fill="#333" stroke="#333" stroke-width="0.12" >−2</text>
<text x="47.50" y="493.60" font-size="4.2" text-anchor="end" fill="#333" stroke="#333" stroke-width="0.12" >−4</text>
<text x="49.60" y="487.30" font-size="8.2" fill="#111" stroke="#111" stroke-width="0.12" textLength="45.00" lengthAdjust="spacingAndGlyphs" >*FDR q=0.057</text>
<text x="48.80" y="497.70" font-size="5.0" text-anchor="middle" fill="#333" stroke="#333" stroke-width="0.12" >0</text>
<text x="66.20" y="497.70" font-size="5.0" text-anchor="middle" fill="#333" stroke="#333" stroke-width="0.12" >2,000</text>
<text x="83.60" y="497.70" font-size="5.0" text-anchor="middle" fill="#333" stroke="#333" stroke-width="0.12" >4,000</text>
<text x="101.00" y="497.70" font-size="5.0" text-anchor="middle" fill="#333" stroke="#333" stroke-width="0.12" >6,000</text>
<text x="118.40" y="497.70" font-size="5.0" text-anchor="middle" fill="#333" stroke="#333" stroke-width="0.12" >8,000</text>
<text x="135.80" y="497.70" font-size="5.0" text-anchor="middle" fill="#333" stroke="#333" stroke-width="0.12" >10,000</text>
<text x="100.40" y="503.30" font-size="6.0" text-anchor="middle" fill="#333" stroke="#333" stroke-width="0.12" textLength="43.50" lengthAdjust="spacingAndGlyphs" >Rank in ordered dataset</text>
<text x="40.40" y="424.40" font-size="4.3" text-anchor="middle" fill="#333" stroke="#333" stroke-width="0.12" transform="rotate(-90 40.40 424.40)" >Enrichment score (ES)</text>
<text x="38.10" y="477.55" font-size="4.0" text-anchor="middle" fill="#333" stroke="#333" stroke-width="0.12" transform="rotate(-90 38.10 477.55)" >Ranked list metric (Signal2Noise)</text>
<line x1="64.80" y1="511.60" x2="68.80" y2="511.60" stroke="#6cc24a" stroke-width="0.6" />
<text x="69.80" y="512.80" font-size="2.8" fill="#555" stroke="#555" stroke-width="0.12" >Enrichment profile</text>
<line x1="90.80" y1="511.60" x2="94.80" y2="511.60" stroke="#888" stroke-width="0.6" />
<text x="95.80" y="512.80" font-size="2.8" fill="#555" stroke="#555" stroke-width="0.12" >Hits</text>
<line x1="106.80" y1="511.60" x2="110.80" y2="511.60" stroke="#bbb" stroke-width="0.6" />
<text x="111.80" y="512.80" font-size="2.8" fill="#555" stroke="#555" stroke-width="0.12" >Ranking metric scores</text>
<rect x="216.60" y="264.60" width="13.15" height="5.91" fill="#aa9ad3" />
<rect x="229.70" y="264.60" width="13.15" height="5.91" fill="#aa9ad3" />
<rect x="242.80" y="264.60" width="13.15" height="5.91" fill="#343aa5" />
<rect x="257.90" y="264.60" width="13.15" height="5.91" fill="#f5b5a1" />
<rect x="271.00" y="264.60" width="13.15" height="5.91" fill="#f4deda" />
<rect x="284.10" y="264.60" width="13.15" height="5.91" fill="#f6beae" />
<rect x="298.50" y="264.60" width="13.15" height="5.91" fill="#f4a288" />
<rect x="311.60" y="264.60" width="13.15" height="5.91" fill="#f6beae" />
<rect x="324.70" y="264.60" width="13.15" height="5.91" fill="#f4a288" />
<rect x="216.60" y="270.46" width="13.15" height="5.91" fill="#d2c6e4" />
<rect x="229.70" y="270.46" width="13.15" height="5.91" fill="#aa9ad3" />
<rect x="242.80" y="270.46" width="13.15" height="5.91" fill="#343aa5" />
<rect x="257.90" y="270.46" width="13.15" height="5.91" fill="#f2ecf0" />
<rect x="271.00" y="270.46" width="13.15" height="5.91" fill="#dfd5e9" />
<rect x="284.10" y="270.46" width="13.15" height="5.91" fill="#f6beae" />
<rect x="298.50" y="270.46" width="13.15" height="5.91" fill="#ee644e" />
<rect x="311.60" y="270.46" width="13.15" height="5.91" fill="#f4987c" />
<rect x="324.70" y="270.46" width="13.15" height="5.91" fill="#f5cfc5" />
<rect x="216.60" y="276.32" width="13.15" height="5.91" fill="#665ab6" />
<rect x="229.70" y="276.32" width="13.15" height="5.91" fill="#665ab6" />
<rect x="242.80" y="276.32" width="13.15" height="5.91" fill="#aa9ad3" />
<rect x="257.90" y="276.32" width="13.15" height="5.91" fill="#f2ecf0" />
<rect x="271.00" y="276.32" width="13.15" height="5.91" fill="#f5ab95" />
<rect x="284.10" y="276.32" width="13.15" height="5.91" fill="#f5ab95" />
<rect x="298.50" y="276.32" width="13.15" height="5.91" fill="#f07960" />
<rect x="311.60" y="276.32" width="13.15" height="5.91" fill="#f4987c" />
<rect x="324.70" y="276.32" width="13.15" height="5.91" fill="#d2c6e4" />
<rect x="216.60" y="282.19" width="13.15" height="5.91" fill="#aa9ad3" />
<rect x="229.70" y="282.19" width="13.15" height="5.91" fill="#aa9ad3" />
<rect x="242.80" y="282.19" width="13.15" height="5.91" fill="#665ab6" />
<rect x="257.90" y="282.19" width="13.15" height="5.91" fill="#f2ecf0" />
<rect x="271.00" y="282.19" width="13.15" height="5.91" fill="#d8cee6" />
<rect x="284.10" y="282.19" width="13.15" height="5.91" fill="#f2ecf0" />
<rect x="298.50" y="282.19" width="13.15" height="5.91" fill="#ee644e" />
<rect x="311.60" y="282.19" width="13.15" height="5.91" fill="#ef6e57" />
<rect x="324.70" y="282.19" width="13.15" height="5.91" fill="#f4987c" />
<rect x="216.60" y="288.05" width="13.15" height="5.91" fill="#9484c9" />
<rect x="229.70" y="288.05" width="13.15" height="5.91" fill="#7362ba" />
<rect x="242.80" y="288.05" width="13.15" height="5.91" fill="#665ab6" />
<rect x="257.90" y="288.05" width="13.15" height="5.91" fill="#f5b5a1" />
<rect x="271.00" y="288.05" width="13.15" height="5.91" fill="#f4987c" />
<rect x="284.10" y="288.05" width="13.15" height="5.91" fill="#f5cfc5" />
<rect x="298.50" y="288.05" width="13.15" height="5.91" fill="#f2836a" />
<rect x="311.60" y="288.05" width="13.15" height="5.91" fill="#f6c8ba" />
<rect x="324.70" y="288.05" width="13.15" height="5.91" fill="#f4deda" />
<rect x="216.60" y="293.91" width="13.15" height="5.91" fill="#665ab6" />
<rect x="229.70" y="293.91" width="13.15" height="5.91" fill="#8978c4" />
<rect x="242.80" y="293.91" width="13.15" height="5.91" fill="#665ab6" />
<rect x="257.90" y="293.91" width="13.15" height="5.91" fill="#f4deda" />
<rect x="271.00" y="293.91" width="13.15" height="5.91" fill="#f5cfc5" />
<rect x="284.10" y="293.91" width="13.15" height="5.91" fill="#f4deda" />
<rect x="298.50" y="293.91" width="13.15" height="5.91" fill="#f07960" />
<rect x="311.60" y="293.91" width="13.15" height="5.91" fill="#f4987c" />
<rect x="324.70" y="293.91" width="13.15" height="5.91" fill="#f5ab95" />
<rect x="216.60" y="299.77" width="13.15" height="5.91" fill="#7e6dbf" />
<rect x="229.70" y="299.77" width="13.15" height="5.91" fill="#dfd5e9" />
<rect x="242.80" y="299.77" width="13.15" height="5.91" fill="#4d4aad" />
<rect x="257.90" y="299.77" width="13.15" height="5.91" fill="#f3e5e5" />
<rect x="271.00" y="299.77" width="13.15" height="5.91" fill="#f4987c" />
<rect x="284.10" y="299.77" width="13.15" height="5.91" fill="#f6c8ba" />
<rect x="298.50" y="299.77" width="13.15" height="5.91" fill="#f07960" />
<rect x="311.60" y="299.77" width="13.15" height="5.91" fill="#f2ecf0" />
<rect x="324.70" y="299.77" width="13.15" height="5.91" fill="#f6beae" />
<rect x="216.60" y="305.64" width="13.15" height="5.91" fill="#aa9ad3" />
<rect x="229.70" y="305.64" width="13.15" height="5.91" fill="#7e6dbf" />
<rect x="242.80" y="305.64" width="13.15" height="5.91" fill="#665ab6" />
<rect x="257.90" y="305.64" width="13.15" height="5.91" fill="#f6c8ba" />
<rect x="271.00" y="305.64" width="13.15" height="5.91" fill="#f4d6d0" />
<rect x="284.10" y="305.64" width="13.15" height="5.91" fill="#dfd5e9" />
<rect x="298.50" y="305.64" width="13.15" height="5.91" fill="#ec5845" />
<rect x="311.60" y="305.64" width="13.15" height="5.91" fill="#f4987c" />
<rect x="324.70" y="305.64" width="13.15" height="5.91" fill="#f4a288" />
<rect x="216.60" y="311.50" width="13.15" height="5.91" fill="#9484c9" />
<rect x="229.70" y="311.50" width="13.15" height="5.91" fill="#665ab6" />
<rect x="242.80" y="311.50" width="13.15" height="5.91" fill="#9484c9" />
<rect x="257.90" y="311.50" width="13.15" height="5.91" fill="#f2ecf0" />
<rect x="271.00" y="311.50" width="13.15" height="5.91" fill="#dfd5e9" />
<rect x="284.10" y="311.50" width="13.15" height="5.91" fill="#f2ecf0" />
<rect x="298.50" y="311.50" width="13.15" height="5.91" fill="#ec5845" />
<rect x="311.60" y="311.50" width="13.15" height="5.91" fill="#f4987c" />
<rect x="324.70" y="311.50" width="13.15" height="5.91" fill="#f5ab95" />
<rect x="216.60" y="317.36" width="13.15" height="5.91" fill="#7362ba" />
<rect x="229.70" y="317.36" width="13.15" height="5.91" fill="#9484c9" />
<rect x="242.80" y="317.36" width="13.15" height="5.91" fill="#cabde1" />
<rect x="257.90" y="317.36" width="13.15" height="5.91" fill="#f4d6d0" />
<rect x="271.00" y="317.36" width="13.15" height="5.91" fill="#baacda" />
<rect x="284.10" y="317.36" width="13.15" height="5.91" fill="#f3e5e5" />
<rect x="298.50" y="317.36" width="13.15" height="5.91" fill="#f2836a" />
<rect x="311.60" y="317.36" width="13.15" height="5.91" fill="#f2836a" />
<rect x="324.70" y="317.36" width="13.15" height="5.91" fill="#f5ab95" />
<rect x="216.60" y="323.22" width="13.15" height="5.91" fill="#aa9ad3" />
<rect x="229.70" y="323.22" width="13.15" height="5.91" fill="#4d4aad" />
<rect x="242.80" y="323.22" width="13.15" height="5.91" fill="#d2c6e4" />
<rect x="257.90" y="323.22" width="13.15" height="5.91" fill="#f2ecf0" />
<rect x="271.00" y="323.22" width="13.15" height="5.91" fill="#cabde1" />
<rect x="284.10" y="323.22" width="13.15" height="5.91" fill="#f2ecf0" />
<rect x="298.50" y="323.22" width="13.15" height="5.91" fill="#f07960" />
<rect x="311.60" y="323.22" width="13.15" height="5.91" fill="#f2836a" />
<rect x="324.70" y="323.22" width="13.15" height="5.91" fill="#f4987c" />
<rect x="216.60" y="329.08" width="13.15" height="5.91" fill="#cabde1" />
<rect x="229.70" y="329.08" width="13.15" height="5.91" fill="#baacda" />
<rect x="242.80" y="329.08" width="13.15" height="5.91" fill="#343aa5" />
<rect x="257.90" y="329.08" width="13.15" height="5.91" fill="#f2ecf0" />
<rect x="271.00" y="329.08" width="13.15" height="5.91" fill="#d8cee6" />
<rect x="284.10" y="329.08" width="13.15" height="5.91" fill="#f4d6d0" />
<rect x="298.50" y="329.08" width="13.15" height="5.91" fill="#f2836a" />
<rect x="311.60" y="329.08" width="13.15" height="5.91" fill="#f4987c" />
<rect x="324.70" y="329.08" width="13.15" height="5.91" fill="#f5ab95" />
<rect x="216.60" y="334.95" width="13.15" height="5.91" fill="#baacda" />
<rect x="229.70" y="334.95" width="13.15" height="5.91" fill="#baacda" />
<rect x="242.80" y="334.95" width="13.15" height="5.91" fill="#7362ba" />
<rect x="257.90" y="334.95" width="13.15" height="5.91" fill="#f4d6d0" />
<rect x="271.00" y="334.95" width="13.15" height="5.91" fill="#dfd5e9" />
<rect x="284.10" y="334.95" width="13.15" height="5.91" fill="#d2c6e4" />
<rect x="298.50" y="334.95" width="13.15" height="5.91" fill="#f2836a" />
<rect x="311.60" y="334.95" width="13.15" height="5.91" fill="#ea4d3c" />
<rect x="324.70" y="334.95" width="13.15" height="5.91" fill="#f5ab95" />
<rect x="216.60" y="340.81" width="13.15" height="5.91" fill="#f4987c" />
<rect x="229.70" y="340.81" width="13.15" height="5.91" fill="#7362ba" />
<rect x="242.80" y="340.81" width="13.15" height="5.91" fill="#665ab6" />
<rect x="257.90" y="340.81" width="13.15" height="5.91" fill="#f2ecf0" />
<rect x="271.00" y="340.81" width="13.15" height="5.91" fill="#d2c6e4" />
<rect x="284.10" y="340.81" width="13.15" height="5.91" fill="#f2836a" />
<rect x="298.50" y="340.81" width="13.15" height="5.91" fill="#e5ddeb" />
<rect x="311.60" y="340.81" width="13.15" height="5.91" fill="#f4987c" />
<rect x="324.70" y="340.81" width="13.15" height="5.91" fill="#f2ecf0" />
<rect x="216.60" y="346.67" width="13.15" height="5.91" fill="#f07960" />
<rect x="229.70" y="346.67" width="13.15" height="5.91" fill="#7362ba" />
<rect x="242.80" y="346.67" width="13.15" height="5.91" fill="#7362ba" />
<rect x="257.90" y="346.67" width="13.15" height="5.91" fill="#e5ddeb" />
<rect x="271.00" y="346.67" width="13.15" height="5.91" fill="#cabde1" />
<rect x="284.10" y="346.67" width="13.15" height="5.91" fill="#f07960" />
<rect x="298.50" y="346.67" width="13.15" height="5.91" fill="#ece4ee" />
<rect x="311.60" y="346.67" width="13.15" height="5.91" fill="#f5ab95" />
<rect x="324.70" y="346.67" width="13.15" height="5.91" fill="#dfd5e9" />
<rect x="216.60" y="352.53" width="13.15" height="5.91" fill="#cabde1" />
<rect x="229.70" y="352.53" width="13.15" height="5.91" fill="#343aa5" />
<rect x="242.80" y="352.53" width="13.15" height="5.91" fill="#665ab6" />
<rect x="257.90" y="352.53" width="13.15" height="5.91" fill="#f5b5a1" />
<rect x="271.00" y="352.53" width="13.15" height="5.91" fill="#f4d6d0" />
<rect x="284.10" y="352.53" width="13.15" height="5.91" fill="#f6c8ba" />
<rect x="298.50" y="352.53" width="13.15" height="5.91" fill="#f4a288" />
<rect x="311.60" y="352.53" width="13.15" height="5.91" fill="#f5ab95" />
<rect x="324.70" y="352.53" width="13.15" height="5.91" fill="#f5ab95" />
<rect x="216.60" y="358.40" width="13.15" height="5.91" fill="#cabde1" />
<rect x="229.70" y="358.40" width="13.15" height="5.91" fill="#4d4aad" />
<rect x="242.80" y="358.40" width="13.15" height="5.91" fill="#baacda" />
<rect x="257.90" y="358.40" width="13.15" height="5.91" fill="#f07960" />
<rect x="271.00" y="358.40" width="13.15" height="5.91" fill="#baacda" />
<rect x="284.10" y="358.40" width="13.15" height="5.91" fill="#f5b5a1" />
<rect x="298.50" y="358.40" width="13.15" height="5.91" fill="#f6c8ba" />
<rect x="311.60" y="358.40" width="13.15" height="5.91" fill="#f4987c" />
<rect x="324.70" y="358.40" width="13.15" height="5.91" fill="#dfd5e9" />
<rect x="216.60" y="364.26" width="13.15" height="5.91" fill="#4d4aad" />
<rect x="229.70" y="364.26" width="13.15" height="5.91" fill="#7e6dbf" />
<rect x="242.80" y="364.26" width="13.15" height="5.91" fill="#baacda" />
<rect x="257.90" y="364.26" width="13.15" height="5.91" fill="#f4d6d0" />
<rect x="271.00" y="364.26" width="13.15" height="5.91" fill="#dfd5e9" />
<rect x="284.10" y="364.26" width="13.15" height="5.91" fill="#dfd5e9" />
<rect x="298.50" y="364.26" width="13.15" height="5.91" fill="#f2836a" />
<rect x="311.60" y="364.26" width="13.15" height="5.91" fill="#f2836a" />
<rect x="324.70" y="364.26" width="13.15" height="5.91" fill="#f5ab95" />
<rect x="216.60" y="370.12" width="13.15" height="5.91" fill="#dfd5e9" />
<rect x="229.70" y="370.12" width="13.15" height="5.91" fill="#7e6dbf" />
<rect x="242.80" y="370.12" width="13.15" height="5.91" fill="#baacda" />
<rect x="257.90" y="370.12" width="13.15" height="5.91" fill="#e5ddeb" />
<rect x="271.00" y="370.12" width="13.15" height="5.91" fill="#baacda" />
<rect x="284.10" y="370.12" width="13.15" height="5.91" fill="#dfd5e9" />
<rect x="298.50" y="370.12" width="13.15" height="5.91" fill="#e84132" />
<rect x="311.60" y="370.12" width="13.15" height="5.91" fill="#ee644e" />
<rect x="324.70" y="370.12" width="13.15" height="5.91" fill="#ece4ee" />
<rect x="216.60" y="375.98" width="13.15" height="5.91" fill="#baacda" />
<rect x="229.70" y="375.98" width="13.15" height="5.91" fill="#4d4aad" />
<rect x="242.80" y="375.98" width="13.15" height="5.91" fill="#9484c9" />
<rect x="257.90" y="375.98" width="13.15" height="5.91" fill="#f6beae" />
<rect x="271.00" y="375.98" width="13.15" height="5.91" fill="#e5ddeb" />
<rect x="284.10" y="375.98" width="13.15" height="5.91" fill="#f5cfc5" />
<rect x="298.50" y="375.98" width="13.15" height="5.91" fill="#f2836a" />
<rect x="311.60" y="375.98" width="13.15" height="5.91" fill="#f38e73" />
<rect x="324.70" y="375.98" width="13.15" height="5.91" fill="#f4987c" />
<rect x="216.60" y="381.84" width="13.15" height="5.91" fill="#9484c9" />
<rect x="229.70" y="381.84" width="13.15" height="5.91" fill="#9484c9" />
<rect x="242.80" y="381.84" width="13.15" height="5.91" fill="#aa9ad3" />
<rect x="257.90" y="381.84" width="13.15" height="5.91" fill="#f2ecf0" />
<rect x="271.00" y="381.84" width="13.15" height="5.91" fill="#e5ddeb" />
<rect x="284.10" y="381.84" width="13.15" height="5.91" fill="#f2ecf0" />
<rect x="298.50" y="381.84" width="13.15" height="5.91" fill="#ee644e" />
<rect x="311.60" y="381.84" width="13.15" height="5.91" fill="#ee644e" />
<rect x="324.70" y="381.84" width="13.15" height="5.91" fill="#f5cfc5" />
<rect x="216.60" y="387.71" width="13.15" height="5.91" fill="#7362ba" />
<rect x="229.70" y="387.71" width="13.15" height="5.91" fill="#aa9ad3" />
<rect x="242.80" y="387.71" width="13.15" height="5.91" fill="#7362ba" />
<rect x="257.90" y="387.71" width="13.15" height="5.91" fill="#f5cfc5" />
<rect x="271.00" y="387.71" width="13.15" height="5.91" fill="#dfd5e9" />
<rect x="284.10" y="387.71" width="13.15" height="5.91" fill="#f5cfc5" />
<rect x="298.50" y="387.71" width="13.15" height="5.91" fill="#f2836a" />
<rect x="311.60" y="387.71" width="13.15" height="5.91" fill="#f4987c" />
<rect x="324.70" y="387.71" width="13.15" height="5.91" fill="#f4987c" />
<rect x="216.60" y="393.57" width="13.15" height="5.91" fill="#7362ba" />
<rect x="229.70" y="393.57" width="13.15" height="5.91" fill="#9484c9" />
<rect x="242.80" y="393.57" width="13.15" height="5.91" fill="#9484c9" />
<rect x="257.90" y="393.57" width="13.15" height="5.91" fill="#f6beae" />
<rect x="271.00" y="393.57" width="13.15" height="5.91" fill="#f4d6d0" />
<rect x="284.10" y="393.57" width="13.15" height="5.91" fill="#f5cfc5" />
<rect x="298.50" y="393.57" width="13.15" height="5.91" fill="#f5ab95" />
<rect x="311.60" y="393.57" width="13.15" height="5.91" fill="#f6c8ba" />
<rect x="324.70" y="393.57" width="13.15" height="5.91" fill="#f4987c" />
<rect x="216.60" y="399.43" width="13.15" height="5.91" fill="#7362ba" />
<rect x="229.70" y="399.43" width="13.15" height="5.91" fill="#9484c9" />
<rect x="242.80" y="399.43" width="13.15" height="5.91" fill="#9484c9" />
<rect x="257.90" y="399.43" width="13.15" height="5.91" fill="#cabde1" />
<rect x="271.00" y="399.43" width="13.15" height="5.91" fill="#ee644e" />
<rect x="284.10" y="399.43" width="13.15" height="5.91" fill="#dfd5e9" />
<rect x="298.50" y="399.43" width="13.15" height="5.91" fill="#f4987c" />
<rect x="311.60" y="399.43" width="13.15" height="5.91" fill="#f6beae" />
<rect x="324.70" y="399.43" width="13.15" height="5.91" fill="#f5cfc5" />
<rect x="216.60" y="405.29" width="13.15" height="5.91" fill="#7362ba" />
<rect x="229.70" y="405.29" width="13.15" height="5.91" fill="#7362ba" />
<rect x="242.80" y="405.29" width="13.15" height="5.91" fill="#9484c9" />
<rect x="257.90" y="405.29" width="13.15" height="5.91" fill="#f4deda" />
<rect x="271.00" y="405.29" width="13.15" height="5.91" fill="#f4987c" />
<rect x="284.10" y="405.29" width="13.15" height="5.91" fill="#f2ecf0" />
<rect x="298.50" y="405.29" width="13.15" height="5.91" fill="#f4987c" />
<rect x="311.60" y="405.29" width="13.15" height="5.91" fill="#f5cfc5" />
<rect x="324.70" y="405.29" width="13.15" height="5.91" fill="#f2ecf0" />
<rect x="216.60" y="411.16" width="13.15" height="5.91" fill="#aa9ad3" />
<rect x="229.70" y="411.16" width="13.15" height="5.91" fill="#d8cee6" />
<rect x="242.80" y="411.16" width="13.15" height="5.91" fill="#4d4aad" />
<rect x="257.90" y="411.16" width="13.15" height="5.91" fill="#f4deda" />
<rect x="271.00" y="411.16" width="13.15" height="5.91" fill="#e5ddeb" />
<rect x="284.10" y="411.16" width="13.15" height="5.91" fill="#e5ddeb" />
<rect x="298.50" y="411.16" width="13.15" height="5.91" fill="#e84132" />
<rect x="311.60" y="411.16" width="13.15" height="5.91" fill="#f4987c" />
<rect x="324.70" y="411.16" width="13.15" height="5.91" fill="#f2ecf0" />
<rect x="216.60" y="417.02" width="13.15" height="5.91" fill="#aa9ad3" />
<rect x="229.70" y="417.02" width="13.15" height="5.91" fill="#aa9ad3" />
<rect x="242.80" y="417.02" width="13.15" height="5.91" fill="#e5ddeb" />
<rect x="257.90" y="417.02" width="13.15" height="5.91" fill="#e5ddeb" />
<rect x="271.00" y="417.02" width="13.15" height="5.91" fill="#f5cfc5" />
<rect x="284.10" y="417.02" width="13.15" height="5.91" fill="#f3e5e5" />
<rect x="298.50" y="417.02" width="13.15" height="5.91" fill="#f07960" />
<rect x="311.60" y="417.02" width="13.15" height="5.91" fill="#f4987c" />
<rect x="324.70" y="417.02" width="13.15" height="5.91" fill="#ece4ee" />
<rect x="216.60" y="422.88" width="13.15" height="5.91" fill="#7362ba" />
<rect x="229.70" y="422.88" width="13.15" height="5.91" fill="#665ab6" />
<rect x="242.80" y="422.88" width="13.15" height="5.91" fill="#dfd5e9" />
<rect x="257.90" y="422.88" width="13.15" height="5.91" fill="#f6beae" />
<rect x="271.00" y="422.88" width="13.15" height="5.91" fill="#f4d6d0" />
<rect x="284.10" y="422.88" width="13.15" height="5.91" fill="#d2c6e4" />
<rect x="298.50" y="422.88" width="13.15" height="5.91" fill="#f38e73" />
<rect x="311.60" y="422.88" width="13.15" height="5.91" fill="#f38e73" />
<rect x="324.70" y="422.88" width="13.15" height="5.91" fill="#f4987c" />
<rect x="216.60" y="428.74" width="13.15" height="5.91" fill="#7362ba" />
<rect x="229.70" y="428.74" width="13.15" height="5.91" fill="#7362ba" />
<rect x="242.80" y="428.74" width="13.15" height="5.91" fill="#9484c9" />
<rect x="257.90" y="428.74" width="13.15" height="5.91" fill="#f6beae" />
<rect x="271.00" y="428.74" width="13.15" height="5.91" fill="#f4d6d0" />
<rect x="284.10" y="428.74" width="13.15" height="5.91" fill="#ece4ee" />
<rect x="298.50" y="428.74" width="13.15" height="5.91" fill="#f38e73" />
<rect x="311.60" y="428.74" width="13.15" height="5.91" fill="#f4987c" />
<rect x="324.70" y="428.74" width="13.15" height="5.91" fill="#f4a288" />
<rect x="216.60" y="434.60" width="13.15" height="5.91" fill="#f4d6d0" />
<rect x="229.70" y="434.60" width="13.15" height="5.91" fill="#343aa5" />
<rect x="242.80" y="434.60" width="13.15" height="5.91" fill="#cabde1" />
<rect x="257.90" y="434.60" width="13.15" height="5.91" fill="#f6c8ba" />
<rect x="271.00" y="434.60" width="13.15" height="5.91" fill="#f4deda" />
<rect x="284.10" y="434.60" width="13.15" height="5.91" fill="#d2c6e4" />
<rect x="298.50" y="434.60" width="13.15" height="5.91" fill="#f38e73" />
<rect x="311.60" y="434.60" width="13.15" height="5.91" fill="#f4a288" />
<rect x="324.70" y="434.60" width="13.15" height="5.91" fill="#f5cfc5" />
<rect x="216.60" y="440.47" width="13.15" height="5.91" fill="#665ab6" />
<rect x="229.70" y="440.47" width="13.15" height="5.91" fill="#baacda" />
<rect x="242.80" y="440.47" width="13.15" height="5.91" fill="#7362ba" />
<rect x="257.90" y="440.47" width="13.15" height="5.91" fill="#f6beae" />
<rect x="271.00" y="440.47" width="13.15" height="5.91" fill="#f5cfc5" />
<rect x="284.10" y="440.47" width="13.15" height="5.91" fill="#d2c6e4" />
<rect x="298.50" y="440.47" width="13.15" height="5.91" fill="#f38e73" />
<rect x="311.60" y="440.47" width="13.15" height="5.91" fill="#f4a288" />
<rect x="324.70" y="440.47" width="13.15" height="5.91" fill="#f4987c" />
<rect x="216.60" y="446.33" width="13.15" height="5.91" fill="#665ab6" />
<rect x="229.70" y="446.33" width="13.15" height="5.91" fill="#e5ddeb" />
<rect x="242.80" y="446.33" width="13.15" height="5.91" fill="#4d4aad" />
<rect x="257.90" y="446.33" width="13.15" height="5.91" fill="#f5cfc5" />
<rect x="271.00" y="446.33" width="13.15" height="5.91" fill="#f5cfc5" />
<rect x="284.10" y="446.33" width="13.15" height="5.91" fill="#e5ddeb" />
<rect x="298.50" y="446.33" width="13.15" height="5.91" fill="#f2836a" />
<rect x="311.60" y="446.33" width="13.15" height="5.91" fill="#f5ab95" />
<rect x="324.70" y="446.33" width="13.15" height="5.91" fill="#f4a288" />
<rect x="216.60" y="452.19" width="13.15" height="5.91" fill="#665ab6" />
<rect x="229.70" y="452.19" width="13.15" height="5.91" fill="#baacda" />
<rect x="242.80" y="452.19" width="13.15" height="5.91" fill="#baacda" />
<rect x="257.90" y="452.19" width="13.15" height="5.91" fill="#f5ab95" />
<rect x="271.00" y="452.19" width="13.15" height="5.91" fill="#f5ab95" />
<rect x="284.10" y="452.19" width="13.15" height="5.91" fill="#9484c9" />
<rect x="298.50" y="452.19" width="13.15" height="5.91" fill="#f2836a" />
<rect x="311.60" y="452.19" width="13.15" height="5.91" fill="#f4a288" />
<rect x="324.70" y="452.19" width="13.15" height="5.91" fill="#f4a288" />
<rect x="216.60" y="458.05" width="13.15" height="5.91" fill="#9484c9" />
<rect x="229.70" y="458.05" width="13.15" height="5.91" fill="#9484c9" />
<rect x="242.80" y="458.05" width="13.15" height="5.91" fill="#baacda" />
<rect x="257.90" y="458.05" width="13.15" height="5.91" fill="#f2ecf0" />
<rect x="271.00" y="458.05" width="13.15" height="5.91" fill="#cabde1" />
<rect x="284.10" y="458.05" width="13.15" height="5.91" fill="#d8cee6" />
<rect x="298.50" y="458.05" width="13.15" height="5.91" fill="#f07960" />
<rect x="311.60" y="458.05" width="13.15" height="5.91" fill="#f07960" />
<rect x="324.70" y="458.05" width="13.15" height="5.91" fill="#ee644e" />
<rect x="216.60" y="463.92" width="13.15" height="5.91" fill="#4d4aad" />
<rect x="229.70" y="463.92" width="13.15" height="5.91" fill="#baacda" />
<rect x="242.80" y="463.92" width="13.15" height="5.91" fill="#ece4ee" />
<rect x="257.90" y="463.92" width="13.15" height="5.91" fill="#f2ecf0" />
<rect x="271.00" y="463.92" width="13.15" height="5.91" fill="#c2b4dd" />
<rect x="284.10" y="463.92" width="13.15" height="5.91" fill="#d2c6e4" />
<rect x="298.50" y="463.92" width="13.15" height="5.91" fill="#ec5845" />
<rect x="311.60" y="463.92" width="13.15" height="5.91" fill="#f2836a" />
<rect x="324.70" y="463.92" width="13.15" height="5.91" fill="#f6beae" />
<rect x="216.60" y="469.78" width="13.15" height="5.91" fill="#baacda" />
<rect x="229.70" y="469.78" width="13.15" height="5.91" fill="#343aa5" />
<rect x="242.80" y="469.78" width="13.15" height="5.91" fill="#f4d6d0" />
<rect x="257.90" y="469.78" width="13.15" height="5.91" fill="#dfd5e9" />
<rect x="271.00" y="469.78" width="13.15" height="5.91" fill="#f4d6d0" />
<rect x="284.10" y="469.78" width="13.15" height="5.91" fill="#f6beae" />
<rect x="298.50" y="469.78" width="13.15" height="5.91" fill="#ef6e57" />
<rect x="311.60" y="469.78" width="13.15" height="5.91" fill="#f5b5a1" />
<rect x="324.70" y="469.78" width="13.15" height="5.91" fill="#ece4ee" />
<rect x="216.60" y="475.64" width="13.15" height="5.91" fill="#cabde1" />
<rect x="229.70" y="475.64" width="13.15" height="5.91" fill="#cabde1" />
<rect x="242.80" y="475.64" width="13.15" height="5.91" fill="#343aa5" />
<rect x="257.90" y="475.64" width="13.15" height="5.91" fill="#f6beae" />
<rect x="271.00" y="475.64" width="13.15" height="5.91" fill="#f5cfc5" />
<rect x="284.10" y="475.64" width="13.15" height="5.91" fill="#dfd5e9" />
<rect x="298.50" y="475.64" width="13.15" height="5.91" fill="#f4a288" />
<rect x="311.60" y="475.64" width="13.15" height="5.91" fill="#f2836a" />
<rect x="324.70" y="475.64" width="13.15" height="5.91" fill="#f6beae" />
<rect x="216.60" y="481.50" width="13.15" height="5.91" fill="#f3e5e5" />
<rect x="229.70" y="481.50" width="13.15" height="5.91" fill="#ece4ee" />
<rect x="242.80" y="481.50" width="13.15" height="5.91" fill="#343aa5" />
<rect x="257.90" y="481.50" width="13.15" height="5.91" fill="#f4d6d0" />
<rect x="271.00" y="481.50" width="13.15" height="5.91" fill="#f6c8ba" />
<rect x="284.10" y="481.50" width="13.15" height="5.91" fill="#f3e5e5" />
<rect x="298.50" y="481.50" width="13.15" height="5.91" fill="#f4987c" />
<rect x="311.60" y="481.50" width="13.15" height="5.91" fill="#d2c6e4" />
<rect x="324.70" y="481.50" width="13.15" height="5.91" fill="#f6beae" />
<rect x="216.60" y="487.36" width="13.15" height="5.91" fill="#baacda" />
<rect x="229.70" y="487.36" width="13.15" height="5.91" fill="#ece4ee" />
<rect x="242.80" y="487.36" width="13.15" height="5.91" fill="#7362ba" />
<rect x="257.90" y="487.36" width="13.15" height="5.91" fill="#ece4ee" />
<rect x="271.00" y="487.36" width="13.15" height="5.91" fill="#baacda" />
<rect x="284.10" y="487.36" width="13.15" height="5.91" fill="#aa9ad3" />
<rect x="298.50" y="487.36" width="13.15" height="5.91" fill="#f07960" />
<rect x="311.60" y="487.36" width="13.15" height="5.91" fill="#f07960" />
<rect x="324.70" y="487.36" width="13.15" height="5.91" fill="#f5b5a1" />
<rect x="216.60" y="493.23" width="13.15" height="5.91" fill="#cabde1" />
<rect x="229.70" y="493.23" width="13.15" height="5.91" fill="#ece4ee" />
<rect x="242.80" y="493.23" width="13.15" height="5.91" fill="#f4a288" />
<rect x="257.90" y="493.23" width="13.15" height="5.91" fill="#ee644e" />
<rect x="271.00" y="493.23" width="13.15" height="5.91" fill="#aa9ad3" />
<rect x="284.10" y="493.23" width="13.15" height="5.91" fill="#343aa5" />
<rect x="298.50" y="493.23" width="13.15" height="5.91" fill="#f4deda" />
<rect x="311.60" y="493.23" width="13.15" height="5.91" fill="#f4deda" />
<rect x="324.70" y="493.23" width="13.15" height="5.91" fill="#f5ab95" />
<rect x="216.60" y="499.09" width="13.15" height="5.91" fill="#aa9ad3" />
<rect x="229.70" y="499.09" width="13.15" height="5.91" fill="#665ab6" />
<rect x="242.80" y="499.09" width="13.15" height="5.91" fill="#ee644e" />
<rect x="257.90" y="499.09" width="13.15" height="5.91" fill="#baacda" />
<rect x="271.00" y="499.09" width="13.15" height="5.91" fill="#f4a288" />
<rect x="284.10" y="499.09" width="13.15" height="5.91" fill="#f4deda" />
<rect x="298.50" y="499.09" width="13.15" height="5.91" fill="#f4a288" />
<rect x="311.60" y="499.09" width="13.15" height="5.91" fill="#cabde1" />
<rect x="324.70" y="499.09" width="13.15" height="5.91" fill="#ece4ee" />
<rect x="216.60" y="504.95" width="13.15" height="5.91" fill="#baacda" />
<rect x="229.70" y="504.95" width="13.15" height="5.91" fill="#9484c9" />
<rect x="242.80" y="504.95" width="13.15" height="5.91" fill="#7e6dbf" />
<rect x="257.90" y="504.95" width="13.15" height="5.91" fill="#cabde1" />
<rect x="271.00" y="504.95" width="13.15" height="5.91" fill="#dfd5e9" />
<rect x="284.10" y="504.95" width="13.15" height="5.91" fill="#ece4ee" />
<rect x="298.50" y="504.95" width="13.15" height="5.91" fill="#ee644e" />
<rect x="311.60" y="504.95" width="13.15" height="5.91" fill="#f2836a" />
<rect x="324.70" y="504.95" width="13.15" height="5.91" fill="#f4987c" />
<rect x="216.60" y="510.81" width="13.15" height="5.91" fill="#baacda" />
<rect x="229.70" y="510.81" width="13.15" height="5.91" fill="#343aa5" />
<rect x="242.80" y="510.81" width="13.15" height="5.91" fill="#f6beae" />
<rect x="257.90" y="510.81" width="13.15" height="5.91" fill="#cabde1" />
<rect x="271.00" y="510.81" width="13.15" height="5.91" fill="#f4a288" />
<rect x="284.10" y="510.81" width="13.15" height="5.91" fill="#f6c8ba" />
<rect x="298.50" y="510.81" width="13.15" height="5.91" fill="#f6beae" />
<rect x="311.60" y="510.81" width="13.15" height="5.91" fill="#f4d6d0" />
<rect x="324.70" y="510.81" width="13.15" height="5.91" fill="#f4a288" />
<rect x="216.60" y="516.68" width="13.15" height="5.91" fill="#aa9ad3" />
<rect x="229.70" y="516.68" width="13.15" height="5.91" fill="#cabde1" />
<rect x="242.80" y="516.68" width="13.15" height="5.91" fill="#9484c9" />
<rect x="257.90" y="516.68" width="13.15" height="5.91" fill="#c2b4dd" />
<rect x="271.00" y="516.68" width="13.15" height="5.91" fill="#ece4ee" />
<rect x="284.10" y="516.68" width="13.15" height="5.91" fill="#f4d6d0" />
<rect x="298.50" y="516.68" width="13.15" height="5.91" fill="#e42a20" />
<rect x="311.60" y="516.68" width="13.15" height="5.91" fill="#f4a288" />
<rect x="324.70" y="516.68" width="13.15" height="5.91" fill="#d8cee6" />
<rect x="216.60" y="522.54" width="13.15" height="5.91" fill="#aa9ad3" />
<rect x="229.70" y="522.54" width="13.15" height="5.91" fill="#aa9ad3" />
<rect x="242.80" y="522.54" width="13.15" height="5.91" fill="#baacda" />
<rect x="257.90" y="522.54" width="13.15" height="5.91" fill="#aa9ad3" />
<rect x="271.00" y="522.54" width="13.15" height="5.91" fill="#f4deda" />
<rect x="284.10" y="522.54" width="13.15" height="5.91" fill="#f5cfc5" />
<rect x="298.50" y="522.54" width="13.15" height="5.91" fill="#ef6e57" />
<rect x="311.60" y="522.54" width="13.15" height="5.91" fill="#f5cfc5" />
<rect x="324.70" y="522.54" width="13.15" height="5.91" fill="#f2ecf0" />
<path d="M216.90 262.90V260.90H255.60V262.90" fill="none" stroke="#231f20" stroke-width="1.0"/>
<path d="M258.20 262.90V260.90H296.90V262.90" fill="none" stroke="#231f20" stroke-width="1.0"/>
<path d="M298.80 262.90V260.90H337.50V262.90" fill="none" stroke="#231f20" stroke-width="1.0"/>
<text x="340.00" y="269.63" font-size="6.1" font-style="italic" fill="#231f20" textLength="8.85" lengthAdjust="spacingAndGlyphs" >Il1a</text>
<text x="340.00" y="275.49" font-size="6.1" font-style="italic" fill="#231f20" textLength="8.85" lengthAdjust="spacingAndGlyphs" >Il1b</text>
<text x="340.00" y="281.36" font-size="6.1" font-style="italic" fill="#231f20" textLength="11.90" lengthAdjust="spacingAndGlyphs" >Il1rl1</text>
<text x="340.00" y="287.22" font-size="6.1" font-style="italic" fill="#231f20" textLength="10.68" lengthAdjust="spacingAndGlyphs" >Il1r2</text>
<text x="340.00" y="293.08" font-size="6.1" font-style="italic" fill="#231f20" textLength="10.68" lengthAdjust="spacingAndGlyphs" >Il2rb</text>
<text x="340.00" y="298.94" font-size="6.1" font-style="italic" fill="#231f20" textLength="7.63" lengthAdjust="spacingAndGlyphs" >Il7r</text>
<text x="340.00" y="304.80" font-size="6.1" font-style="italic" fill="#231f20" textLength="13.73" lengthAdjust="spacingAndGlyphs" >Il18r1</text>
<text x="340.00" y="310.67" font-size="6.1" font-style="italic" fill="#231f20" textLength="13.73" lengthAdjust="spacingAndGlyphs" >Il20rb</text>
<text x="340.00" y="316.53" font-size="6.1" font-style="italic" fill="#231f20" textLength="14.95" lengthAdjust="spacingAndGlyphs" >C3ar1</text>
<text x="340.00" y="322.39" font-size="6.1" font-style="italic" fill="#231f20" textLength="18.93" lengthAdjust="spacingAndGlyphs" >S100a8</text>
<text x="340.00" y="328.25" font-size="6.1" font-style="italic" fill="#231f20" textLength="18.93" lengthAdjust="spacingAndGlyphs" >S100a9</text>
<text x="340.00" y="334.12" font-size="6.1" font-style="italic" fill="#231f20" textLength="15.26" lengthAdjust="spacingAndGlyphs" >Tnfsf9</text>
<text x="340.00" y="339.98" font-size="6.1" font-style="italic" fill="#231f20" textLength="11.29" lengthAdjust="spacingAndGlyphs" >Csf1</text>
<text x="340.00" y="345.84" font-size="6.1" font-style="italic" fill="#231f20" textLength="13.73" lengthAdjust="spacingAndGlyphs" >Cxcl1</text>
<text x="340.00" y="351.70" font-size="6.1" font-style="italic" fill="#231f20" textLength="13.73" lengthAdjust="spacingAndGlyphs" >Cxcl2</text>
<text x="340.00" y="357.56" font-size="6.1" font-style="italic" fill="#231f20" textLength="13.73" lengthAdjust="spacingAndGlyphs" >Cxcl3</text>
<text x="340.00" y="363.43" font-size="6.1" font-style="italic" fill="#231f20" textLength="16.78" lengthAdjust="spacingAndGlyphs" >Cxcl10</text>
<text x="340.00" y="369.29" font-size="6.1" font-style="italic" fill="#231f20" textLength="16.78" lengthAdjust="spacingAndGlyphs" >Cxcl16</text>
<text x="340.00" y="375.15" font-size="6.1" font-style="italic" fill="#231f20" textLength="10.98" lengthAdjust="spacingAndGlyphs" >Ccl2</text>
<text x="340.00" y="381.01" font-size="6.1" font-style="italic" fill="#231f20" textLength="10.98" lengthAdjust="spacingAndGlyphs" >Ccl3</text>
<text x="340.00" y="386.88" font-size="6.1" font-style="italic" fill="#231f20" textLength="10.98" lengthAdjust="spacingAndGlyphs" >Ccl4</text>
<text x="340.00" y="392.74" font-size="6.1" font-style="italic" fill="#231f20" textLength="10.98" lengthAdjust="spacingAndGlyphs" >Ccl9</text>
<text x="340.00" y="398.60" font-size="6.1" font-style="italic" fill="#231f20" textLength="14.34" lengthAdjust="spacingAndGlyphs" >Cxcr1</text>
<text x="340.00" y="404.46" font-size="6.1" font-style="italic" fill="#231f20" textLength="14.34" lengthAdjust="spacingAndGlyphs" >Cxcr3</text>
<text x="340.00" y="410.32" font-size="6.1" font-style="italic" fill="#231f20" textLength="14.34" lengthAdjust="spacingAndGlyphs" >Cxcr6</text>
<text x="340.00" y="416.19" font-size="6.1" font-style="italic" fill="#231f20" textLength="14.34" lengthAdjust="spacingAndGlyphs" >Cxcr2</text>
<text x="340.00" y="422.05" font-size="6.1" font-style="italic" fill="#231f20" textLength="10.37" lengthAdjust="spacingAndGlyphs" >Mx1</text>
<text x="340.00" y="427.91" font-size="6.1" font-style="italic" fill="#231f20" textLength="13.12" lengthAdjust="spacingAndGlyphs" >Oas2</text>
<text x="340.00" y="433.77" font-size="6.1" font-style="italic" fill="#231f20" textLength="13.12" lengthAdjust="spacingAndGlyphs" >Oas3</text>
<text x="340.00" y="439.64" font-size="6.1" font-style="italic" fill="#231f20" textLength="14.34" lengthAdjust="spacingAndGlyphs" >Oasl1</text>
<text x="340.00" y="445.50" font-size="6.1" font-style="italic" fill="#231f20" textLength="14.34" lengthAdjust="spacingAndGlyphs" >Oasl2</text>
<text x="340.00" y="451.36" font-size="6.1" font-style="italic" fill="#231f20" textLength="8.85" lengthAdjust="spacingAndGlyphs" >Ifit1</text>
<text x="340.00" y="457.22" font-size="6.1" font-style="italic" fill="#231f20" textLength="8.85" lengthAdjust="spacingAndGlyphs" >Ifit3</text>
<text x="340.00" y="463.08" font-size="6.1" font-style="italic" fill="#231f20" textLength="13.42" lengthAdjust="spacingAndGlyphs" >Ifitm1</text>
<text x="340.00" y="468.95" font-size="6.1" font-style="italic" fill="#231f20" textLength="13.42" lengthAdjust="spacingAndGlyphs" >Ifitm3</text>
<text x="340.00" y="474.81" font-size="6.1" font-style="italic" fill="#231f20" textLength="7.93" lengthAdjust="spacingAndGlyphs" >Irf4</text>
<text x="340.00" y="480.67" font-size="6.1" font-style="italic" fill="#231f20" textLength="7.93" lengthAdjust="spacingAndGlyphs" >Irf7</text>
<text x="340.00" y="486.53" font-size="6.1" font-style="italic" fill="#231f20" textLength="7.93" lengthAdjust="spacingAndGlyphs" >Irf9</text>
<text x="340.00" y="492.40" font-size="6.1" font-style="italic" fill="#231f20" textLength="13.43" lengthAdjust="spacingAndGlyphs" >Isg15</text>
<text x="340.00" y="498.26" font-size="6.1" font-style="italic" fill="#231f20" textLength="13.43" lengthAdjust="spacingAndGlyphs" >Isg20</text>
<text x="340.00" y="504.12" font-size="6.1" font-style="italic" fill="#231f20" textLength="12.82" lengthAdjust="spacingAndGlyphs" >Stat1</text>
<text x="340.00" y="509.98" font-size="6.1" font-style="italic" fill="#231f20" textLength="13.73" lengthAdjust="spacingAndGlyphs" >Itgam</text>
<text x="340.00" y="515.84" font-size="6.1" font-style="italic" fill="#231f20" textLength="10.38" lengthAdjust="spacingAndGlyphs" >Itgal</text>
<text x="340.00" y="521.71" font-size="6.1" font-style="italic" fill="#231f20" textLength="11.60" lengthAdjust="spacingAndGlyphs" >Arg1</text>
<text x="340.00" y="527.57" font-size="6.1" font-style="italic" fill="#231f20" textLength="15.87" lengthAdjust="spacingAndGlyphs" >Retnla</text>
<path d="M356.70 265.20H361.20V340.00H356.70" fill="none" stroke="#231f20" stroke-width="1.1"/>
<path d="M356.70 341.20H361.20V416.90H356.70" fill="none" stroke="#231f20" stroke-width="1.1"/>
<path d="M356.70 419.30H361.20V502.30H356.70" fill="none" stroke="#231f20" stroke-width="1.1"/>
<text x="370.00" y="302.60" font-size="8.4" text-anchor="middle" fill="#231f20" stroke="#231f20" stroke-width="0.12" textLength="67.60" lengthAdjust="spacingAndGlyphs" transform="rotate(-90 370.00 302.60)" >Inflammatory response</text>
<text x="370.00" y="379.20" font-size="8.4" text-anchor="middle" fill="#231f20" stroke="#231f20" stroke-width="0.12" textLength="78.40" lengthAdjust="spacingAndGlyphs" transform="rotate(-90 370.00 379.20)" >Chemokines and receptors</text>
<text x="370.00" y="461.40" font-size="8.4" text-anchor="middle" fill="#231f20" stroke="#231f20" stroke-width="0.12" textLength="56.80" lengthAdjust="spacingAndGlyphs" transform="rotate(-90 370.00 461.40)" >Interferon response</text>
<g transform="translate(241.00 242.40) rotate(-45)">
<text x="0.00" y="-4.15" font-size="8.4" text-anchor="middle" dominant-baseline="central" fill="#231f20" stroke="#231f20" stroke-width="0.12" textLength="33.58" lengthAdjust="spacingAndGlyphs">WT 12wks</text>
<text x="0.00" y="4.15" font-size="8.4" text-anchor="middle" dominant-baseline="central" fill="#231f20" stroke="#231f20" stroke-width="0.12" textLength="28.92" lengthAdjust="spacingAndGlyphs">CD11b<tspan baseline-shift="3.2" font-size="5.4">low</tspan></text>
</g>
<g transform="translate(283.00 242.60) rotate(-45)">
<text x="0.00" y="-4.15" font-size="8.4" text-anchor="middle" dominant-baseline="central" fill="#231f20" stroke="#231f20" stroke-width="0.12" textLength="46.06" lengthAdjust="spacingAndGlyphs">Cybb<tspan baseline-shift="3.2" font-size="5.4">KO</tspan> 12wks</text>
<text x="0.00" y="4.15" font-size="8.4" text-anchor="middle" dominant-baseline="central" fill="#231f20" stroke="#231f20" stroke-width="0.12" textLength="28.92" lengthAdjust="spacingAndGlyphs">CD11b<tspan baseline-shift="3.2" font-size="5.4">low</tspan></text>
</g>
<g transform="translate(324.20 243.00) rotate(-45)">
<text x="0.00" y="-4.15" font-size="8.4" text-anchor="middle" dominant-baseline="central" fill="#231f20" stroke="#231f20" stroke-width="0.12" textLength="46.06" lengthAdjust="spacingAndGlyphs">Cybb<tspan baseline-shift="3.2" font-size="5.4">KO</tspan> 12wks</text>
<text x="0.00" y="4.15" font-size="8.4" text-anchor="middle" dominant-baseline="central" fill="#231f20" stroke="#231f20" stroke-width="0.12" textLength="30.73" lengthAdjust="spacingAndGlyphs">CD11b<tspan baseline-shift="3.2" font-size="5.4">high</tspan></text>
</g>
<rect x="215.80" y="530.20" width="43.00" height="1.80" fill="url(#cbE)" />
<text x="217.10" y="539.60" font-size="5.6" text-anchor="middle" fill="#333" stroke="#333" stroke-width="0.12" >+2</text>
<text x="227.90" y="539.60" font-size="5.6" text-anchor="middle" fill="#333" stroke="#333" stroke-width="0.12" >+1</text>
<text x="236.80" y="539.60" font-size="5.6" text-anchor="middle" fill="#333" stroke="#333" stroke-width="0.12" >0</text>
<text x="246.70" y="539.60" font-size="5.6" text-anchor="middle" fill="#333" stroke="#333" stroke-width="0.12" >−1</text>
<text x="256.70" y="539.60" font-size="5.6" text-anchor="middle" fill="#333" stroke="#333" stroke-width="0.12" >−2</text>
<text x="479.00" y="227.20" font-size="8.8" text-anchor="middle" font-style="italic" fill="#231f20" stroke="#231f20" stroke-width="0.12" textLength="15.76" lengthAdjust="spacingAndGlyphs" >IL1a</text>
<rect x="462.70" y="284.94" width="8.40" height="5.46" fill="#f3b6c3" />
<rect x="474.90" y="288.58" width="8.40" height="1.82" fill="#7d9fce" />
<rect x="487.50" y="283.64" width="8.40" height="6.76" fill="#f3b6c3" />
<rect x="499.70" y="271.94" width="8.40" height="18.46" fill="#dc4c6a" />
<line x1="491.70" y1="282.08" x2="491.70" y2="285.20" stroke="#111" stroke-width="0.8" />
<line x1="490.10" y1="282.08" x2="493.30" y2="282.08" stroke="#111" stroke-width="0.8" />
<line x1="490.10" y1="285.20" x2="493.30" y2="285.20" stroke="#111" stroke-width="0.8" />
<line x1="503.90" y1="267.52" x2="503.90" y2="276.36" stroke="#111" stroke-width="0.8" />
<line x1="502.30" y1="267.52" x2="505.50" y2="267.52" stroke="#111" stroke-width="0.8" />
<line x1="502.30" y1="276.36" x2="505.50" y2="276.36" stroke="#111" stroke-width="0.8" />
<circle cx="450.90" cy="287.54" r="1.5" fill="#ffffff" stroke="#2a66a8" stroke-width="0.95"/>
<circle cx="454.70" cy="287.28" r="1.5" fill="#ffffff" stroke="#2a66a8" stroke-width="0.95"/>
<circle cx="458.50" cy="287.54" r="1.5" fill="#ffffff" stroke="#2a66a8" stroke-width="0.95"/>
<circle cx="464.10" cy="284.94" r="1.5" fill="none" stroke="#d42e4e" stroke-width="0.95"/>
<circle cx="466.90" cy="283.90" r="1.5" fill="none" stroke="#d42e4e" stroke-width="0.95"/>
<circle cx="469.70" cy="285.20" r="1.5" fill="none" stroke="#d42e4e" stroke-width="0.95"/>
<circle cx="475.90" cy="288.58" r="1.5" fill="#1b4f8a" />
<circle cx="479.10" cy="287.02" r="1.5" fill="#1b4f8a" />
<circle cx="482.10" cy="288.84" r="1.5" fill="#1b4f8a" />
<circle cx="488.90" cy="280.78" r="1.5" fill="#d0112b" />
<circle cx="491.70" cy="285.20" r="1.5" fill="#d0112b" />
<circle cx="494.50" cy="283.64" r="1.5" fill="#d0112b" />
<circle cx="503.90" cy="263.36" r="1.5" fill="#d0112b" />
<circle cx="501.30" cy="276.88" r="1.5" fill="#d0112b" />
<circle cx="505.30" cy="276.62" r="1.5" fill="#d0112b" />
<line x1="446.50" y1="234.60" x2="446.50" y2="290.80" stroke="#231f20" stroke-width="1.0" />
<line x1="446.10" y1="290.40" x2="512.60" y2="290.40" stroke="#231f20" stroke-width="1.0" />
<line x1="444.30" y1="290.40" x2="446.50" y2="290.40" stroke="#231f20" stroke-width="0.8" />
<text x="442.90" y="293.40" font-size="8.6" text-anchor="end" fill="#231f20" stroke="#231f20" stroke-width="0.12" textLength="4.11" lengthAdjust="spacingAndGlyphs" >0</text>
<line x1="444.30" y1="277.40" x2="446.50" y2="277.40" stroke="#231f20" stroke-width="0.8" />
<text x="442.90" y="280.40" font-size="8.6" text-anchor="end" fill="#231f20" stroke="#231f20" stroke-width="0.12" textLength="4.11" lengthAdjust="spacingAndGlyphs" >5</text>
<line x1="444.30" y1="264.40" x2="446.50" y2="264.40" stroke="#231f20" stroke-width="0.8" />
<text x="442.90" y="267.40" font-size="8.6" text-anchor="end" fill="#231f20" stroke="#231f20" stroke-width="0.12" textLength="8.23" lengthAdjust="spacingAndGlyphs" >10</text>
<line x1="444.30" y1="251.40" x2="446.50" y2="251.40" stroke="#231f20" stroke-width="0.8" />
<text x="442.90" y="254.40" font-size="8.6" text-anchor="end" fill="#231f20" stroke="#231f20" stroke-width="0.12" textLength="8.23" lengthAdjust="spacingAndGlyphs" >15</text>
<line x1="444.30" y1="238.40" x2="446.50" y2="238.40" stroke="#231f20" stroke-width="0.8" />
<text x="442.90" y="241.40" font-size="8.6" text-anchor="end" fill="#231f20" stroke="#231f20" stroke-width="0.12" textLength="8.23" lengthAdjust="spacingAndGlyphs" >20</text>
<line x1="454.70" y1="290.40" x2="454.70" y2="292.40" stroke="#231f20" stroke-width="0.8" />
<line x1="466.90" y1="290.40" x2="466.90" y2="292.40" stroke="#231f20" stroke-width="0.8" />
<line x1="479.10" y1="290.40" x2="479.10" y2="292.40" stroke="#231f20" stroke-width="0.8" />
<line x1="491.70" y1="290.40" x2="491.70" y2="292.40" stroke="#231f20" stroke-width="0.8" />
<line x1="503.90" y1="290.40" x2="503.90" y2="292.40" stroke="#231f20" stroke-width="0.8" />
<path d="M466.90 282.60V236.00H503.90V243.90" fill="none" stroke="#222" stroke-width="0.95"/>
<path d="M479.10 284.80V246.90H503.90V254.60" fill="none" stroke="#222" stroke-width="0.95"/>
<path d="M491.70 279.00V257.60H503.90V260.20" fill="none" stroke="#222" stroke-width="0.95"/>
<text x="485.40" y="236.60" font-size="8.6" text-anchor="middle" font-weight="bold" fill="#231f20" textLength="7.50" lengthAdjust="spacingAndGlyphs" >**</text>
<text x="491.50" y="247.40" font-size="8.6" text-anchor="middle" font-weight="bold" fill="#231f20" textLength="7.50" lengthAdjust="spacingAndGlyphs" >**</text>
<text x="497.80" y="258.20" font-size="8.6" text-anchor="middle" font-weight="bold" fill="#231f20" textLength="3.75" lengthAdjust="spacingAndGlyphs" >*</text>
<text x="425.20" y="263.50" font-size="8.8" text-anchor="middle" fill="#231f20" stroke="#231f20" stroke-width="0.12" textLength="49.00" lengthAdjust="spacingAndGlyphs" transform="rotate(-90 425.20 263.50)" >Fold change (RQ)</text>
<text x="459.70" y="298.20" font-size="8.2" text-anchor="end" fill="#231f20" stroke="#231f20" stroke-width="0.12" textLength="14.31" lengthAdjust="spacingAndGlyphs" transform="rotate(-45 459.70 298.20)">WT<tspan baseline-shift="-1.8" font-size="7.0">L</tspan></text>
<text x="471.90" y="298.20" font-size="8.2" text-anchor="end" fill="#231f20" stroke="#231f20" stroke-width="0.12" textLength="28.48" lengthAdjust="spacingAndGlyphs" transform="rotate(-45 471.90 298.20)">Cybb <tspan baseline-shift="3.0" font-size="5.4">KO</tspan><tspan baseline-shift="-1.8" font-size="7.0">L</tspan></text>
<text x="484.10" y="298.20" font-size="8.2" text-anchor="end" fill="#231f20" stroke="#231f20" stroke-width="0.12" textLength="14.31" lengthAdjust="spacingAndGlyphs" transform="rotate(-45 484.10 298.20)">WT<tspan baseline-shift="-1.8" font-size="7.0">L</tspan></text>
<text x="496.70" y="298.20" font-size="8.2" text-anchor="end" fill="#231f20" stroke="#231f20" stroke-width="0.12" textLength="28.48" lengthAdjust="spacingAndGlyphs" transform="rotate(-45 496.70 298.20)">Cybb <tspan baseline-shift="3.0" font-size="5.4">KO</tspan><tspan baseline-shift="-1.8" font-size="7.0">L</tspan></text>
<text x="508.90" y="298.20" font-size="8.2" text-anchor="end" fill="#231f20" stroke="#231f20" stroke-width="0.12" textLength="29.48" lengthAdjust="spacingAndGlyphs" transform="rotate(-45 508.90 298.20)">Cybb <tspan baseline-shift="3.0" font-size="5.4">KO</tspan><tspan baseline-shift="-1.8" font-size="7.0">H</tspan></text>
<line x1="447.40" y1="321.20" x2="467.40" y2="321.20" stroke="#231f20" stroke-width="0.8" />
<line x1="472.60" y1="321.20" x2="508.20" y2="321.20" stroke="#231f20" stroke-width="0.8" />
<text x="457.40" y="331.40" font-size="8.6" text-anchor="middle" fill="#231f20" stroke="#231f20" stroke-width="0.12" textLength="17.80" lengthAdjust="spacingAndGlyphs" >4wks</text>
<text x="490.80" y="331.40" font-size="8.6" text-anchor="middle" fill="#231f20" stroke="#231f20" stroke-width="0.12" textLength="21.20" lengthAdjust="spacingAndGlyphs" >12wks</text>
<text x="479.00" y="347.20" font-size="8.8" text-anchor="middle" font-style="italic" fill="#231f20" stroke="#231f20" stroke-width="0.12" textLength="15.76" lengthAdjust="spacingAndGlyphs" >IL1b</text>
<rect x="462.70" y="410.48" width="8.40" height="3.12" fill="#f3b6c3" />
<rect x="474.90" y="412.35" width="8.40" height="1.25" fill="#7d9fce" />
<rect x="487.50" y="410.90" width="8.40" height="2.70" fill="#f3b6c3" />
<rect x="499.70" y="390.51" width="8.40" height="23.09" fill="#dc4c6a" />
<line x1="491.70" y1="409.86" x2="491.70" y2="411.73" stroke="#111" stroke-width="0.8" />
<line x1="490.10" y1="409.86" x2="493.30" y2="409.86" stroke="#111" stroke-width="0.8" />
<line x1="490.10" y1="411.73" x2="493.30" y2="411.73" stroke="#111" stroke-width="0.8" />
<line x1="503.90" y1="385.94" x2="503.90" y2="396.54" stroke="#111" stroke-width="0.8" />
<line x1="502.30" y1="385.94" x2="505.50" y2="385.94" stroke="#111" stroke-width="0.8" />
<line x1="502.30" y1="396.54" x2="505.50" y2="396.54" stroke="#111" stroke-width="0.8" />
<circle cx="451.10" cy="411.10" r="1.5" fill="#ffffff" stroke="#2a66a8" stroke-width="0.95"/>
<circle cx="453.70" cy="407.57" r="1.5" fill="#ffffff" stroke="#2a66a8" stroke-width="0.95"/>
<circle cx="457.70" cy="410.69" r="1.5" fill="#ffffff" stroke="#2a66a8" stroke-width="0.95"/>
<circle cx="455.70" cy="411.52" r="1.5" fill="#ffffff" stroke="#2a66a8" stroke-width="0.95"/>
<circle cx="464.10" cy="410.27" r="1.5" fill="none" stroke="#d42e4e" stroke-width="0.95"/>
<circle cx="466.90" cy="410.27" r="1.5" fill="none" stroke="#d42e4e" stroke-width="0.95"/>
<circle cx="469.70" cy="410.48" r="1.5" fill="none" stroke="#d42e4e" stroke-width="0.95"/>
<circle cx="476.10" cy="412.35" r="1.5" fill="#1b4f8a" />
<circle cx="479.10" cy="411.73" r="1.5" fill="#1b4f8a" />
<circle cx="482.10" cy="412.35" r="1.5" fill="#1b4f8a" />
<circle cx="488.90" cy="409.65" r="1.5" fill="#d0112b" />
<circle cx="491.70" cy="410.90" r="1.5" fill="#d0112b" />
<circle cx="494.30" cy="411.10" r="1.5" fill="#d0112b" />
<circle cx="503.90" cy="382.82" r="1.5" fill="#d0112b" />
<circle cx="501.90" cy="394.05" r="1.5" fill="#d0112b" />
<circle cx="505.30" cy="392.38" r="1.5" fill="#d0112b" />
<line x1="446.50" y1="357.50" x2="446.50" y2="414.00" stroke="#231f20" stroke-width="1.0" />
<line x1="446.10" y1="413.60" x2="512.60" y2="413.60" stroke="#231f20" stroke-width="1.0" />
<line x1="444.30" y1="413.60" x2="446.50" y2="413.60" stroke="#231f20" stroke-width="0.8" />
<text x="442.90" y="416.60" font-size="8.6" text-anchor="end" fill="#231f20" stroke="#231f20" stroke-width="0.12" textLength="4.11" lengthAdjust="spacingAndGlyphs" >0</text>
<line x1="444.30" y1="403.20" x2="446.50" y2="403.20" stroke="#231f20" stroke-width="0.8" />
<text x="442.90" y="406.20" font-size="8.6" text-anchor="end" fill="#231f20" stroke="#231f20" stroke-width="0.12" textLength="4.11" lengthAdjust="spacingAndGlyphs" >5</text>
<line x1="444.30" y1="392.80" x2="446.50" y2="392.80" stroke="#231f20" stroke-width="0.8" />
<text x="442.90" y="395.80" font-size="8.6" text-anchor="end" fill="#231f20" stroke="#231f20" stroke-width="0.12" textLength="8.23" lengthAdjust="spacingAndGlyphs" >10</text>
<line x1="444.30" y1="382.40" x2="446.50" y2="382.40" stroke="#231f20" stroke-width="0.8" />
<text x="442.90" y="385.40" font-size="8.6" text-anchor="end" fill="#231f20" stroke="#231f20" stroke-width="0.12" textLength="8.23" lengthAdjust="spacingAndGlyphs" >15</text>
<line x1="444.30" y1="372.00" x2="446.50" y2="372.00" stroke="#231f20" stroke-width="0.8" />
<text x="442.90" y="375.00" font-size="8.6" text-anchor="end" fill="#231f20" stroke="#231f20" stroke-width="0.12" textLength="8.23" lengthAdjust="spacingAndGlyphs" >20</text>
<line x1="444.30" y1="361.60" x2="446.50" y2="361.60" stroke="#231f20" stroke-width="0.8" />
<text x="442.90" y="364.60" font-size="8.6" text-anchor="end" fill="#231f20" stroke="#231f20" stroke-width="0.12" textLength="8.23" lengthAdjust="spacingAndGlyphs" >25</text>
<line x1="454.70" y1="413.60" x2="454.70" y2="415.60" stroke="#231f20" stroke-width="0.8" />
<line x1="466.90" y1="413.60" x2="466.90" y2="415.60" stroke="#231f20" stroke-width="0.8" />
<line x1="479.10" y1="413.60" x2="479.10" y2="415.60" stroke="#231f20" stroke-width="0.8" />
<line x1="491.70" y1="413.60" x2="491.70" y2="415.60" stroke="#231f20" stroke-width="0.8" />
<line x1="503.90" y1="413.60" x2="503.90" y2="415.60" stroke="#231f20" stroke-width="0.8" />
<path d="M466.90 407.00V355.40H503.90V363.00" fill="none" stroke="#222" stroke-width="0.95"/>
<path d="M479.10 409.50V366.00H503.90V374.00" fill="none" stroke="#222" stroke-width="0.95"/>
<path d="M491.70 406.50V377.00H503.90V379.60" fill="none" stroke="#222" stroke-width="0.95"/>
<text x="485.40" y="355.60" font-size="8.6" text-anchor="middle" font-weight="bold" fill="#231f20" textLength="14.99" lengthAdjust="spacingAndGlyphs" >****</text>
<text x="491.50" y="366.60" font-size="8.6" text-anchor="middle" font-weight="bold" fill="#231f20" textLength="14.99" lengthAdjust="spacingAndGlyphs" >****</text>
<text x="497.80" y="377.80" font-size="8.6" text-anchor="middle" font-weight="bold" fill="#231f20" textLength="14.99" lengthAdjust="spacingAndGlyphs" >****</text>
<text x="425.20" y="386.55" font-size="8.8" text-anchor="middle" fill="#231f20" stroke="#231f20" stroke-width="0.12" textLength="49.00" lengthAdjust="spacingAndGlyphs" transform="rotate(-90 425.20 386.55)" >Fold change (RQ)</text>
<text x="459.70" y="421.50" font-size="8.2" text-anchor="end" fill="#231f20" stroke="#231f20" stroke-width="0.12" textLength="14.31" lengthAdjust="spacingAndGlyphs" transform="rotate(-45 459.70 421.50)">WT<tspan baseline-shift="-1.8" font-size="7.0">L</tspan></text>
<text x="471.90" y="421.50" font-size="8.2" text-anchor="end" fill="#231f20" stroke="#231f20" stroke-width="0.12" textLength="28.48" lengthAdjust="spacingAndGlyphs" transform="rotate(-45 471.90 421.50)">Cybb <tspan baseline-shift="3.0" font-size="5.4">KO</tspan><tspan baseline-shift="-1.8" font-size="7.0">L</tspan></text>
<text x="484.10" y="421.50" font-size="8.2" text-anchor="end" fill="#231f20" stroke="#231f20" stroke-width="0.12" textLength="14.31" lengthAdjust="spacingAndGlyphs" transform="rotate(-45 484.10 421.50)">WT<tspan baseline-shift="-1.8" font-size="7.0">L</tspan></text>
<text x="496.70" y="421.50" font-size="8.2" text-anchor="end" fill="#231f20" stroke="#231f20" stroke-width="0.12" textLength="28.48" lengthAdjust="spacingAndGlyphs" transform="rotate(-45 496.70 421.50)">Cybb <tspan baseline-shift="3.0" font-size="5.4">KO</tspan><tspan baseline-shift="-1.8" font-size="7.0">L</tspan></text>
<text x="508.90" y="421.50" font-size="8.2" text-anchor="end" fill="#231f20" stroke="#231f20" stroke-width="0.12" textLength="29.48" lengthAdjust="spacingAndGlyphs" transform="rotate(-45 508.90 421.50)">Cybb <tspan baseline-shift="3.0" font-size="5.4">KO</tspan><tspan baseline-shift="-1.8" font-size="7.0">H</tspan></text>
<line x1="447.40" y1="444.00" x2="467.40" y2="444.00" stroke="#231f20" stroke-width="0.8" />
<line x1="472.60" y1="444.00" x2="508.20" y2="444.00" stroke="#231f20" stroke-width="0.8" />
<text x="457.40" y="454.20" font-size="8.6" text-anchor="middle" fill="#231f20" stroke="#231f20" stroke-width="0.12" textLength="17.80" lengthAdjust="spacingAndGlyphs" >4wks</text>
<text x="490.80" y="454.20" font-size="8.6" text-anchor="middle" fill="#231f20" stroke="#231f20" stroke-width="0.12" textLength="21.20" lengthAdjust="spacingAndGlyphs" >12wks</text>
<text x="479.00" y="470.00" font-size="8.8" text-anchor="middle" font-style="italic" fill="#231f20" stroke="#231f20" stroke-width="0.12" textLength="18.45" lengthAdjust="spacingAndGlyphs" >Chil3</text>
<rect x="462.70" y="528.14" width="8.40" height="1.56" fill="#f3b6c3" />
<rect x="474.90" y="525.54" width="8.40" height="4.16" fill="#7d9fce" />
<rect x="487.50" y="525.54" width="8.40" height="4.16" fill="#f3b6c3" />
<rect x="499.70" y="513.06" width="8.40" height="16.64" fill="#dc4c6a" />
<line x1="479.10" y1="524.50" x2="479.10" y2="526.58" stroke="#111" stroke-width="0.8" />
<line x1="477.50" y1="524.50" x2="480.70" y2="524.50" stroke="#111" stroke-width="0.8" />
<line x1="477.50" y1="526.58" x2="480.70" y2="526.58" stroke="#111" stroke-width="0.8" />
<line x1="503.90" y1="508.38" x2="503.90" y2="519.82" stroke="#111" stroke-width="0.8" />
<line x1="502.30" y1="508.38" x2="505.50" y2="508.38" stroke="#111" stroke-width="0.8" />
<line x1="502.30" y1="519.82" x2="505.50" y2="519.82" stroke="#111" stroke-width="0.8" />
<circle cx="451.10" cy="528.14" r="1.5" fill="#ffffff" stroke="#2a66a8" stroke-width="0.95"/>
<circle cx="454.70" cy="528.14" r="1.5" fill="#ffffff" stroke="#2a66a8" stroke-width="0.95"/>
<circle cx="458.30" cy="528.14" r="1.5" fill="#ffffff" stroke="#2a66a8" stroke-width="0.95"/>
<circle cx="464.10" cy="528.14" r="1.5" fill="none" stroke="#d42e4e" stroke-width="0.95"/>
<circle cx="466.90" cy="528.14" r="1.5" fill="none" stroke="#d42e4e" stroke-width="0.95"/>
<circle cx="469.70" cy="528.14" r="1.5" fill="none" stroke="#d42e4e" stroke-width="0.95"/>
<circle cx="476.30" cy="525.02" r="1.5" fill="#1b4f8a" />
<circle cx="479.10" cy="523.98" r="1.5" fill="#1b4f8a" />
<circle cx="481.90" cy="525.02" r="1.5" fill="#1b4f8a" />
<circle cx="489.10" cy="525.54" r="1.5" fill="#d0112b" />
<circle cx="491.70" cy="523.46" r="1.5" fill="#d0112b" />
<circle cx="494.30" cy="525.54" r="1.5" fill="#d0112b" />
<circle cx="503.90" cy="506.82" r="1.5" fill="#d0112b" />
<circle cx="502.30" cy="516.18" r="1.5" fill="#d0112b" />
<circle cx="504.50" cy="514.10" r="1.5" fill="#d0112b" />
<circle cx="504.90" cy="521.90" r="1.5" fill="#d0112b" />
<line x1="446.50" y1="473.50" x2="446.50" y2="530.10" stroke="#231f20" stroke-width="1.0" />
<line x1="446.10" y1="529.70" x2="512.60" y2="529.70" stroke="#231f20" stroke-width="1.0" />
<line x1="444.30" y1="529.70" x2="446.50" y2="529.70" stroke="#231f20" stroke-width="0.8" />
<text x="442.90" y="532.70" font-size="8.6" text-anchor="end" fill="#231f20" stroke="#231f20" stroke-width="0.12" textLength="4.11" lengthAdjust="spacingAndGlyphs" >0</text>
<line x1="444.30" y1="519.30" x2="446.50" y2="519.30" stroke="#231f20" stroke-width="0.8" />
<text x="442.90" y="522.30" font-size="8.6" text-anchor="end" fill="#231f20" stroke="#231f20" stroke-width="0.12" textLength="4.11" lengthAdjust="spacingAndGlyphs" >2</text>
<line x1="444.30" y1="508.90" x2="446.50" y2="508.90" stroke="#231f20" stroke-width="0.8" />
<text x="442.90" y="511.90" font-size="8.6" text-anchor="end" fill="#231f20" stroke="#231f20" stroke-width="0.12" textLength="4.11" lengthAdjust="spacingAndGlyphs" >4</text>
<line x1="444.30" y1="498.50" x2="446.50" y2="498.50" stroke="#231f20" stroke-width="0.8" />
<text x="442.90" y="501.50" font-size="8.6" text-anchor="end" fill="#231f20" stroke="#231f20" stroke-width="0.12" textLength="4.11" lengthAdjust="spacingAndGlyphs" >6</text>
<line x1="444.30" y1="488.10" x2="446.50" y2="488.10" stroke="#231f20" stroke-width="0.8" />
<text x="442.90" y="491.10" font-size="8.6" text-anchor="end" fill="#231f20" stroke="#231f20" stroke-width="0.12" textLength="4.11" lengthAdjust="spacingAndGlyphs" >8</text>
<line x1="444.30" y1="477.70" x2="446.50" y2="477.70" stroke="#231f20" stroke-width="0.8" />
<text x="442.90" y="480.70" font-size="8.6" text-anchor="end" fill="#231f20" stroke="#231f20" stroke-width="0.12" textLength="8.23" lengthAdjust="spacingAndGlyphs" >10</text>
<line x1="454.70" y1="529.70" x2="454.70" y2="531.70" stroke="#231f20" stroke-width="0.8" />
<line x1="466.90" y1="529.70" x2="466.90" y2="531.70" stroke="#231f20" stroke-width="0.8" />
<line x1="479.10" y1="529.70" x2="479.10" y2="531.70" stroke="#231f20" stroke-width="0.8" />
<line x1="491.70" y1="529.70" x2="491.70" y2="531.70" stroke="#231f20" stroke-width="0.8" />
<line x1="503.90" y1="529.70" x2="503.90" y2="531.70" stroke="#231f20" stroke-width="0.8" />
<path d="M466.90 523.00V478.30H503.90V486.50" fill="none" stroke="#222" stroke-width="0.95"/>
<path d="M479.10 520.50V489.50H503.90V497.30" fill="none" stroke="#222" stroke-width="0.95"/>
<path d="M491.70 520.50V500.30H503.90V502.90" fill="none" stroke="#222" stroke-width="0.95"/>
<text x="485.40" y="478.90" font-size="8.6" text-anchor="middle" font-weight="bold" fill="#231f20" textLength="11.24" lengthAdjust="spacingAndGlyphs" >***</text>
<text x="491.50" y="489.90" font-size="8.6" text-anchor="middle" font-weight="bold" fill="#231f20" textLength="7.50" lengthAdjust="spacingAndGlyphs" >**</text>
<text x="497.80" y="500.70" font-size="8.6" text-anchor="middle" font-weight="bold" fill="#231f20" textLength="7.50" lengthAdjust="spacingAndGlyphs" >**</text>
<text x="425.20" y="502.60" font-size="8.8" text-anchor="middle" fill="#231f20" stroke="#231f20" stroke-width="0.12" textLength="49.00" lengthAdjust="spacingAndGlyphs" transform="rotate(-90 425.20 502.60)" >Fold change (RQ)</text>
<text x="459.70" y="537.20" font-size="8.2" text-anchor="end" fill="#231f20" stroke="#231f20" stroke-width="0.12" textLength="14.31" lengthAdjust="spacingAndGlyphs" transform="rotate(-45 459.70 537.20)">WT<tspan baseline-shift="-1.8" font-size="7.0">L</tspan></text>
<text x="471.90" y="537.20" font-size="8.2" text-anchor="end" fill="#231f20" stroke="#231f20" stroke-width="0.12" textLength="28.48" lengthAdjust="spacingAndGlyphs" transform="rotate(-45 471.90 537.20)">Cybb <tspan baseline-shift="3.0" font-size="5.4">KO</tspan><tspan baseline-shift="-1.8" font-size="7.0">L</tspan></text>
<text x="484.10" y="537.20" font-size="8.2" text-anchor="end" fill="#231f20" stroke="#231f20" stroke-width="0.12" textLength="14.31" lengthAdjust="spacingAndGlyphs" transform="rotate(-45 484.10 537.20)">WT<tspan baseline-shift="-1.8" font-size="7.0">L</tspan></text>
<text x="496.70" y="537.20" font-size="8.2" text-anchor="end" fill="#231f20" stroke="#231f20" stroke-width="0.12" textLength="28.48" lengthAdjust="spacingAndGlyphs" transform="rotate(-45 496.70 537.20)">Cybb <tspan baseline-shift="3.0" font-size="5.4">KO</tspan><tspan baseline-shift="-1.8" font-size="7.0">L</tspan></text>
<text x="508.90" y="537.20" font-size="8.2" text-anchor="end" fill="#231f20" stroke="#231f20" stroke-width="0.12" textLength="29.48" lengthAdjust="spacingAndGlyphs" transform="rotate(-45 508.90 537.20)">Cybb <tspan baseline-shift="3.0" font-size="5.4">KO</tspan><tspan baseline-shift="-1.8" font-size="7.0">H</tspan></text>
<line x1="447.40" y1="560.30" x2="467.40" y2="560.30" stroke="#231f20" stroke-width="0.8" />
<line x1="472.60" y1="560.30" x2="508.20" y2="560.30" stroke="#231f20" stroke-width="0.8" />
<text x="457.40" y="570.50" font-size="8.6" text-anchor="middle" fill="#231f20" stroke="#231f20" stroke-width="0.12" textLength="17.80" lengthAdjust="spacingAndGlyphs" >4wks</text>
<text x="490.80" y="570.50" font-size="8.6" text-anchor="middle" fill="#231f20" stroke="#231f20" stroke-width="0.12" textLength="21.20" lengthAdjust="spacingAndGlyphs" >12wks</text>
<rect x="40.60" y="556.50" width="13.45" height="6.05" fill="#aa9ad3" />
<rect x="54.00" y="556.50" width="13.45" height="6.05" fill="#f4987c" />
<rect x="67.40" y="556.50" width="13.45" height="6.05" fill="#f4d6d0" />
<rect x="82.20" y="556.50" width="13.45" height="6.05" fill="#f3e5e5" />
<rect x="95.60" y="556.50" width="13.45" height="6.05" fill="#f4987c" />
<rect x="109.00" y="556.50" width="13.45" height="6.05" fill="#f5ab95" />
<rect x="124.40" y="556.50" width="13.45" height="6.05" fill="#f4987c" />
<rect x="137.80" y="556.50" width="13.45" height="6.05" fill="#f07960" />
<rect x="151.20" y="556.50" width="13.45" height="6.05" fill="#ee644e" />
<rect x="40.60" y="562.50" width="13.45" height="6.05" fill="#7362ba" />
<rect x="54.00" y="562.50" width="13.45" height="6.05" fill="#f6c8ba" />
<rect x="67.40" y="562.50" width="13.45" height="6.05" fill="#f4deda" />
<rect x="82.20" y="562.50" width="13.45" height="6.05" fill="#aa9ad3" />
<rect x="95.60" y="562.50" width="13.45" height="6.05" fill="#f4a288" />
<rect x="109.00" y="562.50" width="13.45" height="6.05" fill="#f5b5a1" />
<rect x="124.40" y="562.50" width="13.45" height="6.05" fill="#f38e73" />
<rect x="137.80" y="562.50" width="13.45" height="6.05" fill="#ef6e57" />
<rect x="151.20" y="562.50" width="13.45" height="6.05" fill="#ea4d3c" />
<rect x="40.60" y="568.50" width="13.45" height="6.05" fill="#7362ba" />
<rect x="54.00" y="568.50" width="13.45" height="6.05" fill="#baacda" />
<rect x="67.40" y="568.50" width="13.45" height="6.05" fill="#baacda" />
<rect x="82.20" y="568.50" width="13.45" height="6.05" fill="#f38e73" />
<rect x="95.60" y="568.50" width="13.45" height="6.05" fill="#f6beae" />
<rect x="109.00" y="568.50" width="13.45" height="6.05" fill="#f6beae" />
<rect x="124.40" y="568.50" width="13.45" height="6.05" fill="#ee644e" />
<rect x="137.80" y="568.50" width="13.45" height="6.05" fill="#ee644e" />
<rect x="151.20" y="568.50" width="13.45" height="6.05" fill="#ec5845" />
<rect x="40.60" y="574.50" width="13.45" height="6.05" fill="#665ab6" />
<rect x="54.00" y="574.50" width="13.45" height="6.05" fill="#baacda" />
<rect x="67.40" y="574.50" width="13.45" height="6.05" fill="#f3e5e5" />
<rect x="82.20" y="574.50" width="13.45" height="6.05" fill="#f5b5a1" />
<rect x="95.60" y="574.50" width="13.45" height="6.05" fill="#f4d6d0" />
<rect x="109.00" y="574.50" width="13.45" height="6.05" fill="#f38e73" />
<rect x="124.40" y="574.50" width="13.45" height="6.05" fill="#f2836a" />
<rect x="137.80" y="574.50" width="13.45" height="6.05" fill="#ee644e" />
<rect x="151.20" y="574.50" width="13.45" height="6.05" fill="#ee644e" />
<rect x="40.60" y="580.50" width="13.45" height="6.05" fill="#8978c4" />
<rect x="54.00" y="580.50" width="13.45" height="6.05" fill="#7e6dbf" />
<rect x="67.40" y="580.50" width="13.45" height="6.05" fill="#ec5845" />
<rect x="82.20" y="580.50" width="13.45" height="6.05" fill="#e5ddeb" />
<rect x="95.60" y="580.50" width="13.45" height="6.05" fill="#cabde1" />
<rect x="109.00" y="580.50" width="13.45" height="6.05" fill="#ec5845" />
<rect x="124.40" y="580.50" width="13.45" height="6.05" fill="#f6c8ba" />
<rect x="137.80" y="580.50" width="13.45" height="6.05" fill="#f2836a" />
<rect x="151.20" y="580.50" width="13.45" height="6.05" fill="#e5ddeb" />
<rect x="40.60" y="586.50" width="13.45" height="6.05" fill="#7362ba" />
<rect x="54.00" y="586.50" width="13.45" height="6.05" fill="#f4a288" />
<rect x="67.40" y="586.50" width="13.45" height="6.05" fill="#f5ab95" />
<rect x="82.20" y="586.50" width="13.45" height="6.05" fill="#f6beae" />
<rect x="95.60" y="586.50" width="13.45" height="6.05" fill="#f2ecf0" />
<rect x="109.00" y="586.50" width="13.45" height="6.05" fill="#f38e73" />
<rect x="124.40" y="586.50" width="13.45" height="6.05" fill="#ee644e" />
<rect x="137.80" y="586.50" width="13.45" height="6.05" fill="#f6beae" />
<rect x="151.20" y="586.50" width="13.45" height="6.05" fill="#e84132" />
<rect x="40.60" y="592.50" width="13.45" height="6.05" fill="#baacda" />
<rect x="54.00" y="592.50" width="13.45" height="6.05" fill="#9f8fce" />
<rect x="67.40" y="592.50" width="13.45" height="6.05" fill="#aa9ad3" />
<rect x="82.20" y="592.50" width="13.45" height="6.05" fill="#aa9ad3" />
<rect x="95.60" y="592.50" width="13.45" height="6.05" fill="#f6c8ba" />
<rect x="109.00" y="592.50" width="13.45" height="6.05" fill="#f38e73" />
<rect x="124.40" y="592.50" width="13.45" height="6.05" fill="#f5cfc5" />
<rect x="137.80" y="592.50" width="13.45" height="6.05" fill="#f07960" />
<rect x="151.20" y="592.50" width="13.45" height="6.05" fill="#e42a20" />
<rect x="40.60" y="598.50" width="13.45" height="6.05" fill="#8978c4" />
<rect x="54.00" y="598.50" width="13.45" height="6.05" fill="#cabde1" />
<rect x="67.40" y="598.50" width="13.45" height="6.05" fill="#9f8fce" />
<rect x="82.20" y="598.50" width="13.45" height="6.05" fill="#b2a3d6" />
<rect x="95.60" y="598.50" width="13.45" height="6.05" fill="#f5cfc5" />
<rect x="109.00" y="598.50" width="13.45" height="6.05" fill="#f5b5a1" />
<rect x="124.40" y="598.50" width="13.45" height="6.05" fill="#ece4ee" />
<rect x="137.80" y="598.50" width="13.45" height="6.05" fill="#ec5845" />
<rect x="151.20" y="598.50" width="13.45" height="6.05" fill="#e42a20" />
<rect x="40.60" y="604.50" width="13.45" height="6.05" fill="#4d4aad" />
<rect x="54.00" y="604.50" width="13.45" height="6.05" fill="#9484c9" />
<rect x="67.40" y="604.50" width="13.45" height="6.05" fill="#f07960" />
<rect x="82.20" y="604.50" width="13.45" height="6.05" fill="#665ab6" />
<rect x="95.60" y="604.50" width="13.45" height="6.05" fill="#f5cfc5" />
<rect x="109.00" y="604.50" width="13.45" height="6.05" fill="#ec5845" />
<rect x="124.40" y="604.50" width="13.45" height="6.05" fill="#665ab6" />
<rect x="137.80" y="604.50" width="13.45" height="6.05" fill="#f07960" />
<rect x="151.20" y="604.50" width="13.45" height="6.05" fill="#cabde1" />
<rect x="40.60" y="610.50" width="13.45" height="6.05" fill="#f2836a" />
<rect x="54.00" y="610.50" width="13.45" height="6.05" fill="#4142a9" />
<rect x="67.40" y="610.50" width="13.45" height="6.05" fill="#b2a3d6" />
<rect x="82.20" y="610.50" width="13.45" height="6.05" fill="#cabde1" />
<rect x="95.60" y="610.50" width="13.45" height="6.05" fill="#f5b5a1" />
<rect x="109.00" y="610.50" width="13.45" height="6.05" fill="#665ab6" />
<rect x="124.40" y="610.50" width="13.45" height="6.05" fill="#665ab6" />
<rect x="137.80" y="610.50" width="13.45" height="6.05" fill="#f2ecf0" />
<rect x="151.20" y="610.50" width="13.45" height="6.05" fill="#f5ab95" />
<rect x="40.60" y="616.50" width="13.45" height="6.05" fill="#9f8fce" />
<rect x="54.00" y="616.50" width="13.45" height="6.05" fill="#4142a9" />
<rect x="67.40" y="616.50" width="13.45" height="6.05" fill="#b2a3d6" />
<rect x="82.20" y="616.50" width="13.45" height="6.05" fill="#aa9ad3" />
<rect x="95.60" y="616.50" width="13.45" height="6.05" fill="#f2ecf0" />
<rect x="109.00" y="616.50" width="13.45" height="6.05" fill="#d2c6e4" />
<rect x="124.40" y="616.50" width="13.45" height="6.05" fill="#8978c4" />
<rect x="137.80" y="616.50" width="13.45" height="6.05" fill="#aa9ad3" />
<rect x="151.20" y="616.50" width="13.45" height="6.05" fill="#f5cfc5" />
<path d="M40.90 555.20V553.20H80.50V555.20" fill="none" stroke="#231f20" stroke-width="1.0"/>
<path d="M82.50 555.20V553.20H122.10V555.20" fill="none" stroke="#231f20" stroke-width="1.0"/>
<path d="M124.70 555.20V553.20H164.30V555.20" fill="none" stroke="#231f20" stroke-width="1.0"/>
<text x="168.80" y="561.60" font-size="6.1" font-style="italic" fill="#231f20" textLength="11.91" lengthAdjust="spacingAndGlyphs" >Il12b</text>
<text x="168.80" y="567.60" font-size="6.1" font-style="italic" fill="#231f20" textLength="11.59" lengthAdjust="spacingAndGlyphs" >Ccr7</text>
<text x="168.80" y="573.60" font-size="6.1" font-style="italic" fill="#231f20" textLength="13.74" lengthAdjust="spacingAndGlyphs" >Inhba</text>
<text x="168.80" y="579.60" font-size="6.1" font-style="italic" fill="#231f20" textLength="8.85" lengthAdjust="spacingAndGlyphs" >Il1b</text>
<text x="168.80" y="585.60" font-size="6.1" font-style="italic" fill="#231f20" textLength="7.93" lengthAdjust="spacingAndGlyphs" >Tnf</text>
<text x="168.80" y="591.60" font-size="6.1" font-style="italic" fill="#231f20" textLength="12.51" lengthAdjust="spacingAndGlyphs" >Chil3</text>
<text x="168.80" y="597.60" font-size="6.1" font-style="italic" fill="#231f20" textLength="15.87" lengthAdjust="spacingAndGlyphs" >Retnla</text>
<text x="168.80" y="603.60" font-size="6.1" font-style="italic" fill="#231f20" textLength="11.60" lengthAdjust="spacingAndGlyphs" >Arg1</text>
<text x="168.80" y="609.60" font-size="6.1" font-style="italic" fill="#231f20" textLength="11.60" lengthAdjust="spacingAndGlyphs" >Egr2</text>
<text x="168.80" y="615.60" font-size="6.1" font-style="italic" fill="#231f20" textLength="9.46" lengthAdjust="spacingAndGlyphs" >Fn1</text>
<text x="168.80" y="621.60" font-size="6.1" font-style="italic" fill="#231f20" textLength="12.20" lengthAdjust="spacingAndGlyphs" >Mrc1</text>
<path d="M181.30 557.20H185.30V586.20H181.30" fill="none" stroke="#231f20" stroke-width="1.05"/>
<path d="M181.30 587.60H185.30V620.30H181.30" fill="none" stroke="#231f20" stroke-width="1.05"/>
<text x="189.00" y="576.60" font-size="8.6" fill="#231f20" stroke="#231f20" stroke-width="0.12" textLength="11.00" lengthAdjust="spacingAndGlyphs" >M1</text>
<text x="189.00" y="607.00" font-size="8.6" fill="#231f20" stroke="#231f20" stroke-width="0.12" textLength="11.00" lengthAdjust="spacingAndGlyphs" >M2</text>
<text x="43.70" y="540.20" font-size="8.2" fill="#231f20" stroke="#231f20" stroke-width="0.12" textLength="34.10" lengthAdjust="spacingAndGlyphs" >WT 12wks</text>
<text x="44.60" y="548.60" font-size="8.2" fill="#231f20" stroke="#231f20" stroke-width="0.12" textLength="30.80" lengthAdjust="spacingAndGlyphs" >CD11b<tspan baseline-shift="3.2" font-size="5.6">low</tspan></text>
<text x="80.00" y="540.20" font-size="8.2" fill="#231f20" stroke="#231f20" stroke-width="0.12" textLength="46.20" lengthAdjust="spacingAndGlyphs" >Cybb<tspan baseline-shift="3.2" font-size="5.6">KO</tspan> 12wks</text>
<text x="90.80" y="548.60" font-size="8.2" fill="#231f20" stroke="#231f20" stroke-width="0.12" textLength="27.70" lengthAdjust="spacingAndGlyphs" >CD11b<tspan baseline-shift="3.2" font-size="5.6">low</tspan></text>
<text x="130.20" y="540.20" font-size="8.2" fill="#231f20" stroke="#231f20" stroke-width="0.12" textLength="47.30" lengthAdjust="spacingAndGlyphs" >Cybb<tspan baseline-shift="3.2" font-size="5.6">KO</tspan> 12wks</text>
<text x="132.30" y="548.60" font-size="8.2" fill="#231f20" stroke="#231f20" stroke-width="0.12" textLength="30.80" lengthAdjust="spacingAndGlyphs" >CD11b<tspan baseline-shift="3.2" font-size="5.6">high</tspan></text>
<rect x="39.80" y="623.80" width="42.60" height="1.80" fill="url(#cbB)" />
<text x="41.40" y="631.40" font-size="5.6" text-anchor="middle" fill="#333" stroke="#333" stroke-width="0.12" >+4</text>
<text x="51.20" y="631.40" font-size="5.6" text-anchor="middle" fill="#333" stroke="#333" stroke-width="0.12" >+2</text>
<text x="61.00" y="631.40" font-size="5.6" text-anchor="middle" fill="#333" stroke="#333" stroke-width="0.12" >0</text>
<text x="71.50" y="631.40" font-size="5.6" text-anchor="middle" fill="#333" stroke="#333" stroke-width="0.12" >−2</text>
<text x="80.60" y="631.40" font-size="5.6" text-anchor="middle" fill="#333" stroke="#333" stroke-width="0.12" >−4</text>
<rect x="0.5" y="0.5" width="519" height="637" fill="none" stroke="#000" stroke-width="1.2"/>
</svg>
</body></html>
